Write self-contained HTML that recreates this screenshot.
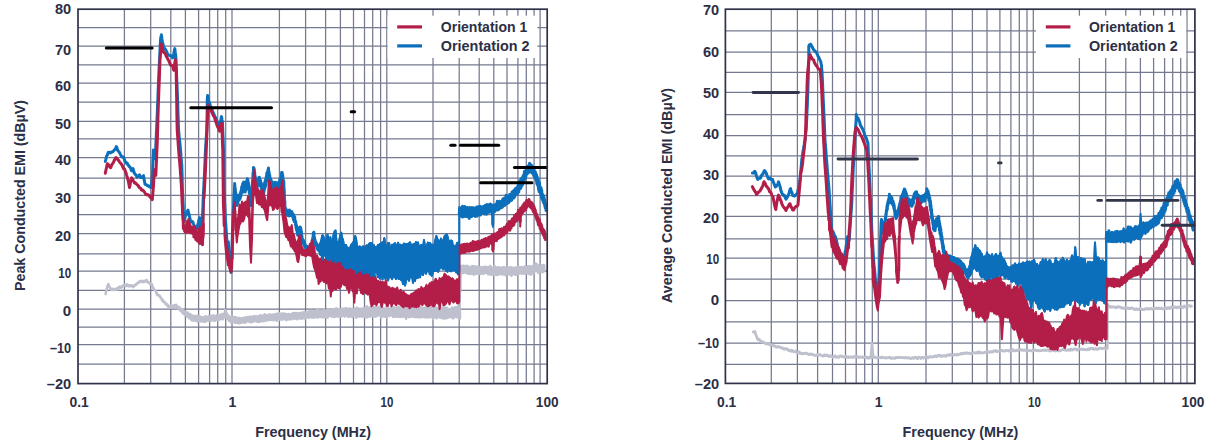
<!DOCTYPE html><html><head><meta charset="utf-8"><title>EMI</title>
<style>html,body{margin:0;padding:0;background:#fff;overflow:hidden;}svg{display:block}text{font-family:"Liberation Sans",sans-serif;font-weight:bold;fill:#2c2f45}</style></head><body>
<svg width="1209" height="447" viewBox="0 0 1209 447">
<rect width="1209" height="447" fill="#fff"/>
<path d="M78.0 27.5H547.2M78.0 46.1H547.2M78.0 64.9H547.2M78.0 83.1H547.2M78.0 102.2H547.2M78.0 121.3H547.2M78.0 138.8H547.2M78.0 157.6H547.2M78.0 178.0H547.2M78.0 195.4H547.2M78.0 214.6H547.2M78.0 233.6H547.2M78.0 253.8H547.2M78.0 271.2H547.2M78.0 290.3H547.2M78.0 309.2H547.2M78.0 327.1H547.2M78.0 344.6H547.2M78.0 364.1H547.2M124.4 9.2V383.6M150.7 9.2V383.6M170.8 9.2V383.6M185.4 9.2V383.6M198.6 9.2V383.6M209.6 9.2V383.6M217.7 9.2V383.6M225.7 9.2V383.6M232.0 9.2V383.6M279.4 9.2V383.6M305.6 9.2V383.6M325.6 9.2V383.6M340.4 9.2V383.6M353.5 9.2V383.6M364.5 9.2V383.6M372.7 9.2V383.6M380.6 9.2V383.6M386.8 9.2V383.6M433.0 9.2V383.6M459.2 9.2V383.6M479.2 9.2V383.6M493.8 9.2V383.6M507.0 9.2V383.6M517.9 9.2V383.6M526.3 9.2V383.6M534.1 9.2V383.6M540.1 9.2V383.6" stroke="#757a90" stroke-width="1.25" fill="none"/>
<rect x="387.6" y="15.7" width="149.8" height="42.3" fill="#fff"/>
<polyline points="105.6,294.1 105.8,293.1 106.1,291.5 106.3,290.7 106.6,289.7 106.8,288.4 107.1,287.6 107.4,286.3 107.7,285.6 108.0,285.1 108.3,284.2 108.5,284.8 108.8,285.4 109.0,286.3 109.3,286.5 109.5,287.2 109.8,287.7 110.1,287.7 110.4,288.5 110.6,289.2 110.9,289.5 111.2,289.8 111.5,289.4 111.8,289.1 112.1,288.7 112.4,288.8 112.7,289.4 113.0,289.5 113.3,290.0 113.6,290.0 113.9,289.5 114.2,289.5 114.4,289.3 114.7,289.6 115.0,288.9 115.3,289.8 115.6,289.5 115.9,289.7 116.2,289.4 116.5,289.2 116.8,288.5 117.1,288.9 117.4,288.2 117.7,289.2 118.0,289.5 118.2,288.6 118.5,287.9 118.8,287.5 119.1,286.9 119.4,286.7 119.7,286.9 120.0,287.2 120.3,287.0 120.6,287.7 120.8,287.2 121.1,286.8 121.4,287.5 121.7,287.2 122.0,287.0 122.3,286.1 122.6,286.0 122.9,286.0 123.2,285.9 123.5,285.7 123.7,285.4 124.0,285.5 124.3,285.9 124.6,285.9 124.9,285.2 125.2,285.7 125.5,285.8 125.8,285.9 126.1,286.2 126.4,285.2 126.7,285.6 127.0,284.2 127.3,284.6 127.6,284.9 127.9,285.6 128.2,285.5 128.5,285.9 128.8,285.5 129.1,286.4 129.4,285.6 129.7,285.9 130.0,285.3 130.3,285.5 130.6,286.0 130.9,285.8 131.2,285.3 131.5,285.5 131.8,286.2 132.1,286.0 132.4,285.6 132.7,286.0 133.0,286.4 133.3,287.1 133.6,286.1 133.9,286.2 134.2,285.9 134.5,285.5 134.8,285.6 135.1,285.5 135.4,284.6 135.7,284.4 135.9,284.8 136.2,284.0 136.5,284.2 136.8,283.6 137.1,284.0 137.4,283.7 137.7,282.8 138.0,282.6 138.3,282.5 138.6,282.2 138.9,282.1 139.2,281.8 139.5,282.3 139.8,281.2 140.1,281.6 140.4,281.7 140.7,281.2 141.0,281.2 141.3,280.9 141.6,280.9 141.9,281.7 142.2,281.8 142.5,281.3 142.8,282.1 143.1,281.1 143.4,281.4 143.7,281.5 144.0,282.0 144.3,281.8 144.6,281.7 144.9,281.1 145.2,280.9 145.5,281.5 145.8,280.2 146.1,280.2 146.4,280.0 146.7,280.0 147.0,281.0 147.3,282.1 147.6,282.3 147.9,282.1 148.2,282.5 148.5,282.2 148.8,282.4 149.1,282.8 149.3,283.0 149.6,283.4 149.9,283.7 150.2,284.1 150.5,283.8 150.8,283.4 151.1,283.2 151.4,284.0 151.7,284.1 152.0,285.2 152.3,285.5 152.6,286.7 152.9,287.4 153.2,288.4 153.5,288.3 153.8,289.2 154.0,289.5 154.3,289.5 154.6,289.9 154.9,290.1 155.2,290.4 155.5,291.1 155.8,291.2 156.1,291.9 156.4,293.2 156.7,292.9 157.0,294.6 157.3,294.2 157.5,295.0 157.8,295.2 158.1,295.1 158.4,295.5 158.7,295.2 159.0,295.3 159.3,295.7 159.6,295.8 159.9,296.5 160.2,296.3 160.5,297.7 160.8,297.9 161.0,297.8 161.3,298.4 161.6,298.9 161.9,299.8 162.2,299.8 162.5,300.2 162.8,301.4 163.1,300.2 163.4,300.9 163.7,301.8 164.0,302.1 164.2,301.8 164.5,302.6 164.8,302.3 165.1,303.4 165.4,302.9 165.7,304.2 166.0,303.5 166.3,304.4 166.6,304.1 166.9,305.3 167.2,304.4 167.5,305.8 167.7,305.0 168.0,306.2 168.3,305.6 168.6,307.2 168.9,306.3 169.2,307.8 169.5,306.5 169.8,307.5 170.1,306.4 170.4,307.6 170.7,305.8 171.0,307.3 171.3,305.9 171.6,307.6 171.9,305.7 172.2,307.1 172.5,306.0 172.7,307.1 173.0,305.9 173.3,306.9 173.6,305.5 173.9,306.8 174.2,305.4 174.5,306.7 174.8,305.3 175.1,306.6 175.4,305.3 175.7,306.4 176.0,304.8 176.3,306.6 176.6,305.7 176.9,307.5 177.2,306.2 177.5,307.8 177.8,306.5 178.1,308.3 178.4,307.1 178.7,308.8 179.0,307.3 179.3,309.7 179.6,307.6 179.9,309.8 180.1,308.3 180.4,310.6 180.7,309.0 181.0,310.9 181.3,309.0 181.6,311.7 181.9,309.4 182.2,312.2 182.5,309.8 182.8,313.2 183.1,310.1 183.4,313.7 183.7,311.2 184.0,313.5 184.3,311.3 184.6,314.6 184.9,311.7 185.2,314.5 185.5,312.1 185.8,314.8 186.1,312.6 186.4,315.5 186.7,312.5 187.0,316.5 187.3,313.6 187.6,316.3 187.9,312.8 188.1,316.5 188.4,313.6 188.7,317.1 189.0,314.7 189.3,318.1 189.6,314.7 189.9,317.8 190.2,314.1 190.5,318.3 190.8,315.4 191.1,319.3 191.4,315.4 191.7,320.2 192.0,315.5 192.3,320.2 192.6,316.4 192.9,320.4 193.2,316.1 193.5,319.3 193.8,315.8 194.0,320.6 194.3,316.9 194.6,319.4 194.9,316.4 195.2,320.3 195.5,316.4 195.8,319.8 196.1,316.0 196.4,320.7 196.7,316.0 197.0,320.9 197.3,317.2 197.5,321.6 197.8,316.0 198.1,320.4 198.4,316.4 198.7,320.8 199.0,316.3 199.3,321.3 199.6,316.3 199.9,320.6 200.2,317.3 200.5,320.9 200.8,317.4 201.0,321.3 201.3,317.3 201.6,321.4 201.9,317.8 202.2,320.3 202.5,317.5 202.8,321.2 203.1,317.2 203.4,321.2 203.7,317.3 204.0,321.8 204.3,317.4 204.6,321.4 204.9,317.6 205.2,320.8 205.5,316.3 205.8,321.5 206.1,316.7 206.4,320.3 206.7,316.8 207.0,320.7 207.3,317.2 207.6,320.2 207.9,317.0 208.2,320.1 208.4,316.9 208.7,320.7 209.0,316.0 209.3,320.8 209.6,316.7 209.9,320.7 210.2,316.5 210.5,321.1 210.8,316.0 211.1,319.4 211.4,316.0 211.7,319.9 212.0,316.6 212.3,319.4 212.6,316.7 212.9,319.4 213.2,315.4 213.5,320.4 213.8,316.4 214.1,319.0 214.4,316.6 214.7,321.0 215.0,316.5 215.3,318.9 215.6,316.2 215.8,319.5 216.1,315.9 216.4,319.0 216.7,315.4 217.0,320.0 217.3,314.9 217.6,318.8 217.9,315.3 218.2,319.2 218.5,315.7 218.8,319.1 219.1,315.0 219.4,319.6 219.7,315.3 219.9,319.1 220.2,315.2 220.5,319.0 220.8,314.8 221.1,319.0 221.4,314.7 221.7,318.6 222.0,314.0 222.3,319.3 222.6,315.0 222.9,319.2 223.2,314.5 223.4,318.2 223.7,314.7 224.0,317.4 224.3,313.9 224.6,317.2 224.8,312.6 225.1,314.7 225.3,310.2 225.6,311.1 225.8,310.2 226.1,314.8 226.3,313.0 226.6,318.2 226.9,314.1 227.2,318.6 227.5,315.4 227.8,319.2 228.1,315.2 228.4,319.4 228.7,316.2 229.0,320.6 229.3,317.1 229.6,320.6 229.9,317.0 230.2,320.4 230.5,317.7 230.8,322.2 231.1,317.4 231.4,321.3 231.7,317.4 232.0,321.1 232.3,316.7 232.6,320.9 232.9,317.7 233.2,321.9 233.5,317.1 233.8,321.4 234.1,318.4 234.4,321.7 234.7,317.3 234.9,322.5 235.2,317.7 235.5,322.9 235.8,317.4 236.1,321.5 236.4,318.4 236.7,321.6 237.0,318.6 237.3,321.7 237.6,318.4 237.9,323.0 238.2,318.2 238.5,321.8 238.8,317.9 239.1,322.7 239.4,319.0 239.7,323.3 240.0,318.8 240.3,322.3 240.6,318.3 240.9,321.9 241.2,319.1 241.5,322.7 241.8,318.7 242.1,322.1 242.4,319.0 242.7,321.7 243.0,318.4 243.3,322.3 243.6,317.7 243.9,321.9 244.2,317.7 244.5,322.6 244.8,318.6 245.1,322.4 245.4,317.9 245.7,322.5 246.0,318.1 246.3,321.6 246.6,317.0 246.9,321.3 247.2,317.2 247.5,321.2 247.8,317.5 248.1,321.0 248.4,318.0 248.7,321.1 249.0,317.8 249.3,321.6 249.6,316.8 249.9,321.8 250.2,317.9 250.5,322.2 250.8,317.8 251.1,322.1 251.4,316.7 251.7,321.8 252.0,316.9 252.3,320.7 252.5,317.8 252.8,321.4 253.1,317.5 253.4,321.7 253.7,317.1 254.0,320.4 254.3,316.0 254.6,320.5 254.9,316.2 255.2,320.6 255.5,316.7 255.8,321.0 256.1,316.6 256.4,321.5 256.7,316.6 257.0,320.6 257.3,317.2 257.6,321.2 257.9,316.9 258.2,321.9 258.5,316.2 258.8,321.3 259.1,316.1 259.4,320.4 259.7,315.7 260.0,321.7 260.3,315.3 260.6,320.3 260.9,316.7 261.2,320.1 261.5,315.9 261.8,320.6 262.1,315.8 262.4,320.2 262.7,316.6 263.0,321.3 263.3,316.1 263.6,320.8 263.9,316.1 264.2,320.9 264.5,314.4 264.8,320.8 265.1,315.8 265.4,320.2 265.7,315.3 266.0,319.7 266.3,315.6 266.6,320.0 266.9,315.6 267.2,320.4 267.5,315.8 267.8,319.4 268.1,316.1 268.4,319.9 268.7,314.5 269.0,319.8 269.3,316.0 269.6,319.7 269.9,315.7 270.2,318.8 270.5,314.5 270.8,319.8 271.1,315.3 271.4,319.9 271.7,315.5 272.0,319.9 272.3,314.7 272.6,318.8 272.9,315.6 273.2,319.9 273.5,314.5 273.8,320.0 274.1,315.3 274.4,320.0 274.7,315.1 275.0,319.3 275.3,314.4 275.6,318.9 275.9,315.0 276.2,319.7 276.5,313.9 276.8,320.6 277.1,315.0 277.4,319.1 277.7,314.1 278.0,319.3 278.3,313.7 278.6,319.1 278.9,314.4 279.2,318.2 279.5,313.2 279.8,319.6 280.1,314.4 280.4,319.2 280.7,314.1 281.0,319.2 281.3,313.7 281.6,319.5 281.9,313.7 282.2,319.4 282.5,315.0 282.8,319.5 283.1,314.2 283.4,318.8 283.7,313.6 284.0,318.7 284.3,314.9 284.6,318.9 284.9,313.7 285.2,318.7 285.5,314.9 285.8,318.0 286.1,314.5 286.4,320.1 286.7,314.3 287.0,318.4 287.3,314.6 287.6,318.2 287.9,314.3 288.2,318.8 288.5,314.6 288.8,319.5 289.1,314.0 289.4,318.4 289.7,314.3 290.0,318.6 290.3,314.7 290.6,318.2 290.9,314.6 291.2,319.3 291.5,314.4 291.8,318.3 292.1,313.9 292.4,318.4 292.7,313.3 293.0,318.0 293.3,313.5 293.6,317.9 293.9,313.1 294.2,318.6 294.5,313.2 294.8,317.6 295.1,313.9 295.4,317.9 295.7,313.1 296.0,318.1 296.3,313.5 296.6,319.1 296.9,314.1 297.1,318.2 297.4,313.1 297.7,318.9 298.0,314.0 298.3,317.4 298.6,314.0 298.9,317.3 299.2,313.5 299.5,318.3 299.8,313.8 300.1,317.3 300.4,313.1 300.7,318.6 301.0,313.0 301.3,317.1 301.6,313.6 301.9,317.5 302.2,312.9 302.5,318.4 302.8,313.4 303.1,316.7 303.4,313.6 303.7,317.0 304.0,312.1 304.3,316.8 304.6,313.4 304.9,318.4 305.2,312.3 305.5,316.8 305.8,312.8 306.1,317.2 306.4,312.3 306.7,316.5 307.0,313.3 307.3,317.2 307.6,312.2 307.9,317.8 308.2,313.2 308.5,317.7 308.8,311.5 309.1,317.4 309.4,311.6 309.7,316.2 310.0,311.7 310.3,317.2 310.5,311.3 310.8,317.2 311.1,310.8 311.4,316.5 311.7,312.7 312.0,317.4 312.3,311.9 312.6,317.0 312.9,311.6 313.2,317.6 313.5,311.5 313.8,317.5 314.1,311.6 314.4,316.5 314.7,311.3 315.0,316.4 315.3,312.2 315.6,315.8 315.9,312.2 316.2,317.3 316.5,311.7 316.8,316.6 317.1,309.6 317.4,316.0 317.7,311.3 318.0,317.4 318.3,310.2 318.6,316.4 318.9,311.8 319.2,316.3 319.5,311.7 319.8,316.7 320.1,310.7 320.4,316.7 320.7,311.1 321.0,315.9 321.3,311.7 321.6,317.1 321.9,311.4 322.2,316.9 322.5,311.3 322.8,317.3 323.1,310.2 323.4,316.7 323.7,310.8 324.0,317.2 324.3,310.3 324.6,315.3 324.9,311.8 325.2,317.1 325.5,310.6 325.8,316.6 326.1,310.4 326.4,317.0 326.7,310.5 327.0,316.3 327.3,311.3 327.6,317.8 327.9,311.0 328.2,315.4 328.5,309.8 328.8,315.8 329.1,310.4 329.4,315.3 329.7,311.0 330.0,315.6 330.3,311.5 330.6,315.6 330.8,310.6 331.1,315.4 331.4,311.4 331.7,316.7 332.0,309.6 332.3,315.7 332.6,309.3 332.9,315.4 333.2,310.6 333.5,315.6 333.8,310.8 334.1,317.0 334.4,311.1 334.7,316.8 335.0,311.3 335.3,316.5 335.6,309.1 335.9,316.5 336.2,308.2 336.5,315.8 336.8,310.9 337.1,316.2 337.4,309.6 337.7,315.9 338.0,310.6 338.3,315.1 338.6,309.7 338.9,316.7 339.2,309.9 339.5,316.4 339.8,309.0 340.1,315.0 340.4,309.7 340.7,315.1 341.0,309.7 341.3,316.5 341.6,309.2 341.9,316.2 342.2,308.8 342.5,314.6 342.8,308.9 343.1,315.6 343.4,310.2 343.7,315.5 344.0,310.8 344.3,314.8 344.6,308.6 344.9,316.4 345.2,310.7 345.5,315.4 345.8,309.3 346.1,314.7 346.4,308.4 346.7,314.6 347.0,310.0 347.3,315.9 347.6,308.8 347.9,315.9 348.2,310.1 348.5,316.7 348.8,309.1 349.1,316.7 349.4,309.9 349.7,314.4 350.0,308.6 350.3,314.8 350.6,310.2 350.9,314.9 351.2,309.3 351.5,316.4 351.8,309.8 352.1,317.0 352.4,308.7 352.7,315.1 353.0,309.0 353.3,316.2 353.6,310.3 353.9,314.9 354.2,308.8 354.5,314.3 354.8,309.4 355.1,314.8 355.4,309.9 355.7,316.5 356.0,309.6 356.3,317.7 356.6,307.9 356.9,315.3 357.2,309.8 357.5,314.7 357.8,308.2 358.1,315.9 358.4,310.2 358.7,314.3 359.0,309.1 359.3,316.8 359.6,310.2 359.9,316.4 360.2,308.9 360.5,314.2 360.8,309.6 361.1,316.3 361.4,308.9 361.7,314.6 362.0,309.2 362.3,316.7 362.6,309.4 362.9,315.1 363.2,308.3 363.5,316.2 363.8,309.9 364.1,314.4 364.4,309.1 364.7,314.2 365.0,308.3 365.3,317.3 365.6,309.6 365.9,315.4 366.2,309.8 366.5,314.2 366.8,306.4 367.1,317.3 367.4,308.8 367.7,316.1 368.0,307.9 368.3,316.5 368.6,307.7 368.9,314.9 369.2,308.6 369.5,316.1 369.8,307.7 370.1,316.4 370.4,307.3 370.7,314.9 371.0,309.6 371.3,315.5 371.6,309.6 371.9,315.5 372.2,307.9 372.5,315.6 372.8,307.4 373.1,315.3 373.4,308.1 373.7,315.5 374.0,307.7 374.3,314.4 374.6,308.0 374.9,315.3 375.2,307.4 375.5,316.7 375.8,308.2 376.1,314.6 376.4,309.4 376.7,315.7 377.0,308.7 377.3,315.3 377.6,307.7 377.9,315.5 378.2,307.2 378.5,314.9 378.8,308.2 379.1,314.1 379.4,309.2 379.7,315.0 380.0,306.5 380.3,315.1 380.6,309.2 380.9,317.5 381.2,308.2 381.5,316.3 381.8,307.4 382.1,316.7 382.4,307.7 382.7,316.0 383.0,308.5 383.3,315.0 383.6,309.6 383.9,316.1 384.2,308.7 384.5,315.5 384.8,308.5 385.1,316.8 385.4,309.1 385.7,316.0 386.0,308.4 386.3,315.1 386.6,307.5 386.9,317.8 387.2,309.2 387.5,314.6 387.8,307.7 388.1,314.2 388.4,309.6 388.7,315.2 389.0,309.6 389.3,316.0 389.6,309.7 389.9,315.5 390.2,309.3 390.5,314.5 390.8,307.5 391.1,315.3 391.4,307.7 391.7,315.2 392.0,308.0 392.3,315.4 392.6,309.5 392.9,316.8 393.2,309.7 393.5,316.9 393.8,307.3 394.1,316.2 394.4,309.6 394.7,316.8 395.0,308.2 395.3,316.2 395.6,309.1 395.9,314.7 396.2,308.6 396.5,314.4 396.8,308.9 397.1,316.8 397.4,308.3 397.7,316.7 398.0,307.4 398.3,316.0 398.6,307.4 398.9,315.6 399.2,306.7 399.5,316.3 399.8,308.4 400.1,317.0 400.4,309.2 400.7,314.7 401.0,309.2 401.3,315.2 401.6,309.8 401.9,316.1 402.2,307.8 402.5,316.9 402.8,308.7 403.1,316.5 403.4,307.5 403.7,316.3 404.0,309.8 404.3,315.7 404.6,308.1 404.9,316.5 405.2,305.7 405.5,316.6 405.8,307.8 406.1,318.6 406.4,307.7 406.7,316.2 407.0,309.4 407.3,316.5 407.6,307.2 407.9,316.4 408.2,308.8 408.5,315.6 408.8,309.4 409.1,317.2 409.4,307.4 409.7,315.9 410.0,308.2 410.3,315.6 410.6,307.9 410.9,316.6 411.2,308.1 411.5,315.3 411.8,309.9 412.1,316.4 412.4,309.6 412.7,315.8 413.0,309.8 413.3,316.8 413.6,309.8 413.9,314.7 414.2,307.6 414.5,316.9 414.8,307.2 415.1,316.9 415.4,308.3 415.7,317.0 416.0,307.6 416.3,316.0 416.6,308.0 416.9,317.0 417.2,307.1 417.5,316.2 417.8,309.7 418.1,314.7 418.4,309.1 418.7,317.3 419.0,308.6 419.3,317.4 419.6,308.1 419.9,316.1 420.2,307.3 420.5,316.7 420.8,308.7 421.1,315.4 421.4,307.8 421.7,317.3 422.0,309.3 422.3,315.3 422.6,308.9 422.9,316.6 423.2,308.2 423.5,314.8 423.8,308.5 424.1,315.3 424.4,309.3 424.7,317.2 425.0,307.8 425.3,316.9 425.6,307.7 425.9,315.4 426.2,309.6 426.5,317.1 426.8,307.7 427.1,315.5 427.4,309.1 427.7,316.4 428.0,309.4 428.3,317.4 428.6,305.6 428.9,317.1 429.2,309.3 429.5,315.0 429.8,308.0 430.1,317.2 430.4,307.2 430.7,315.8 431.0,307.7 431.3,316.5 431.6,307.3 431.9,315.6 432.2,309.8 432.5,317.3 432.8,308.6 433.1,318.7 433.4,307.2 433.7,317.1 434.0,308.5 434.3,316.1 434.6,309.8 434.9,316.6 435.1,308.6 435.4,316.3 435.7,307.7 436.0,317.5 436.3,309.4 436.6,318.3 436.9,307.7 437.2,316.8 437.5,309.7 437.8,315.8 438.1,309.1 438.4,316.6 438.7,309.3 439.0,317.3 439.3,309.6 439.6,316.9 439.9,307.6 440.2,315.4 440.5,310.0 440.8,317.8 441.1,308.5 441.4,316.2 441.7,308.2 442.0,318.3 442.3,309.0 442.6,317.1 442.9,306.4 443.2,315.5 443.5,307.9 443.8,316.8 444.1,307.7 444.4,318.6 444.7,307.2 445.0,317.0 445.3,308.8 445.6,318.0 445.9,308.3 446.2,315.6 446.5,309.8 446.8,316.2 447.1,307.8 447.4,317.9 447.7,308.7 448.0,317.0 448.3,309.5 448.6,315.9 448.9,309.9 449.2,317.3 449.5,309.2 449.8,315.2 450.1,309.4 450.4,315.2 450.7,310.1 451.0,315.1 451.3,309.8 451.6,317.2 451.9,307.8 452.2,317.1 452.5,307.9 452.8,318.2 453.1,308.9 453.4,318.1 453.7,310.0 454.0,316.3 454.3,309.7 454.6,316.5 454.9,307.6 455.2,315.7 455.5,307.6 455.8,316.1 456.1,307.2 456.4,317.1 456.7,307.9 457.0,315.8 457.3,306.7 457.6,315.7 457.9,309.7 458.2,317.1 458.5,309.4 458.8,316.4 459.1,307.5 459.4,318.1 459.7,307.6 460.0,317.9" fill="none" stroke="#bec0cd" stroke-width="2.6" stroke-linejoin="round" stroke-linecap="round"/><polygon points="460.0,306.4 460.3,288.6 460.3,292.0 460.0,319.2" fill="#bec0cd" stroke="#bec0cd" stroke-width="1.6" stroke-linejoin="round"/><polyline points="460.3,291.2 460.5,278.3 460.6,273.2 460.9,265.7 461.2,272.2 461.5,266.7 461.8,273.1 462.1,267.4 462.4,273.0 462.7,267.6 463.0,272.2 463.3,265.8 463.6,272.5 463.9,268.0 464.2,272.6 464.5,266.1 464.8,272.1 465.1,268.1 465.4,272.4 465.7,266.3 466.0,272.4 466.3,267.3 466.6,272.7 466.9,265.9 467.2,273.3 467.5,266.3 467.8,273.6 468.1,267.5 468.4,273.7 468.7,267.1 469.0,272.0 469.3,268.0 469.6,273.7 469.9,268.0 470.2,273.6 470.5,268.2 470.8,274.0 471.1,266.6 471.4,272.7 471.7,266.9 472.0,272.1 472.3,267.6 472.6,272.4 472.9,266.0 473.2,273.6 473.5,266.8 473.8,274.8 474.1,267.9 474.4,273.5 474.7,266.4 475.0,273.7 475.3,268.1 475.6,272.1 475.9,267.8 476.2,272.2 476.5,267.3 476.8,273.6 477.1,266.9 477.4,272.9 477.7,266.7 478.0,272.2 478.3,267.1 478.6,273.3 478.9,267.7 479.2,273.4 479.5,267.8 479.8,272.7 480.1,267.4 480.4,273.9 480.7,267.1 480.9,272.3 481.2,268.2 481.5,273.5 481.8,268.3 482.1,273.4 482.4,267.5 482.7,273.5 483.0,267.5 483.3,273.6 483.6,267.5 483.9,273.1 484.2,267.7 484.5,273.2 484.8,266.9 485.1,272.5 485.4,267.7 485.7,272.3 486.0,267.0 486.3,272.6 486.6,268.4 486.9,272.8 487.2,267.5 487.5,272.6 487.8,268.4 488.1,274.3 488.4,267.1 488.7,272.4 489.0,268.4 489.3,273.9 489.6,267.1 489.9,274.5 490.2,266.1 490.5,273.0 490.8,267.0 491.1,273.0 491.4,268.4 491.7,274.4 492.0,267.5 492.3,272.9 492.6,268.5 492.9,274.4 493.2,268.6 493.5,274.3 493.8,267.9 494.1,272.9 494.4,265.9 494.7,274.0 495.0,268.7 495.3,274.4 495.6,267.8 495.9,273.4 496.2,267.6 496.5,275.0 496.8,268.1 497.1,273.3 497.4,267.7 497.7,272.9 498.0,268.4 498.3,274.6 498.6,267.2 498.9,273.5 499.2,268.9 499.5,273.7 499.8,268.0 500.1,273.7 500.4,268.3 500.7,273.3 501.0,267.8 501.3,274.1 501.6,268.4 501.9,273.1 502.2,268.8 502.5,274.5 502.8,267.2 503.1,273.2 503.4,269.1 503.7,273.6 504.0,267.3 504.3,274.3 504.6,268.1 504.9,273.1 505.2,267.7 505.5,275.1 505.8,268.7 506.1,272.9 506.4,268.3 506.7,273.0 507.0,268.5 507.3,272.8 507.6,268.5 507.9,273.9 508.2,267.7 508.5,272.7 508.8,268.0 509.0,272.7 509.3,267.7 509.6,274.5 509.9,268.1 510.2,273.6 510.5,267.0 510.8,274.3 511.1,268.3 511.4,275.6 511.7,268.1 512.0,274.0 512.3,268.9 512.6,272.4 512.9,267.7 513.2,274.0 513.5,268.8 513.8,274.1 514.1,268.6 514.4,272.3 514.7,267.8 515.0,273.5 515.3,267.8 515.6,274.9 515.9,268.3 516.2,272.4 516.5,267.7 516.8,272.3 517.1,268.4 517.4,273.9 517.7,266.8 518.0,272.9 518.3,268.0 518.6,274.0 518.9,268.0 519.2,272.8 519.5,267.1 519.8,273.3 520.1,267.5 520.4,273.0 520.7,267.0 521.0,273.1 521.3,267.2 521.6,272.0 521.9,267.3 522.2,273.8 522.5,268.1 522.8,272.3 523.1,267.5 523.4,273.3 523.7,267.4 524.0,273.4 524.2,268.0 524.5,273.3 524.8,266.5 525.1,273.6 525.4,268.2 525.7,273.2 526.0,267.8 526.3,272.2 526.6,267.0 526.9,272.9 527.2,266.8 527.5,273.4 527.8,266.7 528.1,273.2 528.4,266.2 528.7,272.0 529.0,267.2 529.3,273.9 529.6,266.9 529.9,272.5 530.2,266.3 530.5,272.5 530.8,266.6 531.1,274.6 531.4,268.0 531.7,273.0 532.0,268.1 532.3,271.8 532.6,266.8 532.9,272.7 533.2,266.0 533.5,272.8 533.8,264.8 534.0,270.1 534.3,266.2 534.6,271.0 534.9,264.8 535.2,271.1 535.5,263.6 535.8,269.2 536.1,265.2 536.3,270.2 536.6,264.1 536.9,270.5 537.2,266.0 537.5,270.8 537.7,265.4 538.0,272.6 538.3,265.5 538.6,272.7 538.9,267.0 539.2,271.5 539.5,266.9 539.7,271.4 540.0,267.1 540.3,271.5 540.6,266.6 540.9,271.6 541.2,265.9 541.5,271.7 541.8,265.5 542.1,271.8 542.4,266.8 542.7,272.3 542.9,266.7 543.2,271.8 543.5,265.1 543.8,271.4 544.1,265.4 544.4,270.5" fill="none" stroke="#bec0cd" stroke-width="2.6" stroke-linejoin="round" stroke-linecap="round"/>
<polyline points="105.3,161.5 105.5,160.7 105.8,159.5 106.0,158.5 106.3,157.3 106.5,156.2 106.8,156.0 107.1,155.3 107.4,155.0 107.7,153.9 108.0,153.1 108.3,152.4 108.6,152.7 108.9,152.4 109.2,152.3 109.4,152.3 109.7,152.4 110.0,152.6 110.3,152.9 110.6,152.8 110.9,152.4 111.2,152.2 111.5,152.0 111.8,151.9 112.1,151.9 112.4,151.9 112.6,151.8 112.9,151.7 113.2,151.2 113.5,151.2 113.8,150.6 114.1,150.2 114.3,149.8 114.6,149.7 114.9,149.4 115.2,149.3 115.5,148.8 115.7,148.4 116.0,147.4 116.3,146.6 116.6,147.0 116.9,147.7 117.2,148.7 117.4,149.5 117.7,150.5 118.0,150.8 118.3,151.0 118.6,151.5 118.9,151.7 119.2,152.4 119.5,152.6 119.7,152.9 120.0,153.6 120.3,154.2 120.6,154.7 120.9,155.4 121.2,155.8 121.5,156.2 121.8,156.6 122.1,156.6 122.4,157.0 122.7,157.3 123.0,157.1 123.3,157.1 123.6,157.3 123.9,158.1 124.2,158.9 124.5,159.9 124.7,160.8 125.0,161.1 125.3,161.9 125.6,162.3 125.9,162.9 126.2,163.0 126.5,163.2 126.8,162.8 127.1,163.0 127.3,163.4 127.6,164.2 127.9,164.7 128.2,165.3 128.5,165.4 128.8,165.6 129.1,166.1 129.3,166.6 129.6,167.0 129.9,167.3 130.2,167.3 130.5,168.0 130.8,168.4 131.0,169.5 131.3,170.3 131.6,170.7 131.9,170.2 132.2,169.6 132.4,169.0 132.7,168.8 133.0,168.5 133.3,169.5 133.5,170.7 133.8,171.4 134.0,172.4 134.3,173.1 134.6,173.4 134.9,173.8 135.2,174.3 135.5,174.6 135.8,174.7 136.1,175.2 136.4,175.6 136.7,176.4 137.0,177.1 137.3,176.8 137.6,176.6 137.8,176.5 138.1,176.2 138.4,176.1 138.7,175.8 138.9,175.7 139.2,175.1 139.5,174.9 139.8,175.5 140.1,176.4 140.3,177.2 140.6,177.4 140.9,177.3 141.2,177.4 141.5,177.1 141.7,177.0 142.0,177.2 142.3,177.6 142.6,176.7 142.9,176.4 143.2,175.9 143.5,175.7 143.8,177.3 144.1,179.2 144.4,180.9 144.7,182.5 145.0,184.1 145.3,184.3 145.6,184.6 145.9,184.7 146.2,184.8 146.5,184.8 146.8,184.9 147.1,185.3 147.4,185.8 147.7,185.8 148.0,185.9 148.3,186.0 148.6,185.8 148.9,185.9 149.2,186.1 149.5,186.8 149.7,187.0 150.0,187.2 150.3,187.3 150.6,187.2 150.9,187.5 151.2,187.5 151.5,184.8 151.7,182.5 152.0,179.7 152.2,177.0 152.5,174.6 152.7,168.5 152.9,162.5 153.2,156.2 153.4,150.0 153.7,152.0 153.9,154.1 154.2,156.5 154.4,158.7 154.7,156.8 154.9,155.2 155.2,153.2 155.5,151.5 155.8,145.6 156.1,139.3 156.4,133.3 156.7,126.7 157.0,120.1 157.3,112.6 157.6,105.1 157.9,98.3 158.1,91.4 158.4,84.5 158.7,77.6 159.0,70.6 159.3,64.5 159.6,58.4 159.9,52.4 160.2,46.4 160.5,40.3 160.7,38.5 160.9,37.0 161.2,36.1 161.4,34.8 161.7,37.0 161.9,38.9 162.2,40.6 162.5,42.5 162.8,43.4 163.1,44.5 163.4,45.5 163.7,46.6 164.0,47.5 164.3,48.4 164.6,48.5 164.8,48.8 165.1,48.8 165.4,49.3 165.7,49.7 165.9,50.3 166.2,50.8 166.5,51.4 166.8,52.3 167.1,52.8 167.3,53.4 167.6,54.2 167.9,54.5 168.2,54.8 168.5,55.1 168.8,55.1 169.1,55.3 169.4,55.5 169.7,55.7 170.0,55.8 170.3,55.7 170.6,55.6 170.9,55.7 171.2,56.0 171.5,56.3 171.8,56.5 172.1,57.1 172.4,57.4 172.7,57.8 173.0,56.8 173.2,56.2 173.5,55.0 173.7,53.8 174.0,52.4 174.3,50.8 174.5,49.6 174.8,48.6 175.1,50.7 175.3,52.7 175.6,54.4 175.8,56.2 176.1,62.6 176.4,69.2 176.6,76.2 176.9,83.1 177.2,89.7 177.5,98.1 177.8,105.9 178.0,113.8 178.3,122.5 178.6,130.7 178.9,133.5 179.1,136.1 179.4,138.8 179.7,141.3 180.0,144.1 180.2,147.0 180.5,149.9 180.8,153.0 181.0,156.2 181.3,159.4 181.5,162.3 181.8,165.0 182.1,175.0 182.3,184.4 182.6,194.4 182.9,199.9 183.2,205.0 183.4,210.7 183.7,216.2 184.0,221.5 184.3,220.9 184.6,219.8 184.9,218.4 185.1,217.0 185.4,215.8 185.7,215.2 186.0,214.9 186.3,214.6 186.6,214.2 186.9,213.4 187.1,212.7 187.4,211.4 187.7,210.6 188.0,210.2 188.3,211.5 188.6,213.0 188.9,213.9 189.2,215.2 189.5,216.3 189.8,217.7 190.1,219.1 190.4,220.6 190.7,221.7 191.0,221.8 191.3,221.9 191.6,221.9 191.8,221.7 192.1,221.6 192.4,221.5 192.7,222.0 193.0,222.2 193.3,223.5 193.6,224.3 193.9,224.9 194.2,225.5 194.5,226.0 194.8,226.7 195.1,227.5 195.4,228.6 195.7,230.0 196.0,230.9 196.3,230.0 196.6,228.9 196.9,227.7 197.1,226.7 197.4,226.0 197.7,225.0 198.0,224.2 198.3,222.8 198.6,221.2 198.9,220.0 199.2,219.0 199.5,217.8 199.8,222.7 200.1,227.5 200.3,232.7 200.6,237.5 200.9,234.9 201.2,232.8 201.4,230.1 201.7,227.5 202.0,225.1 202.3,219.0 202.6,212.8 202.9,206.9 203.1,200.9 203.4,195.1 203.7,189.3 204.0,183.0 204.3,176.7 204.6,170.0 204.9,163.5 205.2,156.7 205.5,149.7 205.8,145.6 206.0,141.7 206.3,137.7 206.5,133.3 206.8,129.4 207.1,114.8 207.3,99.4 207.6,95.6 207.9,97.1 208.2,99.0 208.4,100.4 208.7,101.1 209.0,102.0 209.3,102.2 209.6,103.0 209.9,104.1 210.2,105.3 210.5,106.4 210.8,107.5 211.1,107.9 211.4,108.7 211.7,108.9 212.0,109.7 212.3,110.4 212.6,111.3 212.9,111.9 213.2,112.7 213.5,113.4 213.8,113.8 214.1,114.6 214.4,115.3 214.7,116.1 215.0,116.7 215.3,117.0 215.6,117.5 215.8,118.2 216.1,119.0 216.4,120.1 216.7,120.6 216.9,121.3 217.2,121.8 217.5,122.2 217.8,122.7 218.1,123.5 218.3,124.2 218.6,125.0 218.9,125.8 219.2,125.2 219.4,124.0 219.7,123.0 220.0,122.1 220.2,121.7 220.5,121.3 220.8,120.3 221.0,119.3 221.2,117.9 221.5,116.6 221.8,118.1 222.0,119.8 222.2,121.2 222.5,122.4 222.7,128.1 222.9,133.7 223.2,140.0 223.4,146.1 223.7,161.5 223.9,176.9 224.2,192.0 224.5,198.0 224.7,203.8 225.0,209.3 225.2,214.9 225.5,220.4 225.8,224.3 226.1,229.0 226.4,233.3 226.7,237.9 227.0,242.1 227.3,241.8 227.5,241.8 227.8,241.8 228.0,241.7 228.3,241.7 228.6,246.6 228.9,251.3 229.2,256.5 229.5,261.3 229.8,263.7 230.1,266.1 230.4,268.3 230.7,270.2 231.0,272.4 231.2,266.5 231.5,260.8 231.8,255.4 232.0,249.6 232.2,240.8 232.5,232.4 232.8,223.4 233.0,214.7 233.3,210.3 233.6,205.8 233.8,201.2 234.1,194.2 234.4,192.1 234.7,183.5 235.0,190.0 235.2,188.1 235.5,195.1 235.7,192.0 236.0,198.1 236.2,196.6 236.5,202.5 236.8,200.5 237.0,205.5 237.3,201.3 237.6,203.4 237.9,198.2 238.2,201.4 238.5,195.2 238.8,199.9 239.0,195.7 239.3,199.9 239.5,195.4 239.8,198.1 240.0,194.5 240.3,198.4 240.6,192.3 240.9,196.1 241.2,190.3 241.4,193.3 241.7,186.9 242.0,192.2 242.3,185.6 242.5,192.5 242.8,183.5 243.1,190.0 243.3,182.7 243.6,188.5 243.9,181.9 244.1,190.1 244.4,183.4 244.7,191.0 245.0,184.1 245.2,192.1 245.5,187.1 245.8,190.2 246.1,183.1 246.4,188.3 246.7,180.8 247.0,186.1 247.3,178.8 247.6,183.5 247.9,179.5 248.2,186.6 248.4,182.5 248.7,189.7 249.0,185.4 249.3,193.3 249.6,188.4 249.9,195.4 250.1,193.1 250.4,200.9 250.7,195.4 251.0,205.6 251.3,194.5 251.6,197.2 251.9,188.3 252.2,190.0 252.5,180.5 252.8,182.1 253.0,173.0 253.3,176.8 253.5,167.6 253.8,170.6 254.1,168.2 254.4,174.6 254.7,172.3 255.0,180.8 255.2,176.1 255.4,183.7 255.7,181.0 255.9,188.0 256.2,182.8 256.4,187.8 256.7,181.8 257.0,187.2 257.2,181.2 257.5,186.5 257.8,179.8 258.1,184.0 258.3,178.7 258.6,183.6 258.9,177.5 259.2,184.4 259.4,177.3 259.7,183.9 259.9,180.3 260.2,185.9 260.5,180.3 260.7,186.5 261.0,182.3 261.3,188.6 261.6,183.7 261.9,190.9 262.2,184.4 262.5,191.3 262.8,185.5 263.1,190.9 263.4,186.4 263.7,194.7 264.0,185.7 264.3,190.6 264.6,182.9 264.9,188.1 265.1,181.0 265.4,186.6 265.7,179.2 266.0,185.4 266.3,176.6 266.6,181.5 266.8,173.1 267.1,179.0 267.4,172.3 267.7,177.8 267.9,170.0 268.2,175.2 268.5,168.0 268.8,174.3 269.1,172.0 269.4,178.9 269.7,174.9 270.0,180.8 270.3,178.0 270.6,183.1 270.9,179.2 271.1,186.4 271.4,181.5 271.7,187.8 272.0,181.4 272.2,188.4 272.5,182.7 272.8,188.9 273.1,182.4 273.4,187.6 273.6,183.1 273.9,189.7 274.2,183.2 274.4,188.4 274.7,184.4 275.0,189.9 275.3,182.3 275.6,190.7 275.9,184.2 276.2,190.0 276.5,184.5 276.8,189.6 277.0,182.8 277.3,188.6 277.6,182.9 277.9,190.0 278.2,182.8 278.5,190.4 278.8,182.4 279.1,188.8 279.4,181.3 279.6,186.6 279.9,178.8 280.2,184.5 280.5,179.1 280.8,182.4 281.1,176.5 281.4,180.4 281.6,172.6 281.9,178.1 282.2,172.5 282.5,178.6 282.7,175.1 283.0,181.9 283.2,180.0 283.5,186.9 283.7,180.6 284.0,189.2 284.2,189.0 284.5,200.3 284.8,201.1 285.0,210.4 285.3,208.0 285.6,211.1 285.9,208.6 286.2,213.0 286.5,209.9 286.8,213.8 287.1,210.5 287.4,215.3 287.7,212.0 288.0,215.6 288.3,211.6 288.6,215.1 288.9,211.8 289.2,216.0 289.5,210.1 289.7,215.5 290.0,212.3 290.3,215.2 290.6,211.8 290.9,215.6 291.2,212.2 291.5,215.3 291.8,211.5 292.1,215.8 292.4,213.1 292.7,217.0 293.0,214.6 293.2,218.9 293.5,214.5 293.8,220.6 294.1,215.9 294.4,221.8 294.7,216.7 295.0,222.4 295.2,220.0 295.5,224.8 295.7,221.8 296.0,227.9 296.2,224.3 296.5,229.9 296.8,226.1 297.1,232.0 297.4,229.0 297.6,235.2 297.9,231.0 298.2,235.4 298.5,230.7 298.8,235.0 299.1,229.7 299.4,232.3 299.6,227.8 299.9,231.3 300.2,227.0 300.5,229.7 300.8,228.0 301.1,233.3 301.4,231.2 301.6,236.0 301.9,235.7 302.2,241.5 302.5,238.8 302.8,243.3 303.1,239.7 303.4,243.9 303.7,240.8 304.0,245.4 304.3,242.3 304.5,245.8 304.8,243.5 305.1,246.9 305.4,244.9 305.7,249.0 306.0,245.7 306.3,249.7 306.6,246.0 306.9,250.1 307.2,246.9 307.5,249.9 307.8,246.8 308.1,250.6 308.4,246.8 308.6,251.0 308.9,247.3 309.2,250.4 309.5,247.7 309.8,250.9 310.1,247.9 310.4,251.7 310.7,247.6 311.0,250.1 311.2,246.0 311.5,248.0 311.7,243.4 312.0,244.9 312.2,240.3 312.5,243.1 312.8,237.4 313.1,238.7 313.3,233.0 313.6,234.3 313.9,232.2 314.2,238.9 314.5,237.2 314.8,243.7 315.1,239.9 315.4,244.0 315.6,241.8 315.9,245.9 316.2,242.4 316.4,246.3 316.7,244.0 317.0,248.5 317.3,244.7 317.6,249.5 317.9,245.7 318.2,250.1 318.5,247.2 318.8,250.0 319.1,247.0 319.4,251.5 319.7,246.5 319.9,250.8 320.2,243.9 320.5,254.4 320.7,242.9 321.0,253.5" fill="none" stroke="#0b6fbc" stroke-width="3" stroke-linejoin="round" stroke-linecap="round"/><polygon points="321.0,240.4 321.6,238.2 322.3,235.4 322.9,235.5 323.5,236.9 324.5,241.2 325.5,244.8 326.5,239.7 327.5,234.7 328.5,238.7 329.5,243.6 330.3,237.3 331.2,243.7 332.0,244.1 332.8,239.4 333.7,234.4 334.5,231.6 335.5,230.5 336.5,241.6 337.3,242.2 338.2,244.1 339.0,241.9 339.7,238.5 340.5,234.5 341.2,232.7 342.1,238.0 343.0,239.8 344.0,246.5 345.0,245.2 346.0,245.1 347.0,248.0 348.0,248.6 349.0,248.1 350.0,248.6 351.0,245.4 352.1,243.9 353.1,242.6 354.2,241.0 355.2,236.1 356.1,239.4 357.0,246.5 357.8,246.8 358.6,249.0 359.5,246.6 360.3,246.7 361.2,251.2 362.2,247.5 363.1,246.3 364.1,249.9 365.0,249.6 366.0,246.3 367.0,245.3 368.0,247.6 369.0,244.2 370.0,243.0 371.0,247.5 372.0,243.1 373.0,248.2 374.0,245.2 375.0,250.5 376.0,247.1 377.0,248.9 377.9,244.9 378.8,246.3 379.7,244.0 380.7,244.4 381.6,242.8 382.5,242.4 383.4,244.4 384.3,238.2 385.3,246.1 386.2,246.4 387.2,245.5 388.1,243.0 389.1,243.0 390.0,249.3 391.0,248.0 392.0,244.7 393.0,245.1 394.0,244.1 395.0,243.2 396.0,246.5 397.0,247.2 398.0,242.8 399.0,246.5 400.0,244.7 401.0,245.2 402.0,245.5 403.0,245.4 404.0,243.6 405.0,244.9 406.0,244.0 407.0,247.5 408.0,243.8 409.0,243.9 410.0,242.3 411.0,245.7 412.0,245.2 413.0,244.5 414.0,243.9 415.0,244.1 416.0,242.1 417.0,245.1 418.0,242.5 419.0,248.3 420.0,247.7 421.0,245.0 422.0,245.8 423.0,248.1 424.0,240.1 425.0,247.1 426.0,248.0 426.9,245.6 427.9,242.6 428.9,245.5 429.8,243.0 430.8,247.8 431.8,244.5 432.7,246.8 433.7,247.0 434.6,243.7 435.5,239.4 436.4,236.0 437.3,239.1 438.2,240.6 439.1,243.4 440.0,242.1 441.0,238.6 442.0,242.2 443.0,242.5 444.0,238.2 444.9,235.7 445.8,235.6 446.6,234.3 447.5,236.4 448.4,240.2 449.3,243.8 450.2,241.5 451.1,240.5 452.0,241.0 453.0,247.0 454.0,245.8 455.0,247.6 456.0,247.3 457.0,243.1 458.0,242.6 458.6,246.2 459.3,247.5 459.4,207.1 459.4,215.8 459.3,271.5 458.6,272.3 458.0,274.2 457.0,271.5 456.0,272.2 455.0,267.8 454.0,270.3 453.0,269.5 452.0,270.5 451.1,271.2 450.2,271.1 449.3,265.9 448.4,265.4 447.5,271.7 446.6,267.5 445.8,270.5 444.9,267.9 444.0,266.4 443.0,269.2 442.0,267.3 441.0,266.0 440.0,268.5 439.1,268.4 438.2,271.8 437.3,267.7 436.4,270.1 435.5,271.1 434.6,271.1 433.7,269.3 432.7,272.9 431.8,275.8 430.8,273.1 429.8,274.3 428.9,269.2 427.9,271.1 426.9,269.1 426.0,273.7 425.0,270.9 424.0,269.5 423.0,275.0 422.0,273.1 421.0,271.1 420.0,277.3 419.0,273.6 418.0,277.8 417.0,277.9 416.0,274.3 415.0,281.0 414.0,276.1 413.0,282.8 412.0,273.9 411.0,277.1 410.0,275.2 409.0,280.7 408.0,278.3 407.0,276.6 406.0,280.8 405.0,285.5 404.0,282.1 403.0,283.9 402.0,278.5 401.0,280.0 400.0,276.8 399.0,279.0 398.0,276.7 397.0,278.2 396.0,278.9 395.0,277.0 394.0,276.6 393.0,276.5 392.0,279.1 391.0,276.9 390.0,276.6 389.1,275.6 388.1,280.4 387.2,276.4 386.2,275.5 385.3,278.8 384.3,274.4 383.4,273.0 382.5,279.3 381.6,275.2 380.7,273.9 379.7,278.4 378.8,273.0 377.9,277.0 377.0,271.4 376.0,272.3 375.0,270.4 374.0,276.4 373.0,275.1 372.0,270.7 371.0,276.0 370.0,269.6 369.0,270.4 368.0,273.2 367.0,271.7 366.0,272.1 365.0,273.5 364.1,269.4 363.1,273.6 362.2,270.5 361.2,270.6 360.3,268.0 359.5,268.2 358.6,271.5 357.8,270.4 357.0,265.3 356.1,273.4 355.2,267.0 354.2,268.9 353.1,269.1 352.1,268.9 351.0,265.9 350.0,266.3 349.0,268.3 348.0,268.0 347.0,268.7 346.0,265.8 345.0,267.7 344.0,265.1 343.0,265.0 342.1,260.1 341.2,259.7 340.5,261.6 339.7,261.4 339.0,259.7 338.2,259.6 337.3,261.3 336.5,262.2 335.5,262.3 334.5,256.2 333.7,259.2 332.8,256.5 332.0,261.3 331.2,256.8 330.3,258.6 329.5,256.5 328.5,260.2 327.5,256.0 326.5,258.8 325.5,254.3 324.5,255.4 323.5,253.8 322.9,259.7 322.3,259.1 321.6,254.8 321.0,255.2" fill="#0b6fbc" stroke="#0b6fbc" stroke-width="2" stroke-linejoin="round"/><polyline points="459.4,214.0 459.5,209.6 459.8,215.8 460.1,208.7 460.4,215.6 460.7,209.2 461.0,214.6 461.3,207.8 461.6,216.4 461.9,208.1 462.2,216.9 462.5,206.3 462.8,217.0 463.1,207.6 463.3,216.7 463.6,209.3 463.9,214.9 464.2,209.8 464.5,215.3 464.8,206.4 465.1,216.4 465.4,210.0 465.7,216.5 466.0,209.6 466.3,214.6 466.6,209.1 466.9,215.6 467.2,207.5 467.5,215.0 467.8,209.2 468.1,216.9 468.4,208.3 468.7,216.6 469.0,208.3 469.3,218.4 469.6,207.4 469.9,216.3 470.2,209.0 470.4,214.8 470.7,209.6 471.0,215.2 471.3,208.4 471.6,216.8 471.9,207.4 472.2,216.0 472.5,209.2 472.8,215.6 473.1,209.0 473.4,215.5 473.7,207.7 474.0,214.7 474.3,208.2 474.6,215.1 474.9,208.4 475.2,216.5 475.5,209.5 475.8,215.3 476.1,208.3 476.4,214.1 476.7,206.9 477.0,216.3 477.3,207.4 477.6,215.5 477.9,207.0 478.2,214.5 478.5,208.9 478.8,214.8 479.1,206.6 479.4,215.1 479.7,207.8 480.0,213.6 480.3,206.3 480.6,215.0 480.9,207.1 481.2,213.3 481.5,208.0 481.8,213.0 482.1,207.7 482.4,213.1 482.7,207.0 483.0,213.3 483.3,206.4 483.6,213.3 483.9,206.7 484.2,212.8 484.5,206.4 484.8,214.1 485.1,205.4 485.4,213.1 485.7,206.7 486.0,213.3 486.3,206.0 486.6,214.3 486.9,204.4 487.2,212.2 487.5,204.8 487.8,211.5 488.1,204.9 488.4,212.5 488.7,204.8 489.0,212.2 489.3,205.4 489.6,211.7 489.9,205.0 490.1,212.0 490.4,203.9 490.7,212.1 491.0,204.4 491.3,211.0 491.6,204.7 491.9,212.4 492.2,205.6 492.4,214.6 492.6,205.2 492.8,224.3" fill="none" stroke="#0b6fbc" stroke-width="3" stroke-linejoin="round" stroke-linecap="round"/><polygon points="492.8,205.2 493.4,205.2 493.4,212.5 492.8,226.8" fill="#0b6fbc" stroke="#0b6fbc" stroke-width="2" stroke-linejoin="round"/><polyline points="493.4,211.0 493.7,205.9 494.0,210.9 494.3,205.3 494.6,211.8 494.9,205.2 495.2,209.5 495.5,204.5 495.8,209.7 496.1,204.7 496.4,210.1 496.7,203.4 497.0,208.6 497.3,201.2 497.6,210.1 497.9,203.5 498.2,208.7 498.5,201.8 498.8,209.5 499.1,201.4 499.4,207.0 499.7,201.3 500.0,208.2 500.3,201.8 500.6,207.1 500.9,202.1 501.2,207.9 501.5,201.4 501.8,205.8 502.1,201.3 502.3,207.3 502.6,199.6 502.9,206.5 503.2,198.7 503.5,205.9 503.8,198.5 504.1,204.0 504.4,198.3 504.7,205.3 504.9,198.4 505.2,205.3 505.5,199.0 505.8,202.7 506.1,195.2 506.4,202.3 506.7,197.1 507.0,203.6 507.3,197.8 507.6,201.6 507.8,196.8 508.1,201.2 508.4,196.2 508.7,202.7 509.0,196.2 509.3,201.0 509.6,194.4 509.9,201.2 510.2,195.3 510.5,200.8 510.8,194.5 511.1,199.7 511.4,194.1 511.7,200.2 512.0,192.1 512.3,198.8 512.6,192.5 512.9,197.5 513.1,191.3 513.4,197.9 513.7,190.9 514.0,197.9 514.3,190.1 514.6,196.7 514.9,189.9 515.2,195.7 515.5,188.4 515.8,194.4 516.1,189.5 516.4,193.6 516.7,187.8 517.0,193.2 517.3,188.1 517.6,193.8 517.9,185.7 518.2,191.4 518.5,186.0 518.8,192.0 519.1,183.6 519.4,189.3 519.7,180.9 520.0,188.7 520.3,182.6 520.6,188.5 520.9,179.1 521.2,187.2 521.5,178.6 521.8,185.1 522.1,179.4 522.4,185.2 522.7,177.1 523.0,183.4 523.3,175.6 523.5,182.6 523.8,175.3 524.1,181.0 524.4,171.5 524.7,179.0 525.0,172.7 525.3,178.3 525.5,171.2 525.8,177.1 526.1,168.4 526.4,174.1 526.7,168.7 527.0,174.2 527.3,167.4 527.6,173.4 527.9,166.1 528.2,171.6 528.5,167.1 528.7,171.7 529.0,166.4 529.3,170.9 529.6,163.2 529.9,172.3 530.2,164.2 530.5,170.2 530.8,165.3 531.1,171.7 531.4,165.0 531.6,172.0 531.9,165.9 532.2,173.0 532.5,166.4 532.8,173.8 533.1,168.0 533.4,174.8 533.6,169.7 533.9,176.1 534.2,169.9 534.5,177.2 534.8,171.7 535.1,177.7 535.4,171.9 535.6,179.2 535.9,174.8 536.2,180.7 536.5,174.5 536.8,183.8 537.1,176.4 537.4,184.8 537.6,178.4 537.9,186.0 538.2,179.0 538.5,189.4 538.8,182.0 539.1,191.7 539.4,182.5 539.7,190.0 540.0,186.5 540.3,193.0 540.5,186.9 540.8,194.9 541.1,188.1 541.4,197.5 541.7,190.1 542.0,199.0 542.3,193.7 542.6,200.1 542.9,194.7 543.2,201.9 543.5,195.7 543.7,203.0 544.0,197.0 544.3,204.3 544.6,199.6 544.9,206.8 545.1,202.0 545.4,208.5 545.7,203.8 546.0,210.5" fill="none" stroke="#0b6fbc" stroke-width="3" stroke-linejoin="round" stroke-linecap="round"/>
<polyline points="105.3,173.3 105.5,171.9 105.8,171.0 106.0,169.8 106.3,168.5 106.6,167.4 106.8,165.9 107.1,164.7 107.4,163.7 107.7,163.8 107.9,164.3 108.2,164.5 108.5,164.6 108.7,165.2 109.0,165.9 109.3,166.5 109.6,166.5 109.9,167.1 110.2,167.3 110.5,167.8 110.8,167.4 111.1,166.6 111.4,165.8 111.7,164.9 111.9,164.6 112.2,164.1 112.5,163.7 112.8,163.5 113.1,162.9 113.4,162.3 113.7,161.9 113.9,161.3 114.2,160.6 114.5,160.1 114.8,159.4 115.1,158.9 115.4,158.2 115.7,157.9 116.0,157.5 116.3,157.7 116.6,158.2 116.9,158.4 117.1,158.9 117.4,159.0 117.7,159.5 118.0,159.7 118.3,160.2 118.6,160.6 118.9,160.9 119.2,161.3 119.5,161.8 119.7,162.1 120.0,162.5 120.3,162.8 120.6,163.0 120.9,163.5 121.2,163.9 121.5,164.4 121.8,164.8 122.1,165.1 122.3,165.8 122.6,166.3 122.9,167.3 123.2,167.8 123.5,168.6 123.8,168.7 124.0,168.9 124.3,168.8 124.6,169.1 124.8,169.8 125.1,170.6 125.4,171.4 125.7,172.0 125.9,172.8 126.2,173.3 126.5,174.6 126.8,175.6 127.1,176.9 127.4,177.7 127.7,178.7 128.0,179.6 128.3,181.2 128.6,182.6 128.9,184.3 129.2,185.7 129.5,187.5 129.8,186.2 130.0,185.0 130.2,183.9 130.5,182.3 130.8,181.2 131.1,180.0 131.3,178.8 131.6,177.9 131.9,178.2 132.1,178.7 132.4,178.9 132.7,179.6 132.9,179.9 133.2,180.7 133.5,181.2 133.7,181.4 134.0,182.0 134.3,182.7 134.6,183.1 134.9,183.2 135.2,183.0 135.5,182.8 135.8,183.2 136.1,183.4 136.4,184.0 136.7,184.3 137.0,184.7 137.3,184.9 137.6,185.1 137.8,185.2 138.1,185.7 138.4,186.1 138.7,186.3 138.9,187.0 139.2,187.5 139.5,187.6 139.8,187.7 140.1,187.8 140.3,188.0 140.6,188.2 140.9,188.9 141.2,189.6 141.5,189.9 141.7,190.2 142.0,190.2 142.3,189.8 142.6,189.9 142.9,190.3 143.1,190.6 143.4,190.8 143.7,191.0 143.9,191.5 144.2,191.8 144.5,192.1 144.8,192.6 145.0,192.8 145.3,193.4 145.6,193.9 145.9,194.4 146.1,194.7 146.4,194.8 146.7,194.5 147.0,194.5 147.3,194.9 147.6,194.7 147.8,195.0 148.1,195.1 148.4,195.0 148.7,195.1 149.0,195.4 149.3,195.5 149.6,195.8 149.8,196.7 150.1,197.0 150.4,197.5 150.7,197.8 150.9,197.6 151.2,197.7 151.5,198.0 151.8,198.5 152.0,199.0 152.3,199.7 152.6,196.3 152.9,192.7 153.2,189.1 153.5,185.8 153.7,181.8 153.9,178.1 154.2,173.9 154.4,169.7 154.7,171.0 155.0,172.0 155.2,172.8 155.5,174.2 155.8,175.3 156.1,169.4 156.3,164.0 156.6,158.2 156.8,152.5 157.1,146.3 157.4,137.1 157.7,127.9 157.9,118.7 158.2,109.6 158.5,100.4 158.8,92.5 159.1,84.7 159.4,76.4 159.7,68.1 160.0,59.7 160.3,55.8 160.6,51.9 160.8,47.9 161.1,44.0 161.4,45.0 161.7,46.0 161.9,47.4 162.2,48.3 162.5,49.6 162.8,50.0 163.1,50.9 163.3,51.9 163.6,52.1 163.9,52.5 164.2,52.7 164.4,52.7 164.7,53.1 165.0,53.6 165.3,54.1 165.6,54.7 165.9,55.4 166.2,55.7 166.4,56.7 166.7,56.9 167.0,57.5 167.3,58.0 167.6,58.8 167.9,59.2 168.2,59.8 168.5,60.5 168.8,60.7 169.1,61.5 169.3,61.8 169.6,62.8 169.9,63.5 170.2,64.4 170.5,64.9 170.8,65.3 171.1,65.2 171.4,65.0 171.6,65.1 171.9,65.6 172.2,65.7 172.5,66.2 172.8,66.6 173.0,67.3 173.3,68.4 173.5,69.8 173.8,70.3 174.1,68.7 174.3,66.7 174.6,64.6 174.8,62.8 175.1,61.1 175.4,59.6 175.7,63.3 175.9,67.0 176.2,70.8 176.4,85.2 176.7,100.1 176.9,114.7 177.2,130.2 177.5,134.1 177.8,138.3 178.1,142.2 178.3,145.7 178.6,149.4 178.9,153.1 179.2,157.2 179.5,160.7 179.8,163.5 180.0,166.6 180.3,169.7 180.5,173.3 180.8,176.9 181.0,180.5 181.3,184.2 181.6,190.6 181.9,197.4 182.2,203.8 182.5,210.6 182.7,214.9 182.9,219.0 183.2,220.7 183.4,228.6 183.7,225.3 183.9,229.1 184.2,227.3 184.5,230.8 184.7,228.2 185.0,231.8 185.3,229.0 185.6,232.1 185.8,227.6 186.1,231.5 186.4,225.4 186.7,232.5 187.0,225.9 187.3,230.6 187.5,221.2 187.8,230.0 188.1,222.9 188.4,231.0" fill="none" stroke="#b21e48" stroke-width="3" stroke-linejoin="round" stroke-linecap="round"/><polygon points="188.4,218.9 189.4,222.8 190.4,224.7 190.4,233.1 189.4,232.7 188.4,230.9" fill="#b21e48" stroke="#b21e48" stroke-width="2" stroke-linejoin="round"/><polyline points="190.4,230.9 190.7,227.3 191.0,232.3 191.3,228.0 191.5,233.0 191.8,227.1 192.1,233.1 192.4,228.3 192.7,232.9 193.0,228.0 193.3,234.0 193.6,227.8 193.9,236.9 194.2,226.3 194.5,235.2" fill="none" stroke="#b21e48" stroke-width="3" stroke-linejoin="round" stroke-linecap="round"/><polygon points="194.5,226.5 195.5,228.5 196.5,232.5 196.5,240.3 195.5,239.9 194.5,236.1" fill="#b21e48" stroke="#b21e48" stroke-width="2" stroke-linejoin="round"/><polyline points="196.5,239.9 196.8,231.7 197.1,239.5 197.4,233.8 197.6,241.2 197.9,234.3 198.2,239.9 198.5,235.0 198.8,239.5 199.0,233.3 199.3,240.7 199.5,229.0 199.8,243.5" fill="none" stroke="#b21e48" stroke-width="3" stroke-linejoin="round" stroke-linecap="round"/><polygon points="199.8,226.4 200.4,232.7 201.0,232.8 201.8,235.2 202.5,235.8 202.5,243.8 201.8,243.1 201.0,242.3 200.4,242.0 199.8,243.1" fill="#b21e48" stroke="#b21e48" stroke-width="2" stroke-linejoin="round"/><polyline points="202.5,244.7 202.8,233.3 203.0,236.3 203.3,224.1" fill="none" stroke="#b21e48" stroke-width="3" stroke-linejoin="round" stroke-linecap="round"/><polygon points="203.3,222.5 204.0,198.0 204.0,198.6 203.3,238.1" fill="#b21e48" stroke="#b21e48" stroke-width="2" stroke-linejoin="round"/><polyline points="204.0,197.8 204.3,192.4 204.6,186.5 204.9,180.8 205.2,175.4 205.5,170.0 205.8,161.8 206.1,154.0 206.4,145.8 206.7,137.9 207.0,130.0 207.3,122.7 207.5,115.5 207.8,108.3 208.1,105.0 208.4,105.8 208.6,106.2 208.9,106.7 209.2,107.4 209.5,107.7 209.7,108.3 210.0,108.9 210.3,109.0 210.6,109.5 210.9,110.0 211.1,110.6 211.4,111.4 211.7,111.6 212.0,112.5 212.3,112.9 212.6,113.8 212.9,114.7 213.1,115.2 213.4,115.8 213.7,116.0 214.0,116.2 214.3,116.8 214.6,117.9 214.9,118.7 215.2,119.8 215.5,120.7 215.8,121.7 216.1,122.6 216.4,123.5 216.7,124.3 217.0,125.2 217.3,126.0 217.6,126.8 217.9,127.2 218.2,127.9 218.5,128.1 218.8,128.4 219.1,129.3 219.4,130.2 219.7,131.2 220.0,130.5 220.2,129.8 220.5,128.7 220.8,127.2 221.0,125.6 221.3,124.3 221.5,123.3 221.8,126.9 222.0,130.7 222.3,137.6 222.5,144.1 222.8,150.2 223.1,176.7 223.4,203.5 223.7,210.4 223.9,214.3 224.2,225.6 224.5,225.5" fill="none" stroke="#b21e48" stroke-width="3" stroke-linejoin="round" stroke-linecap="round"/><polygon points="224.5,225.1 225.2,232.7 226.0,241.4 227.0,246.6 228.0,252.1 229.0,256.4 230.0,260.6 230.0,269.8 229.0,265.3 228.0,265.3 227.0,258.3 226.0,253.1 225.2,244.3 224.5,235.7" fill="#b21e48" stroke="#b21e48" stroke-width="2" stroke-linejoin="round"/><polyline points="230.0,268.4 230.3,262.6 230.5,270.9 230.8,266.8 231.0,271.8 231.3,268.8 231.6,268.4 231.9,258.3 232.2,258.7 232.4,244.5 232.6,242.7 232.8,227.8 233.1,230.1 233.3,220.5 233.6,216.5 233.8,211.7 234.1,211.9 234.4,205.8 234.7,212.9" fill="none" stroke="#b21e48" stroke-width="3" stroke-linejoin="round" stroke-linecap="round"/><polygon points="234.7,202.3 235.2,210.2 235.8,217.8 236.8,230.7 237.4,222.8 238.0,217.9 238.8,212.7 239.5,204.5 240.3,205.0 241.2,207.1 242.0,201.6 243.0,203.8 243.9,203.7 244.9,202.4 245.9,201.6 247.0,202.9 248.0,196.2 249.0,199.1 250.0,222.0 251.0,245.0 252.0,217.6 253.0,180.8 253.7,176.5 254.3,169.7 254.9,174.6 255.5,181.8 256.2,183.4 257.0,191.2 258.0,188.9 259.0,191.2 260.0,191.9 260.9,190.8 261.9,190.6 262.8,190.1 263.7,193.5 264.6,196.6 265.5,200.3 266.4,204.6 267.2,208.3 268.2,192.7 269.0,180.6 270.0,181.8 271.0,187.7 272.0,189.7 273.0,189.8 273.9,192.3 274.9,188.3 275.8,191.4 276.6,187.2 277.4,188.5 278.2,190.0 279.0,191.2 280.0,188.3 281.0,186.6 281.6,185.6 282.2,180.6 282.9,187.4 283.5,194.8 284.5,213.0 285.5,216.2 286.4,219.8 287.4,226.4 288.3,226.4 289.2,229.2 290.0,228.0 290.9,227.4 291.8,225.1 292.8,233.8 293.7,233.9 294.7,238.5 295.6,241.4 296.5,245.4 297.4,242.4 298.2,240.2 298.9,237.0 299.5,235.0 300.5,236.8 301.4,247.1 301.4,252.6 300.5,248.4 299.5,253.1 298.9,258.2 298.2,262.1 297.4,260.9 296.5,255.9 295.6,252.0 294.7,251.3 293.7,248.7 292.8,248.6 291.8,243.1 290.9,246.5 290.0,242.5 289.2,238.7 288.3,240.1 287.4,236.3 286.4,237.3 285.5,235.0 284.5,231.9 283.5,221.6 282.9,218.0 282.2,212.6 281.6,212.2 281.0,205.2 280.0,206.0 279.0,205.6 278.2,208.0 277.4,208.9 276.6,208.4 275.8,204.8 274.9,204.7 273.9,209.2 273.0,210.0 272.0,205.3 271.0,205.0 270.0,205.4 269.0,192.4 268.2,208.6 267.2,220.1 266.4,217.6 265.5,213.4 264.6,210.0 263.7,208.3 262.8,207.0 261.9,207.3 260.9,204.0 260.0,204.6 259.0,204.5 258.0,202.0 257.0,203.0 256.2,197.1 255.5,193.6 254.9,188.5 254.3,188.0 253.7,194.8 253.0,201.4 252.0,239.4 251.0,262.7 250.0,246.0 249.0,214.8 248.0,216.6 247.0,214.1 245.9,214.5 244.9,215.4 243.9,219.5 243.0,221.5 242.0,220.7 241.2,220.6 240.3,223.8 239.5,224.5 238.8,228.5 238.0,233.4 237.4,236.8 236.8,242.5 235.8,229.8 235.2,221.8 234.7,213.8" fill="#b21e48" stroke="#b21e48" stroke-width="2" stroke-linejoin="round"/><polyline points="301.4,252.7 301.7,248.2 302.0,252.9 302.2,247.8 302.5,254.7 302.8,249.8 303.1,254.1 303.3,250.1 303.6,254.5 303.9,251.4 304.2,254.9 304.4,250.6 304.7,255.2 305.0,251.4 305.3,255.4 305.6,251.4 305.8,255.8 306.1,250.4 306.4,254.7 306.7,250.2 307.0,254.8 307.2,250.5 307.5,253.5 307.8,249.4 308.1,254.4 308.4,248.1 308.7,253.7 309.0,248.8 309.3,253.2 309.6,247.4 309.9,255.1 310.2,244.2 310.5,254.0 310.8,244.6 311.1,255.4 311.4,243.5 311.7,254.6 312.0,242.0" fill="none" stroke="#b21e48" stroke-width="3" stroke-linejoin="round" stroke-linecap="round"/><polygon points="312.0,240.3 313.0,246.3 314.0,246.3 315.0,253.5 316.0,256.9 317.0,255.6 318.0,257.8 318.6,259.1 319.2,259.3 320.1,258.8 321.1,258.5 322.0,259.7 323.0,262.2 324.0,260.9 325.0,259.4 326.0,260.5 327.0,262.0 328.0,256.8 328.9,263.7 329.9,261.3 330.8,263.1 331.7,257.4 332.6,258.9 333.4,258.7 334.3,263.9 335.1,263.1 336.0,264.5 336.8,261.2 337.5,261.8 338.3,261.6 339.2,263.2 340.1,261.4 340.9,261.5 341.8,262.4 342.7,263.3 343.6,265.0 344.4,259.6 345.3,265.3 346.1,264.5 347.0,266.9 348.0,264.2 349.0,267.8 350.0,264.3 350.9,263.5 351.8,266.9 352.6,269.3 353.5,267.3 354.3,267.8 355.1,268.1 355.9,268.0 356.8,264.3 357.6,272.8 358.4,268.6 359.3,269.7 360.2,269.5 361.2,271.5 362.1,272.3 363.0,270.7 364.0,273.3 364.9,273.0 365.9,270.8 366.8,273.0 367.8,271.6 368.7,271.5 369.7,272.5 370.6,277.3 371.6,268.9 372.5,271.4 373.5,278.1 374.4,275.0 375.4,276.9 376.4,280.0 377.3,281.8 378.2,280.8 379.1,281.7 380.0,283.0 380.9,281.8 381.8,284.1 382.8,281.7 383.8,286.3 384.8,282.7 385.8,280.6 386.7,287.2 387.7,286.9 388.7,286.7 389.7,287.7 390.6,289.3 391.6,288.5 392.5,287.7 393.4,290.3 394.4,288.5 395.3,289.4 396.2,290.2 397.2,287.5 398.1,292.0 399.1,290.6 400.0,292.5 400.8,289.8 401.5,292.8 402.5,294.1 403.5,291.5 404.5,293.5 405.6,293.9 406.6,294.9 407.6,295.3 408.6,295.5 409.6,296.8 410.6,295.1 411.5,293.8 412.5,294.4 413.5,292.7 414.5,292.9 415.4,291.7 416.4,290.3 417.4,291.6 418.4,289.0 419.3,289.5 420.3,289.7 421.3,287.0 422.4,288.8 423.4,288.7 424.4,288.2 425.5,287.4 426.5,284.8 427.5,287.0 428.5,287.1 429.6,283.2 430.6,284.5 431.6,282.0 432.7,282.2 433.7,283.8 434.7,280.6 435.7,278.7 436.6,280.4 437.6,281.0 438.6,282.2 439.6,278.1 440.6,279.4 441.6,279.0 442.5,277.4 443.5,277.3 444.5,273.8 445.5,274.6 446.5,275.9 447.5,277.4 448.5,276.4 449.5,277.6 450.5,278.0 451.5,280.6 452.5,278.4 453.4,279.4 454.3,282.0 455.2,280.7 456.2,280.6 457.1,279.1 458.0,280.4 458.6,284.0 459.3,281.4 459.4,246.7 459.4,253.5 459.3,301.3 458.6,303.0 458.0,303.6 457.1,303.3 456.2,301.4 455.2,299.9 454.3,301.5 453.4,302.5 452.5,301.0 451.5,299.0 450.5,301.2 449.5,304.4 448.5,301.1 447.5,300.2 446.5,302.5 445.5,304.1 444.5,305.0 443.5,304.9 442.5,301.6 441.6,301.0 440.6,302.1 439.6,309.2 438.6,300.2 437.6,303.6 436.6,301.9 435.7,301.0 434.7,305.8 433.7,306.5 432.7,305.9 431.6,303.0 430.6,304.9 429.6,305.4 428.5,306.1 427.5,306.2 426.5,305.5 425.5,303.5 424.4,303.6 423.4,302.3 422.4,305.2 421.3,303.0 420.3,302.8 419.3,305.5 418.4,306.8 417.4,305.8 416.4,307.1 415.4,306.3 414.5,307.0 413.5,304.7 412.5,306.5 411.5,306.8 410.6,305.4 409.6,308.3 408.6,305.6 407.6,306.3 406.6,306.2 405.6,306.1 404.5,305.4 403.5,307.4 402.5,306.4 401.5,305.8 400.8,305.1 400.0,301.1 399.1,304.0 398.1,302.1 397.2,303.0 396.2,305.4 395.3,301.7 394.4,303.7 393.4,302.8 392.5,303.5 391.6,306.3 390.6,302.6 389.7,303.1 388.7,302.7 387.7,306.1 386.7,305.8 385.8,301.8 384.8,302.8 383.8,301.3 382.8,302.5 381.8,307.0 380.9,303.8 380.0,301.1 379.1,302.0 378.2,302.0 377.3,303.0 376.4,305.5 375.4,302.5 374.4,303.9 373.5,301.8 372.5,304.8 371.6,306.2 370.6,302.1 369.7,294.9 368.7,293.8 367.8,294.6 366.8,293.1 365.9,293.4 364.9,290.9 364.0,290.2 363.0,294.2 362.1,290.1 361.2,293.1 360.2,289.0 359.3,286.8 358.4,287.5 357.6,287.5 356.8,293.4 355.9,287.1 355.1,292.0 354.3,302.6 353.5,292.1 352.6,291.1 351.8,287.7 350.9,286.2 350.0,288.4 349.0,292.9 348.0,286.8 347.0,288.8 346.1,284.7 345.3,284.2 344.4,285.3 343.6,284.1 342.7,282.6 341.8,282.8 340.9,286.9 340.1,286.3 339.2,288.6 338.3,287.0 337.5,287.6 336.8,287.0 336.0,289.6 335.1,289.0 334.3,287.1 333.4,288.8 332.6,290.9 331.7,287.1 330.8,296.4 329.9,286.3 328.9,288.5 328.0,282.2 327.0,281.9 326.0,283.5 325.0,279.1 324.0,282.0 323.0,277.7 322.0,280.5 321.1,280.1 320.1,281.7 319.2,282.4 318.6,284.0 318.0,276.3 317.0,277.8 316.0,272.9 315.0,269.5 314.0,267.1 313.0,261.8 312.0,254.9" fill="#b21e48" stroke="#b21e48" stroke-width="2" stroke-linejoin="round"/><polyline points="459.4,253.0 459.5,245.5 459.8,251.7 460.1,246.2 460.4,253.2 460.7,246.3 461.0,251.5 461.3,246.3 461.6,252.7 461.9,245.0 462.2,251.6 462.5,246.9 462.8,250.8 463.1,245.8 463.3,250.8 463.6,244.6 463.9,252.5 464.2,246.0 464.5,251.0 464.8,244.2 465.1,252.2 465.4,244.6 465.7,251.1 466.0,244.5 466.3,251.1 466.6,244.3 466.9,249.8 467.2,244.1 467.5,251.1 467.8,245.3 468.1,249.8 468.4,244.5 468.7,251.2 469.0,245.1 469.3,251.0 469.6,244.2 469.9,250.9 470.2,244.8 470.4,250.7 470.7,243.3 471.0,250.2 471.3,243.8 471.6,250.3 471.9,243.9 472.2,250.3 472.5,242.7 472.8,250.6 473.1,241.5 473.4,249.0 473.7,244.0 474.0,249.0 474.3,243.4 474.6,249.9 474.9,242.3 475.2,249.5 475.5,242.5 475.8,248.2 476.1,242.5 476.4,249.0 476.7,242.0 477.0,249.5 477.3,242.0 477.6,247.5 477.9,242.9 478.2,247.0 478.5,241.2 478.8,248.5 479.1,242.6 479.4,248.6 479.7,242.0 480.0,247.3 480.3,242.0 480.6,247.6 480.9,242.0 481.2,247.5 481.5,240.7 481.8,247.5 482.1,240.3 482.4,246.3 482.7,240.9 483.0,247.0 483.3,240.3 483.6,246.5 483.9,239.6 484.2,245.1 484.5,240.8 484.8,247.0 485.1,240.3 485.4,246.6 485.7,238.6 486.0,245.2 486.3,239.8 486.6,245.1 486.9,239.6 487.2,245.2 487.5,239.1 487.8,244.9 488.1,238.2 488.4,246.2 488.7,237.5 488.9,244.5 489.2,237.3 489.5,243.3 489.8,238.3 490.1,242.6 490.4,236.8 490.7,242.5 491.0,237.7 491.2,243.3 491.5,236.5 491.8,242.1 492.1,235.2 492.4,241.4 492.6,237.0 492.8,250.0 493.0,240.3" fill="none" stroke="#b21e48" stroke-width="3" stroke-linejoin="round" stroke-linecap="round"/><polygon points="493.0,237.4 493.6,234.1 493.6,243.7 493.0,251.5" fill="#b21e48" stroke="#b21e48" stroke-width="2" stroke-linejoin="round"/><polyline points="493.6,241.8 493.9,234.3 494.1,241.3 494.4,234.1 494.7,240.6 495.0,234.5 495.2,239.7 495.5,234.0 495.8,238.7 496.1,233.9 496.4,240.8 496.7,233.9 496.9,238.4 497.2,233.3 497.5,237.5 497.8,232.4 498.1,238.6 498.4,233.1 498.7,237.2 499.0,232.4 499.3,237.8 499.6,229.4 499.8,237.5 500.1,231.5 500.4,237.1 500.7,229.4 501.0,236.7 501.3,229.0 501.6,236.2 501.9,229.0 502.2,234.6 502.4,230.2 502.7,235.2 503.0,229.2 503.3,234.5 503.6,228.7 503.9,235.0 504.2,227.4 504.5,233.4 504.8,227.7 505.1,232.3 505.4,227.1 505.7,233.1 506.0,227.3 506.3,231.7 506.6,225.8 506.9,232.1 507.2,224.3 507.5,230.3 507.8,225.4 508.1,229.5 508.4,223.4 508.7,229.1 509.0,221.5 509.3,228.2 509.6,222.0 509.9,230.3 510.2,222.5 510.5,228.2 510.8,222.0 511.1,227.9 511.4,221.2 511.7,225.4 512.0,219.4 512.3,226.0 512.6,218.8 512.9,225.4 513.2,219.5 513.5,225.3 513.8,218.3 514.1,224.4 514.4,216.2 514.6,222.1 514.9,215.5 515.2,221.8 515.5,216.3 515.8,221.1 516.1,214.3 516.4,220.2 516.7,214.8 517.0,220.5 517.3,213.4 517.6,218.7 517.8,213.0 518.1,217.8 518.4,210.2 518.7,217.5 519.0,211.5 519.2,218.3 519.5,210.4 519.8,215.6 520.0,211.3 520.2,221.7" fill="none" stroke="#b21e48" stroke-width="3" stroke-linejoin="round" stroke-linecap="round"/><polygon points="520.2,207.7 520.6,208.3 520.6,216.7 520.2,226.6" fill="#b21e48" stroke="#b21e48" stroke-width="2" stroke-linejoin="round"/><polyline points="520.6,215.9 520.9,209.3 521.2,214.8 521.5,207.8 521.8,212.7 522.1,207.2 522.4,212.9 522.7,205.8 523.0,212.2 523.3,206.5 523.5,211.4 523.8,204.2 524.1,210.4 524.4,203.6 524.7,209.1 525.0,202.8 525.3,208.1 525.5,203.1 525.8,209.9 526.1,202.0 526.4,207.6 526.7,200.6 527.0,207.2 527.3,201.3 527.6,206.0 527.8,201.3 528.1,204.7 528.4,201.1 528.7,205.6 529.0,199.6 529.3,204.4 529.6,201.3 529.9,205.7 530.1,201.5 530.4,207.2 530.7,202.8 531.0,206.7 531.3,203.5 531.6,208.4 531.9,202.8 532.1,208.6 532.4,203.8 532.7,210.0 533.0,204.8 533.3,211.6 533.6,205.7 533.9,211.8 534.1,206.9 534.4,213.3 534.7,208.8 535.0,214.4 535.3,210.2 535.6,215.8 535.9,213.0 536.1,217.3 536.4,213.8 536.7,219.5 537.0,215.8 537.3,220.6 537.6,217.0 537.9,222.4 538.1,218.1 538.4,224.8 538.7,219.0 539.0,225.3 539.3,219.6 539.6,226.2 539.9,222.1 540.1,228.4 540.4,223.4 540.7,229.2 541.0,224.0 541.3,230.7 541.6,225.6 541.8,231.7 542.1,227.5 542.4,233.2 542.7,229.0 543.0,233.8 543.2,230.7 543.5,235.5 543.8,230.0 544.1,236.3 544.4,231.3 544.6,237.9 544.9,234.3 545.2,239.5" fill="none" stroke="#b21e48" stroke-width="3" stroke-linejoin="round" stroke-linecap="round"/>
<clipPath id="cl"><rect x="321" y="0" width="137.5" height="447"/></clipPath>
<g clip-path="url(#cl)"><polyline points="105.3,161.5 105.5,160.7 105.8,159.5 106.0,158.5 106.3,157.3 106.5,156.2 106.8,156.0 107.1,155.3 107.4,155.0 107.7,153.9 108.0,153.1 108.3,152.4 108.6,152.7 108.9,152.4 109.2,152.3 109.4,152.3 109.7,152.4 110.0,152.6 110.3,152.9 110.6,152.8 110.9,152.4 111.2,152.2 111.5,152.0 111.8,151.9 112.1,151.9 112.4,151.9 112.6,151.8 112.9,151.7 113.2,151.2 113.5,151.2 113.8,150.6 114.1,150.2 114.3,149.8 114.6,149.7 114.9,149.4 115.2,149.3 115.5,148.8 115.7,148.4 116.0,147.4 116.3,146.6 116.6,147.0 116.9,147.7 117.2,148.7 117.4,149.5 117.7,150.5 118.0,150.8 118.3,151.0 118.6,151.5 118.9,151.7 119.2,152.4 119.5,152.6 119.7,152.9 120.0,153.6 120.3,154.2 120.6,154.7 120.9,155.4 121.2,155.8 121.5,156.2 121.8,156.6 122.1,156.6 122.4,157.0 122.7,157.3 123.0,157.1 123.3,157.1 123.6,157.3 123.9,158.1 124.2,158.9 124.5,159.9 124.7,160.8 125.0,161.1 125.3,161.9 125.6,162.3 125.9,162.9 126.2,163.0 126.5,163.2 126.8,162.8 127.1,163.0 127.3,163.4 127.6,164.2 127.9,164.7 128.2,165.3 128.5,165.4 128.8,165.6 129.1,166.1 129.3,166.6 129.6,167.0 129.9,167.3 130.2,167.3 130.5,168.0 130.8,168.4 131.0,169.5 131.3,170.3 131.6,170.7 131.9,170.2 132.2,169.6 132.4,169.0 132.7,168.8 133.0,168.5 133.3,169.5 133.5,170.7 133.8,171.4 134.0,172.4 134.3,173.1 134.6,173.4 134.9,173.8 135.2,174.3 135.5,174.6 135.8,174.7 136.1,175.2 136.4,175.6 136.7,176.4 137.0,177.1 137.3,176.8 137.6,176.6 137.8,176.5 138.1,176.2 138.4,176.1 138.7,175.8 138.9,175.7 139.2,175.1 139.5,174.9 139.8,175.5 140.1,176.4 140.3,177.2 140.6,177.4 140.9,177.3 141.2,177.4 141.5,177.1 141.7,177.0 142.0,177.2 142.3,177.6 142.6,176.7 142.9,176.4 143.2,175.9 143.5,175.7 143.8,177.3 144.1,179.2 144.4,180.9 144.7,182.5 145.0,184.1 145.3,184.3 145.6,184.6 145.9,184.7 146.2,184.8 146.5,184.8 146.8,184.9 147.1,185.3 147.4,185.8 147.7,185.8 148.0,185.9 148.3,186.0 148.6,185.8 148.9,185.9 149.2,186.1 149.5,186.8 149.7,187.0 150.0,187.2 150.3,187.3 150.6,187.2 150.9,187.5 151.2,187.5 151.5,184.8 151.7,182.5 152.0,179.7 152.2,177.0 152.5,174.6 152.7,168.5 152.9,162.5 153.2,156.2 153.4,150.0 153.7,152.0 153.9,154.1 154.2,156.5 154.4,158.7 154.7,156.8 154.9,155.2 155.2,153.2 155.5,151.5 155.8,145.6 156.1,139.3 156.4,133.3 156.7,126.7 157.0,120.1 157.3,112.6 157.6,105.1 157.9,98.3 158.1,91.4 158.4,84.5 158.7,77.6 159.0,70.6 159.3,64.5 159.6,58.4 159.9,52.4 160.2,46.4 160.5,40.3 160.7,38.5 160.9,37.0 161.2,36.1 161.4,34.8 161.7,37.0 161.9,38.9 162.2,40.6 162.5,42.5 162.8,43.4 163.1,44.5 163.4,45.5 163.7,46.6 164.0,47.5 164.3,48.4 164.6,48.5 164.8,48.8 165.1,48.8 165.4,49.3 165.7,49.7 165.9,50.3 166.2,50.8 166.5,51.4 166.8,52.3 167.1,52.8 167.3,53.4 167.6,54.2 167.9,54.5 168.2,54.8 168.5,55.1 168.8,55.1 169.1,55.3 169.4,55.5 169.7,55.7 170.0,55.8 170.3,55.7 170.6,55.6 170.9,55.7 171.2,56.0 171.5,56.3 171.8,56.5 172.1,57.1 172.4,57.4 172.7,57.8 173.0,56.8 173.2,56.2 173.5,55.0 173.7,53.8 174.0,52.4 174.3,50.8 174.5,49.6 174.8,48.6 175.1,50.7 175.3,52.7 175.6,54.4 175.8,56.2 176.1,62.6 176.4,69.2 176.6,76.2 176.9,83.1 177.2,89.7 177.5,98.1 177.8,105.9 178.0,113.8 178.3,122.5 178.6,130.7 178.9,133.5 179.1,136.1 179.4,138.8 179.7,141.3 180.0,144.1 180.2,147.0 180.5,149.9 180.8,153.0 181.0,156.2 181.3,159.4 181.5,162.3 181.8,165.0 182.1,175.0 182.3,184.4 182.6,194.4 182.9,199.9 183.2,205.0 183.4,210.7 183.7,216.2 184.0,221.5 184.3,220.9 184.6,219.8 184.9,218.4 185.1,217.0 185.4,215.8 185.7,215.2 186.0,214.9 186.3,214.6 186.6,214.2 186.9,213.4 187.1,212.7 187.4,211.4 187.7,210.6 188.0,210.2 188.3,211.5 188.6,213.0 188.9,213.9 189.2,215.2 189.5,216.3 189.8,217.7 190.1,219.1 190.4,220.6 190.7,221.7 191.0,221.8 191.3,221.9 191.6,221.9 191.8,221.7 192.1,221.6 192.4,221.5 192.7,222.0 193.0,222.2 193.3,223.5 193.6,224.3 193.9,224.9 194.2,225.5 194.5,226.0 194.8,226.7 195.1,227.5 195.4,228.6 195.7,230.0 196.0,230.9 196.3,230.0 196.6,228.9 196.9,227.7 197.1,226.7 197.4,226.0 197.7,225.0 198.0,224.2 198.3,222.8 198.6,221.2 198.9,220.0 199.2,219.0 199.5,217.8 199.8,222.7 200.1,227.5 200.3,232.7 200.6,237.5 200.9,234.9 201.2,232.8 201.4,230.1 201.7,227.5 202.0,225.1 202.3,219.0 202.6,212.8 202.9,206.9 203.1,200.9 203.4,195.1 203.7,189.3 204.0,183.0 204.3,176.7 204.6,170.0 204.9,163.5 205.2,156.7 205.5,149.7 205.8,145.6 206.0,141.7 206.3,137.7 206.5,133.3 206.8,129.4 207.1,114.8 207.3,99.4 207.6,95.6 207.9,97.1 208.2,99.0 208.4,100.4 208.7,101.1 209.0,102.0 209.3,102.2 209.6,103.0 209.9,104.1 210.2,105.3 210.5,106.4 210.8,107.5 211.1,107.9 211.4,108.7 211.7,108.9 212.0,109.7 212.3,110.4 212.6,111.3 212.9,111.9 213.2,112.7 213.5,113.4 213.8,113.8 214.1,114.6 214.4,115.3 214.7,116.1 215.0,116.7 215.3,117.0 215.6,117.5 215.8,118.2 216.1,119.0 216.4,120.1 216.7,120.6 216.9,121.3 217.2,121.8 217.5,122.2 217.8,122.7 218.1,123.5 218.3,124.2 218.6,125.0 218.9,125.8 219.2,125.2 219.4,124.0 219.7,123.0 220.0,122.1 220.2,121.7 220.5,121.3 220.8,120.3 221.0,119.3 221.2,117.9 221.5,116.6 221.8,118.1 222.0,119.8 222.2,121.2 222.5,122.4 222.7,128.1 222.9,133.7 223.2,140.0 223.4,146.1 223.7,161.5 223.9,176.9 224.2,192.0 224.5,198.0 224.7,203.8 225.0,209.3 225.2,214.9 225.5,220.4 225.8,224.3 226.1,229.0 226.4,233.3 226.7,237.9 227.0,242.1 227.3,241.8 227.5,241.8 227.8,241.8 228.0,241.7 228.3,241.7 228.6,246.6 228.9,251.3 229.2,256.5 229.5,261.3 229.8,263.7 230.1,266.1 230.4,268.3 230.7,270.2 231.0,272.4 231.2,266.5 231.5,260.8 231.8,255.4 232.0,249.6 232.2,240.8 232.5,232.4 232.8,223.4 233.0,214.7 233.3,210.3 233.6,205.8 233.8,201.2 234.1,194.2 234.4,192.1 234.7,183.5 235.0,190.0 235.2,188.1 235.5,195.1 235.7,192.0 236.0,198.1 236.2,196.6 236.5,202.5 236.8,200.5 237.0,205.5 237.3,201.3 237.6,203.4 237.9,198.2 238.2,201.4 238.5,195.2 238.8,199.9 239.0,195.7 239.3,199.9 239.5,195.4 239.8,198.1 240.0,194.5 240.3,198.4 240.6,192.3 240.9,196.1 241.2,190.3 241.4,193.3 241.7,186.9 242.0,192.2 242.3,185.6 242.5,192.5 242.8,183.5 243.1,190.0 243.3,182.7 243.6,188.5 243.9,181.9 244.1,190.1 244.4,183.4 244.7,191.0 245.0,184.1 245.2,192.1 245.5,187.1 245.8,190.2 246.1,183.1 246.4,188.3 246.7,180.8 247.0,186.1 247.3,178.8 247.6,183.5 247.9,179.5 248.2,186.6 248.4,182.5 248.7,189.7 249.0,185.4 249.3,193.3 249.6,188.4 249.9,195.4 250.1,193.1 250.4,200.9 250.7,195.4 251.0,205.6 251.3,194.5 251.6,197.2 251.9,188.3 252.2,190.0 252.5,180.5 252.8,182.1 253.0,173.0 253.3,176.8 253.5,167.6 253.8,170.6 254.1,168.2 254.4,174.6 254.7,172.3 255.0,180.8 255.2,176.1 255.4,183.7 255.7,181.0 255.9,188.0 256.2,182.8 256.4,187.8 256.7,181.8 257.0,187.2 257.2,181.2 257.5,186.5 257.8,179.8 258.1,184.0 258.3,178.7 258.6,183.6 258.9,177.5 259.2,184.4 259.4,177.3 259.7,183.9 259.9,180.3 260.2,185.9 260.5,180.3 260.7,186.5 261.0,182.3 261.3,188.6 261.6,183.7 261.9,190.9 262.2,184.4 262.5,191.3 262.8,185.5 263.1,190.9 263.4,186.4 263.7,194.7 264.0,185.7 264.3,190.6 264.6,182.9 264.9,188.1 265.1,181.0 265.4,186.6 265.7,179.2 266.0,185.4 266.3,176.6 266.6,181.5 266.8,173.1 267.1,179.0 267.4,172.3 267.7,177.8 267.9,170.0 268.2,175.2 268.5,168.0 268.8,174.3 269.1,172.0 269.4,178.9 269.7,174.9 270.0,180.8 270.3,178.0 270.6,183.1 270.9,179.2 271.1,186.4 271.4,181.5 271.7,187.8 272.0,181.4 272.2,188.4 272.5,182.7 272.8,188.9 273.1,182.4 273.4,187.6 273.6,183.1 273.9,189.7 274.2,183.2 274.4,188.4 274.7,184.4 275.0,189.9 275.3,182.3 275.6,190.7 275.9,184.2 276.2,190.0 276.5,184.5 276.8,189.6 277.0,182.8 277.3,188.6 277.6,182.9 277.9,190.0 278.2,182.8 278.5,190.4 278.8,182.4 279.1,188.8 279.4,181.3 279.6,186.6 279.9,178.8 280.2,184.5 280.5,179.1 280.8,182.4 281.1,176.5 281.4,180.4 281.6,172.6 281.9,178.1 282.2,172.5 282.5,178.6 282.7,175.1 283.0,181.9 283.2,180.0 283.5,186.9 283.7,180.6 284.0,189.2 284.2,189.0 284.5,200.3 284.8,201.1 285.0,210.4 285.3,208.0 285.6,211.1 285.9,208.6 286.2,213.0 286.5,209.9 286.8,213.8 287.1,210.5 287.4,215.3 287.7,212.0 288.0,215.6 288.3,211.6 288.6,215.1 288.9,211.8 289.2,216.0 289.5,210.1 289.7,215.5 290.0,212.3 290.3,215.2 290.6,211.8 290.9,215.6 291.2,212.2 291.5,215.3 291.8,211.5 292.1,215.8 292.4,213.1 292.7,217.0 293.0,214.6 293.2,218.9 293.5,214.5 293.8,220.6 294.1,215.9 294.4,221.8 294.7,216.7 295.0,222.4 295.2,220.0 295.5,224.8 295.7,221.8 296.0,227.9 296.2,224.3 296.5,229.9 296.8,226.1 297.1,232.0 297.4,229.0 297.6,235.2 297.9,231.0 298.2,235.4 298.5,230.7 298.8,235.0 299.1,229.7 299.4,232.3 299.6,227.8 299.9,231.3 300.2,227.0 300.5,229.7 300.8,228.0 301.1,233.3 301.4,231.2 301.6,236.0 301.9,235.7 302.2,241.5 302.5,238.8 302.8,243.3 303.1,239.7 303.4,243.9 303.7,240.8 304.0,245.4 304.3,242.3 304.5,245.8 304.8,243.5 305.1,246.9 305.4,244.9 305.7,249.0 306.0,245.7 306.3,249.7 306.6,246.0 306.9,250.1 307.2,246.9 307.5,249.9 307.8,246.8 308.1,250.6 308.4,246.8 308.6,251.0 308.9,247.3 309.2,250.4 309.5,247.7 309.8,250.9 310.1,247.9 310.4,251.7 310.7,247.6 311.0,250.1 311.2,246.0 311.5,248.0 311.7,243.4 312.0,244.9 312.2,240.3 312.5,243.1 312.8,237.4 313.1,238.7 313.3,233.0 313.6,234.3 313.9,232.2 314.2,238.9 314.5,237.2 314.8,243.7 315.1,239.9 315.4,244.0 315.6,241.8 315.9,245.9 316.2,242.4 316.4,246.3 316.7,244.0 317.0,248.5 317.3,244.7 317.6,249.5 317.9,245.7 318.2,250.1 318.5,247.2 318.8,250.0 319.1,247.0 319.4,251.5 319.7,246.5 319.9,250.8 320.2,243.9 320.5,254.4 320.7,242.9 321.0,253.5" fill="none" stroke="#0b6fbc" stroke-width="3" stroke-linejoin="round" stroke-linecap="round"/><polygon points="321.0,240.4 321.6,238.2 322.3,235.4 322.9,235.5 323.5,236.9 324.5,241.2 325.5,244.8 326.5,239.7 327.5,234.7 328.5,238.7 329.5,243.6 330.3,237.3 331.2,243.7 332.0,244.1 332.8,239.4 333.7,234.4 334.5,231.6 335.5,230.5 336.5,241.6 337.3,242.2 338.2,244.1 339.0,241.9 339.7,238.5 340.5,234.5 341.2,232.7 342.1,238.0 343.0,239.8 344.0,246.5 345.0,245.2 346.0,245.1 347.0,248.0 348.0,248.6 349.0,248.1 350.0,248.6 351.0,245.4 352.1,243.9 353.1,242.6 354.2,241.0 355.2,236.1 356.1,239.4 357.0,246.5 357.8,246.8 358.6,249.0 359.5,246.6 360.3,246.7 361.2,251.2 362.2,247.5 363.1,246.3 364.1,249.9 365.0,249.6 366.0,246.3 367.0,245.3 368.0,247.6 369.0,244.2 370.0,243.0 371.0,247.5 372.0,243.1 373.0,248.2 374.0,245.2 375.0,250.5 376.0,247.1 377.0,248.9 377.9,244.9 378.8,246.3 379.7,244.0 380.7,244.4 381.6,242.8 382.5,242.4 383.4,244.4 384.3,238.2 385.3,246.1 386.2,246.4 387.2,245.5 388.1,243.0 389.1,243.0 390.0,249.3 391.0,248.0 392.0,244.7 393.0,245.1 394.0,244.1 395.0,243.2 396.0,246.5 397.0,247.2 398.0,242.8 399.0,246.5 400.0,244.7 401.0,245.2 402.0,245.5 403.0,245.4 404.0,243.6 405.0,244.9 406.0,244.0 407.0,247.5 408.0,243.8 409.0,243.9 410.0,242.3 411.0,245.7 412.0,245.2 413.0,244.5 414.0,243.9 415.0,244.1 416.0,242.1 417.0,245.1 418.0,242.5 419.0,248.3 420.0,247.7 421.0,245.0 422.0,245.8 423.0,248.1 424.0,240.1 425.0,247.1 426.0,248.0 426.9,245.6 427.9,242.6 428.9,245.5 429.8,243.0 430.8,247.8 431.8,244.5 432.7,246.8 433.7,247.0 434.6,243.7 435.5,239.4 436.4,236.0 437.3,239.1 438.2,240.6 439.1,243.4 440.0,242.1 441.0,238.6 442.0,242.2 443.0,242.5 444.0,238.2 444.9,235.7 445.8,235.6 446.6,234.3 447.5,236.4 448.4,240.2 449.3,243.8 450.2,241.5 451.1,240.5 452.0,241.0 453.0,247.0 454.0,245.8 455.0,247.6 456.0,247.3 457.0,243.1 458.0,242.6 458.6,246.2 459.3,247.5 459.4,207.1 459.4,215.8 459.3,271.5 458.6,272.3 458.0,274.2 457.0,271.5 456.0,272.2 455.0,267.8 454.0,270.3 453.0,269.5 452.0,270.5 451.1,271.2 450.2,271.1 449.3,265.9 448.4,265.4 447.5,271.7 446.6,267.5 445.8,270.5 444.9,267.9 444.0,266.4 443.0,269.2 442.0,267.3 441.0,266.0 440.0,268.5 439.1,268.4 438.2,271.8 437.3,267.7 436.4,270.1 435.5,271.1 434.6,271.1 433.7,269.3 432.7,272.9 431.8,275.8 430.8,273.1 429.8,274.3 428.9,269.2 427.9,271.1 426.9,269.1 426.0,273.7 425.0,270.9 424.0,269.5 423.0,275.0 422.0,273.1 421.0,271.1 420.0,277.3 419.0,273.6 418.0,277.8 417.0,277.9 416.0,274.3 415.0,281.0 414.0,276.1 413.0,282.8 412.0,273.9 411.0,277.1 410.0,275.2 409.0,280.7 408.0,278.3 407.0,276.6 406.0,280.8 405.0,285.5 404.0,282.1 403.0,283.9 402.0,278.5 401.0,280.0 400.0,276.8 399.0,279.0 398.0,276.7 397.0,278.2 396.0,278.9 395.0,277.0 394.0,276.6 393.0,276.5 392.0,279.1 391.0,276.9 390.0,276.6 389.1,275.6 388.1,280.4 387.2,276.4 386.2,275.5 385.3,278.8 384.3,274.4 383.4,273.0 382.5,279.3 381.6,275.2 380.7,273.9 379.7,278.4 378.8,273.0 377.9,277.0 377.0,271.4 376.0,272.3 375.0,270.4 374.0,276.4 373.0,275.1 372.0,270.7 371.0,276.0 370.0,269.6 369.0,270.4 368.0,273.2 367.0,271.7 366.0,272.1 365.0,273.5 364.1,269.4 363.1,273.6 362.2,270.5 361.2,270.6 360.3,268.0 359.5,268.2 358.6,271.5 357.8,270.4 357.0,265.3 356.1,273.4 355.2,267.0 354.2,268.9 353.1,269.1 352.1,268.9 351.0,265.9 350.0,266.3 349.0,268.3 348.0,268.0 347.0,268.7 346.0,265.8 345.0,267.7 344.0,265.1 343.0,265.0 342.1,260.1 341.2,259.7 340.5,261.6 339.7,261.4 339.0,259.7 338.2,259.6 337.3,261.3 336.5,262.2 335.5,262.3 334.5,256.2 333.7,259.2 332.8,256.5 332.0,261.3 331.2,256.8 330.3,258.6 329.5,256.5 328.5,260.2 327.5,256.0 326.5,258.8 325.5,254.3 324.5,255.4 323.5,253.8 322.9,259.7 322.3,259.1 321.6,254.8 321.0,255.2" fill="#0b6fbc" stroke="#0b6fbc" stroke-width="2" stroke-linejoin="round"/><polyline points="459.4,214.0 459.5,209.6 459.8,215.8 460.1,208.7 460.4,215.6 460.7,209.2 461.0,214.6 461.3,207.8 461.6,216.4 461.9,208.1 462.2,216.9 462.5,206.3 462.8,217.0 463.1,207.6 463.3,216.7 463.6,209.3 463.9,214.9 464.2,209.8 464.5,215.3 464.8,206.4 465.1,216.4 465.4,210.0 465.7,216.5 466.0,209.6 466.3,214.6 466.6,209.1 466.9,215.6 467.2,207.5 467.5,215.0 467.8,209.2 468.1,216.9 468.4,208.3 468.7,216.6 469.0,208.3 469.3,218.4 469.6,207.4 469.9,216.3 470.2,209.0 470.4,214.8 470.7,209.6 471.0,215.2 471.3,208.4 471.6,216.8 471.9,207.4 472.2,216.0 472.5,209.2 472.8,215.6 473.1,209.0 473.4,215.5 473.7,207.7 474.0,214.7 474.3,208.2 474.6,215.1 474.9,208.4 475.2,216.5 475.5,209.5 475.8,215.3 476.1,208.3 476.4,214.1 476.7,206.9 477.0,216.3 477.3,207.4 477.6,215.5 477.9,207.0 478.2,214.5 478.5,208.9 478.8,214.8 479.1,206.6 479.4,215.1 479.7,207.8 480.0,213.6 480.3,206.3 480.6,215.0 480.9,207.1 481.2,213.3 481.5,208.0 481.8,213.0 482.1,207.7 482.4,213.1 482.7,207.0 483.0,213.3 483.3,206.4 483.6,213.3 483.9,206.7 484.2,212.8 484.5,206.4 484.8,214.1 485.1,205.4 485.4,213.1 485.7,206.7 486.0,213.3 486.3,206.0 486.6,214.3 486.9,204.4 487.2,212.2 487.5,204.8 487.8,211.5 488.1,204.9 488.4,212.5 488.7,204.8 489.0,212.2 489.3,205.4 489.6,211.7 489.9,205.0 490.1,212.0 490.4,203.9 490.7,212.1 491.0,204.4 491.3,211.0 491.6,204.7 491.9,212.4 492.2,205.6 492.4,214.6 492.6,205.2 492.8,224.3" fill="none" stroke="#0b6fbc" stroke-width="3" stroke-linejoin="round" stroke-linecap="round"/><polygon points="492.8,205.2 493.4,205.2 493.4,212.5 492.8,226.8" fill="#0b6fbc" stroke="#0b6fbc" stroke-width="2" stroke-linejoin="round"/><polyline points="493.4,211.0 493.7,205.9 494.0,210.9 494.3,205.3 494.6,211.8 494.9,205.2 495.2,209.5 495.5,204.5 495.8,209.7 496.1,204.7 496.4,210.1 496.7,203.4 497.0,208.6 497.3,201.2 497.6,210.1 497.9,203.5 498.2,208.7 498.5,201.8 498.8,209.5 499.1,201.4 499.4,207.0 499.7,201.3 500.0,208.2 500.3,201.8 500.6,207.1 500.9,202.1 501.2,207.9 501.5,201.4 501.8,205.8 502.1,201.3 502.3,207.3 502.6,199.6 502.9,206.5 503.2,198.7 503.5,205.9 503.8,198.5 504.1,204.0 504.4,198.3 504.7,205.3 504.9,198.4 505.2,205.3 505.5,199.0 505.8,202.7 506.1,195.2 506.4,202.3 506.7,197.1 507.0,203.6 507.3,197.8 507.6,201.6 507.8,196.8 508.1,201.2 508.4,196.2 508.7,202.7 509.0,196.2 509.3,201.0 509.6,194.4 509.9,201.2 510.2,195.3 510.5,200.8 510.8,194.5 511.1,199.7 511.4,194.1 511.7,200.2 512.0,192.1 512.3,198.8 512.6,192.5 512.9,197.5 513.1,191.3 513.4,197.9 513.7,190.9 514.0,197.9 514.3,190.1 514.6,196.7 514.9,189.9 515.2,195.7 515.5,188.4 515.8,194.4 516.1,189.5 516.4,193.6 516.7,187.8 517.0,193.2 517.3,188.1 517.6,193.8 517.9,185.7 518.2,191.4 518.5,186.0 518.8,192.0 519.1,183.6 519.4,189.3 519.7,180.9 520.0,188.7 520.3,182.6 520.6,188.5 520.9,179.1 521.2,187.2 521.5,178.6 521.8,185.1 522.1,179.4 522.4,185.2 522.7,177.1 523.0,183.4 523.3,175.6 523.5,182.6 523.8,175.3 524.1,181.0 524.4,171.5 524.7,179.0 525.0,172.7 525.3,178.3 525.5,171.2 525.8,177.1 526.1,168.4 526.4,174.1 526.7,168.7 527.0,174.2 527.3,167.4 527.6,173.4 527.9,166.1 528.2,171.6 528.5,167.1 528.7,171.7 529.0,166.4 529.3,170.9 529.6,163.2 529.9,172.3 530.2,164.2 530.5,170.2 530.8,165.3 531.1,171.7 531.4,165.0 531.6,172.0 531.9,165.9 532.2,173.0 532.5,166.4 532.8,173.8 533.1,168.0 533.4,174.8 533.6,169.7 533.9,176.1 534.2,169.9 534.5,177.2 534.8,171.7 535.1,177.7 535.4,171.9 535.6,179.2 535.9,174.8 536.2,180.7 536.5,174.5 536.8,183.8 537.1,176.4 537.4,184.8 537.6,178.4 537.9,186.0 538.2,179.0 538.5,189.4 538.8,182.0 539.1,191.7 539.4,182.5 539.7,190.0 540.0,186.5 540.3,193.0 540.5,186.9 540.8,194.9 541.1,188.1 541.4,197.5 541.7,190.1 542.0,199.0 542.3,193.7 542.6,200.1 542.9,194.7 543.2,201.9 543.5,195.7 543.7,203.0 544.0,197.0 544.3,204.3 544.6,199.6 544.9,206.8 545.1,202.0 545.4,208.5 545.7,203.8 546.0,210.5" fill="none" stroke="#0b6fbc" stroke-width="3" stroke-linejoin="round" stroke-linecap="round"/></g>
<path d="M106.3 47.9H152.1" stroke="#000000" stroke-width="3" stroke-linecap="round" fill="none"/>
<path d="M190.8 107.8H271.5" stroke="#000000" stroke-width="3" stroke-linecap="round" fill="none"/>
<path d="M351.2 111.8H354.6" stroke="#000000" stroke-width="3" stroke-linecap="round" fill="none"/>
<path d="M450.8 145.3H455.1" stroke="#000000" stroke-width="3" stroke-linecap="round" fill="none"/>
<path d="M460.5 145.3H498.7" stroke="#000000" stroke-width="3" stroke-linecap="round" fill="none"/>
<path d="M480.7 182.7H531.9" stroke="#000000" stroke-width="3" stroke-linecap="round" fill="none"/>
<path d="M514.5 167.6H546.5" stroke="#000000" stroke-width="3" stroke-linecap="round" fill="none"/>
<rect x="78.0" y="9.2" width="469.2" height="374.4" fill="none" stroke="#2f3248" stroke-width="1.7"/>
<path d="M397.2 26.9H422" stroke="#b21e48" stroke-width="3.2"/>
<path d="M397.2 45.9H422" stroke="#0b6fbc" stroke-width="3.2"/>
<text x="440.8" y="32.2" text-anchor="start" font-size="14" textLength="86.5" lengthAdjust="spacingAndGlyphs">Orientation 1</text>
<text x="440.8" y="50.9" text-anchor="start" font-size="14" textLength="88.8" lengthAdjust="spacingAndGlyphs">Orientation 2</text>
<text x="71.2" y="14.1" text-anchor="end" font-size="14" textLength="16.2" lengthAdjust="spacingAndGlyphs">80</text>
<text x="71.2" y="54.6" text-anchor="end" font-size="14" textLength="16.2" lengthAdjust="spacingAndGlyphs">70</text>
<text x="71.2" y="90.7" text-anchor="end" font-size="14" textLength="16.2" lengthAdjust="spacingAndGlyphs">60</text>
<text x="71.2" y="128.6" text-anchor="end" font-size="14" textLength="16.2" lengthAdjust="spacingAndGlyphs">50</text>
<text x="71.2" y="164.8" text-anchor="end" font-size="14" textLength="16.2" lengthAdjust="spacingAndGlyphs">40</text>
<text x="71.2" y="202.9" text-anchor="end" font-size="14" textLength="16.2" lengthAdjust="spacingAndGlyphs">30</text>
<text x="71.2" y="240.6" text-anchor="end" font-size="14" textLength="16.2" lengthAdjust="spacingAndGlyphs">20</text>
<text x="71.2" y="278.3" text-anchor="end" font-size="14" textLength="12.9" lengthAdjust="spacingAndGlyphs">10</text>
<text x="71.2" y="316.4" text-anchor="end" font-size="14" textLength="8.4" lengthAdjust="spacingAndGlyphs">0</text>
<text x="71.2" y="352.8" text-anchor="end" font-size="14" textLength="21.3" lengthAdjust="spacingAndGlyphs">–10</text>
<text x="71.2" y="389.1" text-anchor="end" font-size="14" textLength="24.4" lengthAdjust="spacingAndGlyphs">–20</text>
<text x="79.2" y="406.9" text-anchor="middle" font-size="14" textLength="19.2" lengthAdjust="spacingAndGlyphs">0.1</text>
<text x="232.3" y="406.9" text-anchor="middle" font-size="14">1</text>
<text x="387.0" y="406.9" text-anchor="middle" font-size="14" textLength="12.8" lengthAdjust="spacingAndGlyphs">10</text>
<text x="547.2" y="406.9" text-anchor="middle" font-size="14" textLength="22.8" lengthAdjust="spacingAndGlyphs">100</text>
<text x="313.1" y="437.1" text-anchor="middle" font-size="14" textLength="115.8" lengthAdjust="spacingAndGlyphs">Frequency (MHz)</text>
<text transform="translate(24.6 195.5) rotate(-90)" text-anchor="middle" font-size="14" textLength="191" lengthAdjust="spacingAndGlyphs">Peak Conducted EMI (dBµV)</text>
<path d="M725.4 30.9H1194.9M725.4 52.1H1194.9M725.4 72.3H1194.9M725.4 92.4H1194.9M725.4 114.7H1194.9M725.4 135.7H1194.9M725.4 155.9H1194.9M725.4 176.0H1194.9M725.4 195.6H1194.9M725.4 216.4H1194.9M725.4 238.8H1194.9M725.4 258.2H1194.9M725.4 279.0H1194.9M725.4 300.7H1194.9M725.4 321.8H1194.9M725.4 343.0H1194.9M725.4 364.3H1194.9M771.3 9.2V383.4M797.4 9.2V383.4M817.6 9.2V383.4M832.5 9.2V383.4M845.5 9.2V383.4M856.2 9.2V383.4M864.7 9.2V383.4M872.3 9.2V383.4M878.3 9.2V383.4M926.0 9.2V383.4M952.3 9.2V383.4M972.4 9.2V383.4M987.0 9.2V383.4M999.9 9.2V383.4M1010.9 9.2V383.4M1019.3 9.2V383.4M1027.0 9.2V383.4M1033.3 9.2V383.4M1079.4 9.2V383.4M1105.7 9.2V383.4M1125.8 9.2V383.4M1140.4 9.2V383.4M1153.6 9.2V383.4M1164.6 9.2V383.4M1172.7 9.2V383.4M1180.7 9.2V383.4M1187.0 9.2V383.4" stroke="#757a90" stroke-width="1.25" fill="none"/>
<rect x="1036" y="15.7" width="150.2" height="42.3" fill="#fff"/>
<polyline points="753.3,332.0 753.6,332.1 753.9,332.1 754.1,332.3 754.4,332.1 754.7,331.8 755.0,331.5 755.2,332.6 755.5,333.6 755.8,334.3 756.0,335.0 756.3,335.9 756.6,336.6 756.9,337.3 757.2,338.0 757.5,338.8 757.8,339.6 758.1,339.6 758.4,339.4 758.7,339.3 759.0,339.2 759.3,339.4 759.5,339.9 759.8,340.2 760.1,340.5 760.4,341.0 760.7,341.1 761.0,341.6 761.3,341.8 761.6,341.9 761.9,341.6 762.2,341.8 762.5,341.7 762.8,341.8 763.0,342.1 763.3,342.2 763.6,342.3 763.9,342.5 764.2,342.7 764.5,342.7 764.8,342.9 765.1,343.3 765.4,343.2 765.7,343.6 766.0,343.3 766.3,343.5 766.6,343.8 766.9,344.0 767.2,344.1 767.5,343.9 767.8,344.1 768.1,343.9 768.4,344.0 768.7,344.2 769.0,344.5 769.3,344.6 769.6,344.8 769.9,344.9 770.2,344.8 770.5,344.4 770.8,344.5 771.1,344.7 771.4,344.9 771.7,344.8 772.0,344.9 772.3,345.1 772.6,345.4 772.9,345.7 773.2,345.8 773.5,345.9 773.8,345.8 774.1,345.7 774.4,345.9 774.7,346.1 775.0,346.2 775.3,346.6 775.6,346.9 775.9,346.8 776.2,346.9 776.5,346.9 776.8,347.2 777.1,347.1 777.4,346.7 777.7,346.4 778.0,346.5 778.3,346.5 778.6,346.6 778.9,346.8 779.2,346.8 779.5,347.0 779.8,347.2 780.1,347.4 780.4,347.6 780.7,347.6 781.0,347.7 781.3,347.9 781.6,348.1 781.9,348.0 782.1,348.0 782.4,348.0 782.7,348.2 783.0,348.4 783.3,348.6 783.6,348.7 783.9,349.1 784.2,349.1 784.5,348.9 784.8,348.6 785.1,348.6 785.4,348.5 785.7,348.8 786.0,349.2 786.3,349.1 786.6,349.1 786.9,349.3 787.2,349.0 787.5,349.3 787.8,349.4 788.1,349.7 788.4,350.2 788.7,350.5 789.0,350.7 789.3,350.7 789.6,350.6 789.9,350.3 790.2,350.8 790.5,351.0 790.8,351.1 791.1,351.3 791.4,351.2 791.7,350.8 792.0,350.3 792.2,350.4 792.5,350.7 792.8,351.0 793.1,351.3 793.4,351.4 793.7,351.7 794.0,351.6 794.3,351.7 794.6,351.6 794.9,351.7 795.2,351.3 795.5,351.3 795.8,351.0 796.1,351.5 796.4,351.9 796.7,352.3 797.0,352.5 797.3,352.5 797.6,352.6 797.9,352.7 798.2,353.0 798.5,352.7 798.7,352.5 799.0,352.3 799.3,351.9 799.6,352.3 799.9,352.9 800.2,353.5 800.5,353.5 800.8,353.7 801.1,353.7 801.4,353.5 801.7,353.5 802.0,353.8 802.3,353.6 802.6,353.7 802.9,353.7 803.2,353.7 803.5,353.4 803.8,353.6 804.1,353.7 804.4,353.6 804.7,353.5 805.0,353.3 805.3,353.5 805.6,353.2 805.9,353.2 806.2,353.2 806.5,353.1 806.8,353.5 807.1,353.7 807.4,353.9 807.7,353.9 808.0,354.0 808.3,354.4 808.6,354.4 808.9,354.5 809.2,354.7 809.5,354.1 809.8,354.1 810.1,353.8 810.4,353.8 810.7,354.2 811.0,354.4 811.3,354.3 811.6,354.3 811.9,354.2 812.2,354.3 812.5,354.4 812.8,354.3 813.1,354.7 813.4,354.9 813.7,355.0 814.0,354.9 814.3,355.2 814.6,355.2 814.9,355.4 815.2,355.5 815.5,355.4 815.8,355.4 816.1,355.4 816.4,355.2 816.7,355.2 817.0,355.0 817.3,354.6 817.6,354.9 817.9,355.0 818.2,354.9 818.5,355.1 818.8,355.1 819.1,354.8 819.4,354.6 819.7,354.7 820.0,354.5 820.3,355.0 820.6,355.2 820.9,355.2 821.2,355.3 821.5,355.6 821.8,355.6 822.1,355.9 822.4,355.9 822.7,356.0 823.0,355.9 823.3,356.0 823.6,355.8 823.9,355.6 824.2,354.9 824.5,355.0 824.8,355.0 825.1,355.1 825.4,355.4 825.7,355.7 826.0,355.3 826.3,355.5 826.6,355.0 826.9,355.1 827.2,355.2 827.5,355.6 827.8,355.7 828.1,355.9 828.4,355.9 828.7,356.1 829.0,356.5 829.2,356.5 829.5,356.3 829.8,356.2 830.1,355.9 830.4,355.5 830.7,355.7 831.0,356.2 831.3,356.4 831.6,356.5 831.9,356.5 832.2,356.7 832.5,356.8 832.8,357.0 833.1,356.8 833.4,356.8 833.7,356.7 834.0,356.8 834.3,356.6 834.6,356.4 834.9,356.0 835.2,355.8 835.5,356.1 835.8,356.3 836.1,356.7 836.4,357.2 836.7,357.0 837.0,356.9 837.3,356.9 837.6,357.1 837.9,357.0 838.2,357.2 838.5,357.1 838.8,357.4 839.1,357.2 839.4,356.6 839.7,356.2 840.0,355.9 840.3,356.0 840.6,355.9 840.9,356.1 841.2,356.2 841.5,356.3 841.8,356.2 842.1,356.2 842.4,356.6 842.7,356.5 843.0,356.6 843.3,356.8 843.6,356.9 843.9,357.0 844.2,356.9 844.5,356.9 844.8,356.7 845.1,356.8 845.4,356.6 845.7,356.2 846.0,356.5 846.3,356.4 846.6,356.6 846.9,357.0 847.2,357.2 847.5,357.3 847.8,357.2 848.1,357.1 848.4,357.4 848.7,357.1 849.0,357.4 849.2,357.2 849.5,357.2 849.8,357.2 850.1,357.0 850.4,356.9 850.7,357.2 851.0,356.9 851.3,357.3 851.6,357.1 851.9,357.3 852.2,357.3 852.5,357.2 852.8,357.4 853.1,357.4 853.4,357.2 853.7,357.0 854.0,356.8 854.3,356.4 854.6,356.5 854.9,357.0 855.2,357.0 855.5,357.3 855.8,357.2 856.1,356.7 856.4,356.7 856.7,356.7 857.0,356.6 857.3,356.6 857.6,356.6 857.9,356.8 858.2,356.9 858.5,357.1 858.8,357.6 859.1,357.5 859.4,357.6 859.7,357.3 860.0,357.1 860.3,357.0 860.6,357.2 860.9,357.1 861.2,357.1 861.5,357.1 861.8,357.3 862.1,356.9 862.4,357.2 862.6,357.0 862.9,357.0 863.2,357.4 863.5,357.5 863.8,357.4 864.1,357.5 864.4,357.2 864.7,357.1 865.0,357.1 865.3,356.9 865.6,357.3 865.9,357.4 866.2,357.8 866.5,357.8 866.8,357.3 867.1,357.1 867.4,357.1 867.7,357.1 868.0,357.5 868.3,357.9 868.6,358.3 868.9,358.1 869.2,357.6 869.5,357.2 869.8,356.9 870.1,357.2 870.4,357.5 870.7,357.6 871.0,357.8 871.2,354.1 871.5,350.7 871.8,346.9 872.0,343.3 872.2,346.8 872.5,350.4 872.8,353.8 873.0,357.4 873.3,357.3 873.6,357.2 873.9,357.4 874.2,357.3 874.5,357.2 874.8,357.3 875.1,357.1 875.4,357.3 875.7,357.4 876.0,357.6 876.3,357.8 876.6,357.8 876.9,357.9 877.2,357.8 877.5,357.6 877.8,357.6 878.1,357.6 878.4,357.6 878.7,357.5 879.0,357.6 879.3,357.4 879.6,357.4 879.9,357.3 880.2,357.2 880.5,357.2 880.8,357.6 881.1,357.6 881.4,357.9 881.7,357.8 882.0,357.6 882.3,357.1 882.6,357.1 882.9,357.3 883.2,357.3 883.5,357.6 883.8,357.7 884.1,357.7 884.4,357.7 884.7,357.7 885.0,358.0 885.3,358.0 885.6,357.7 885.9,357.8 886.2,357.5 886.5,357.8 886.8,357.6 887.1,357.9 887.4,357.8 887.7,357.8 888.0,357.8 888.3,357.6 888.6,357.7 888.9,357.7 889.2,357.4 889.5,357.1 889.8,357.3 890.1,357.6 890.4,357.6 890.7,358.0 891.0,358.4 891.3,358.5 891.6,358.0 891.9,357.9 892.2,357.9 892.5,357.8 892.8,358.0 893.1,358.1 893.4,358.1 893.7,357.9 894.0,358.2 894.3,358.4 894.6,358.2 894.9,358.4 895.2,358.1 895.5,358.0 895.8,357.5 896.1,357.8 896.4,357.4 896.7,357.6 897.0,357.4 897.3,357.7 897.6,357.5 897.9,357.5 898.2,357.6 898.5,357.6 898.8,357.5 899.1,357.7 899.4,357.7 899.7,357.6 900.0,357.3 900.3,357.5 900.6,357.4 900.9,357.7 901.2,357.7 901.5,357.7 901.8,357.6 902.1,357.5 902.4,357.3 902.7,357.3 903.0,357.5 903.3,357.6 903.6,357.7 903.9,357.9 904.2,357.8 904.5,357.9 904.8,357.8 905.1,357.6 905.4,357.5 905.7,357.7 906.0,357.6 906.3,357.9 906.6,357.7 906.9,357.8 907.2,357.8 907.5,358.1 907.8,357.9 908.1,358.1 908.4,357.8 908.7,357.7 909.0,357.6 909.3,357.8 909.6,358.1 909.9,358.2 910.1,358.3 910.4,358.4 910.7,358.4 911.0,358.3 911.3,358.5 911.6,358.2 911.9,358.1 912.2,357.6 912.5,357.8 912.8,357.6 913.1,357.9 913.4,358.4 913.7,358.3 914.0,358.3 914.3,357.8 914.6,357.5 914.9,357.6 915.2,357.5 915.5,357.5 915.8,357.3 916.1,357.4 916.4,357.6 916.7,357.8 917.0,358.6 917.3,358.5 917.6,358.6 917.9,357.9 918.2,357.4 918.5,357.2 918.8,357.2 919.1,357.3 919.4,357.4 919.7,357.4 920.0,357.4 920.3,357.7 920.6,358.3 920.9,358.6 921.2,358.3 921.5,357.9 921.8,357.3 922.1,357.1 922.4,357.4 922.7,357.4 923.0,357.6 923.3,357.8 923.6,358.0 923.9,357.8 924.2,357.6 924.5,357.7 924.8,357.7 925.1,357.5 925.4,357.1 925.7,357.0 926.0,357.1 926.3,357.0 926.6,357.2 926.8,357.0 927.1,356.9 927.4,357.4 927.7,357.6 928.0,357.8 928.3,357.6 928.6,357.6 928.9,357.3 929.2,356.9 929.5,356.9 929.8,357.0 930.1,356.7 930.4,356.5 930.7,356.6 931.0,356.7 931.3,356.6 931.6,356.9 931.9,356.8 932.2,356.8 932.5,357.1 932.8,357.0 933.1,357.1 933.4,356.9 933.7,356.3 934.0,356.3 934.3,356.3 934.6,356.0 934.9,355.9 935.2,355.9 935.5,355.9 935.8,356.2 936.1,356.6 936.4,356.7 936.7,356.8 937.0,356.3 937.3,355.8 937.6,355.5 937.9,355.7 938.2,355.8 938.5,355.4 938.8,355.6 939.1,355.5 939.4,355.5 939.7,355.4 940.0,355.2 940.2,355.5 940.5,356.0 940.8,356.4 941.1,356.5 941.4,356.4 941.7,356.3 942.0,355.8 942.3,355.6 942.6,356.0 942.9,355.9 943.2,356.0 943.5,355.9 943.8,355.9 944.1,355.7 944.4,355.7 944.7,355.7 945.0,355.8 945.3,356.1 945.6,355.9 945.9,356.3 946.2,355.9 946.5,355.8 946.8,355.4 947.1,355.1 947.4,355.0 947.7,355.2 948.0,355.0 948.3,355.2 948.6,355.2 948.9,355.0 949.2,355.3 949.5,355.4 949.8,355.4 950.1,354.9 950.4,354.3 950.7,354.5 951.0,354.5 951.3,354.6 951.6,354.6 951.9,354.7 952.2,354.8 952.5,354.8 952.8,355.0 953.1,355.2 953.4,355.0 953.7,355.0 954.0,354.7 954.3,354.6 954.6,354.8 954.9,354.5 955.2,354.7 955.5,354.6 955.8,354.6 956.1,355.0 956.4,355.1 956.7,354.9 957.0,355.0 957.3,354.8 957.6,354.2 957.9,354.3 958.2,354.3 958.5,354.4 958.8,354.5 959.1,354.5 959.4,354.4 959.7,354.3 960.0,354.2 960.2,353.8 960.5,353.8 960.8,353.5 961.1,353.5 961.4,353.4 961.7,353.4 962.0,353.6 962.3,353.9 962.6,353.6 962.9,353.5 963.2,353.4 963.5,353.3 963.8,353.5 964.1,353.5 964.4,353.1 964.7,353.0 965.0,352.9 965.3,353.0 965.6,353.3 965.9,353.2 966.2,353.2 966.5,353.3 966.8,353.1 967.1,352.9 967.4,352.8 967.7,352.8 968.0,353.1 968.3,353.2 968.6,353.1 968.9,353.3 969.2,353.5 969.5,353.5 969.8,353.7 970.1,353.6 970.4,353.6 970.7,353.3 971.0,353.6 971.3,353.5 971.6,353.5 971.9,353.3 972.2,353.4 972.5,353.2 972.8,353.1 973.1,352.8 973.4,352.4 973.7,352.6 974.0,352.8 974.3,352.9 974.6,352.9 974.9,353.0 975.2,353.0 975.5,353.2 975.8,353.2 976.1,353.2 976.4,352.8 976.7,352.5 977.0,352.3 977.3,352.6 977.6,352.6 977.9,352.9 978.2,352.9 978.5,353.0 978.8,352.4 979.1,351.9 979.4,351.8 979.7,352.0 980.0,352.2 980.3,352.8 980.5,352.8 980.8,352.9 981.1,352.8 981.4,352.8 981.7,352.8 982.0,352.8 982.3,352.6 982.6,352.9 982.9,352.9 983.2,352.9 983.5,352.7 983.8,352.7 984.1,352.6 984.4,352.5 984.7,352.5 985.0,352.2 985.3,352.4 985.6,352.4 985.9,352.1 986.2,352.0 986.5,351.6 986.8,351.7 987.1,351.9 987.4,352.0 987.7,352.1 988.0,351.9 988.3,352.1 988.6,352.0 988.9,352.2 989.2,352.3 989.5,352.2 989.8,351.9 990.1,351.7 990.4,351.7 990.7,351.6 991.0,351.8 991.3,351.6 991.6,351.7 991.9,351.8 992.2,352.0 992.5,352.0 992.8,351.7 993.1,351.7 993.4,351.3 993.7,350.9 993.9,351.2 994.2,351.0 994.5,351.1 994.8,351.2 995.1,350.9 995.4,350.9 995.7,350.5 996.0,350.8 996.3,350.7 996.6,351.0 996.9,351.7 997.2,351.6 997.5,351.6 997.8,351.6 998.1,351.3 998.4,351.1 998.7,351.4 999.0,351.4 999.3,351.1 999.6,351.1 999.9,351.1 1000.2,350.7 1000.5,350.5 1000.8,350.5 1001.1,350.6 1001.4,350.4 1001.7,350.5 1002.0,350.4 1002.3,350.4 1002.6,350.5 1002.9,350.9 1003.2,350.9 1003.5,351.0 1003.8,351.1 1004.1,351.1 1004.4,351.1 1004.7,351.0 1005.0,351.0 1005.3,350.8 1005.6,350.5 1005.9,350.5 1006.2,350.6 1006.5,350.7 1006.8,350.4 1007.1,350.4 1007.4,350.6 1007.7,350.7 1008.0,350.6 1008.3,350.5 1008.6,350.9 1008.9,351.1 1009.2,351.1 1009.5,351.0 1009.8,350.6 1010.1,350.1 1010.4,350.1 1010.7,350.0 1011.0,350.7 1011.3,350.8 1011.6,350.9 1011.9,350.7 1012.2,350.4 1012.5,349.8 1012.8,349.6 1013.1,350.1 1013.4,350.3 1013.7,350.6 1014.0,350.8 1014.2,350.8 1014.5,350.9 1014.8,350.9 1015.1,350.8 1015.4,350.5 1015.7,350.6 1016.0,350.6 1016.3,350.3 1016.6,350.2 1016.9,350.5 1017.2,350.8 1017.5,350.5 1017.8,350.4 1018.1,350.2 1018.4,350.1 1018.7,350.0 1019.0,349.7 1019.3,349.9 1019.6,349.8 1019.9,349.6 1020.2,349.7 1020.5,350.0 1020.8,350.0 1021.1,350.1 1021.4,349.9 1021.7,349.9 1022.0,349.7 1022.3,350.0 1022.6,350.1 1022.9,350.1 1023.2,350.3 1023.5,350.3 1023.8,350.4 1024.1,350.2 1024.4,350.1 1024.7,350.4 1025.0,350.2 1025.3,350.2 1025.6,350.3 1025.9,350.1 1026.2,350.3 1026.5,350.6 1026.8,350.6 1027.1,350.5 1027.4,350.5 1027.7,350.3 1028.0,350.3 1028.3,350.5 1028.6,350.6 1028.9,350.4 1029.2,350.4 1029.5,350.3 1029.8,350.5 1030.1,350.6 1030.4,350.7 1030.7,350.7 1031.0,350.9 1031.3,350.7 1031.6,350.8 1031.9,350.8 1032.2,350.8 1032.5,350.5 1032.8,350.5 1033.1,350.5 1033.4,350.5 1033.7,350.1 1034.0,350.0 1034.3,350.0 1034.6,350.1 1034.9,350.0 1035.2,350.3 1035.5,350.1 1035.8,350.1 1036.1,350.5 1036.4,350.6 1036.7,350.6 1037.0,350.7 1037.3,350.6 1037.6,350.5 1037.9,350.7 1038.2,350.8 1038.5,350.5 1038.8,350.7 1039.1,350.8 1039.4,350.7 1039.7,350.7 1040.0,350.7 1040.3,350.6 1040.6,350.7 1040.8,350.7 1041.1,350.7 1041.4,350.6 1041.7,350.4 1042.0,350.4 1042.3,350.2 1042.6,350.0 1042.9,349.8 1043.2,350.0 1043.5,350.2 1043.8,350.5 1044.1,350.2 1044.4,350.2 1044.7,350.0 1045.0,350.0 1045.3,350.2 1045.6,350.1 1045.9,350.6 1046.2,350.5 1046.5,350.3 1046.8,350.2 1047.1,350.1 1047.4,350.0 1047.7,350.1 1048.0,350.0 1048.3,349.9 1048.6,349.7 1048.9,350.0 1049.2,350.4 1049.5,350.8 1049.8,351.0 1050.1,350.9 1050.4,350.8 1050.7,350.8 1051.0,350.8 1051.3,350.7 1051.6,350.4 1051.9,350.3 1052.2,350.0 1052.5,350.1 1052.8,350.0 1053.1,350.0 1053.4,349.7 1053.7,350.1 1054.0,350.5 1054.3,350.9 1054.6,350.9 1054.9,350.7 1055.2,350.9 1055.5,351.0 1055.8,350.9 1056.1,350.6 1056.4,350.2 1056.7,350.1 1057.0,349.8 1057.3,349.8 1057.6,350.2 1057.9,350.5 1058.2,350.8 1058.5,350.9 1058.8,350.8 1059.1,350.9 1059.4,351.0 1059.7,350.7 1060.0,350.4 1060.3,350.5 1060.6,350.3 1060.9,350.3 1061.2,350.1 1061.5,349.9 1061.8,350.0 1062.1,349.7 1062.4,349.9 1062.7,349.6 1063.0,349.4 1063.3,349.6 1063.6,349.6 1063.9,349.4 1064.2,349.6 1064.5,349.4 1064.8,349.9 1065.1,350.1 1065.4,349.9 1065.7,350.1 1066.0,350.1 1066.3,350.4 1066.6,350.2 1066.9,350.1 1067.1,350.1 1067.4,350.2 1067.7,350.0 1068.0,350.2 1068.3,349.8 1068.6,349.6 1068.9,349.6 1069.2,349.7 1069.5,350.1 1069.8,350.3 1070.1,350.3 1070.4,349.9 1070.7,349.9 1071.0,349.2 1071.3,349.1 1071.6,349.5 1071.9,349.7 1072.2,349.7 1072.5,350.1 1072.8,349.8 1073.1,349.6 1073.4,349.3 1073.7,349.1 1074.0,349.3 1074.3,349.0 1074.6,348.9 1074.9,349.0 1075.2,348.9 1075.5,349.3 1075.8,349.3 1076.1,349.1 1076.4,349.5 1076.7,349.6 1077.0,350.0 1077.3,350.2 1077.6,349.7 1077.9,349.7 1078.2,349.1 1078.5,349.3 1078.8,349.3 1079.1,349.1 1079.4,348.9 1079.7,349.0 1080.0,348.8 1080.3,349.0 1080.6,349.5 1080.9,349.4 1081.2,349.4 1081.5,349.2 1081.8,349.2 1082.1,349.1 1082.4,349.2 1082.7,349.3 1083.0,349.6 1083.3,349.5 1083.6,349.3 1083.9,349.3 1084.2,349.6 1084.5,349.6 1084.8,349.5 1085.1,349.6 1085.4,349.7 1085.7,349.6 1086.0,349.7 1086.2,349.6 1086.5,349.8 1086.8,349.8 1087.1,349.7 1087.4,349.3 1087.7,349.0 1088.0,349.0 1088.3,348.8 1088.6,349.2 1088.9,349.5 1089.2,349.5 1089.5,349.1 1089.8,348.8 1090.1,348.6 1090.4,348.4 1090.7,348.7 1091.0,348.4 1091.3,348.5 1091.6,348.5 1091.9,348.8 1092.2,348.4 1092.5,348.6 1092.8,348.5 1093.1,348.5 1093.4,349.0 1093.7,349.4 1094.0,349.3 1094.3,349.3 1094.6,349.1 1094.9,348.9 1095.2,348.7 1095.5,348.7 1095.8,348.7 1096.1,349.0 1096.4,348.9 1096.7,349.2 1097.0,349.4 1097.3,349.4 1097.6,349.3 1097.9,349.1 1098.2,348.9 1098.5,348.6 1098.8,348.7 1099.0,348.4 1099.3,348.6 1099.6,348.3 1099.9,348.4 1100.2,348.2 1100.5,348.1 1100.8,348.2 1101.1,348.2 1101.4,348.4 1101.7,348.5 1102.0,348.7 1102.3,348.6 1102.6,348.6 1102.9,348.6 1103.2,348.3 1103.5,348.4 1103.8,348.2 1104.1,348.3 1104.4,347.8 1104.7,348.0 1105.0,347.9 1105.3,348.2 1105.5,348.5 1105.8,348.9 1106.1,348.6 1106.4,348.3 1106.7,348.2 1106.9,348.4 1107.2,348.4 1107.4,304.2 1107.7,304.5 1108.0,304.9 1108.3,305.2 1108.6,305.7 1108.8,305.9 1109.1,306.2 1109.4,306.6 1109.7,307.0 1110.0,307.0 1110.3,306.7 1110.6,306.9 1110.9,306.7 1111.2,306.9 1111.5,307.2 1111.8,307.1 1112.1,306.9 1112.4,307.0 1112.7,306.9 1113.0,307.0 1113.3,306.9 1113.6,306.9 1113.9,306.9 1114.2,306.8 1114.5,307.1 1114.8,307.2 1115.1,307.5 1115.4,307.4 1115.7,307.5 1116.0,307.7 1116.3,307.6 1116.6,307.7 1116.9,307.1 1117.2,306.8 1117.5,306.9 1117.8,306.6 1118.1,306.7 1118.4,306.9 1118.7,307.0 1119.0,306.8 1119.3,306.8 1119.6,306.9 1119.9,307.0 1120.2,307.1 1120.5,307.5 1120.8,307.6 1121.1,307.7 1121.4,307.9 1121.7,307.7 1121.9,308.1 1122.2,308.3 1122.5,308.2 1122.8,308.1 1123.1,308.0 1123.4,307.9 1123.7,308.0 1124.0,308.2 1124.3,308.4 1124.6,308.5 1124.9,308.4 1125.2,308.4 1125.5,307.8 1125.8,307.9 1126.1,308.1 1126.4,308.0 1126.7,308.1 1127.0,308.2 1127.3,308.1 1127.6,308.4 1127.9,308.1 1128.2,308.0 1128.5,308.1 1128.8,308.2 1129.1,308.5 1129.4,308.6 1129.7,308.7 1130.0,308.4 1130.3,308.3 1130.6,308.4 1130.9,308.4 1131.2,308.0 1131.5,308.2 1131.8,308.0 1132.1,308.2 1132.4,308.4 1132.7,308.5 1133.0,308.7 1133.3,308.8 1133.6,309.0 1133.9,309.0 1134.2,309.3 1134.5,309.1 1134.8,309.3 1135.1,309.6 1135.4,309.6 1135.7,309.5 1136.0,309.1 1136.3,308.6 1136.6,308.8 1136.9,309.0 1137.2,309.1 1137.5,309.6 1137.8,309.5 1138.1,309.6 1138.4,309.6 1138.7,309.6 1139.0,309.2 1139.3,309.1 1139.6,308.8 1139.9,308.4 1140.2,308.6 1140.5,308.5 1140.7,308.9 1141.0,309.1 1141.3,309.3 1141.6,309.2 1141.9,309.5 1142.2,309.6 1142.5,309.4 1142.8,309.3 1143.1,309.5 1143.4,309.6 1143.7,309.6 1144.0,309.4 1144.3,309.3 1144.6,309.2 1144.9,309.3 1145.2,308.9 1145.5,309.0 1145.8,308.6 1146.1,308.6 1146.4,308.5 1146.7,308.6 1147.0,308.9 1147.3,308.9 1147.6,308.7 1147.9,308.9 1148.2,309.1 1148.5,308.8 1148.8,309.2 1149.1,308.8 1149.4,308.8 1149.7,308.8 1150.0,308.6 1150.3,308.7 1150.6,308.5 1150.9,308.3 1151.2,308.6 1151.5,308.8 1151.8,309.0 1152.1,309.3 1152.4,309.2 1152.7,309.1 1153.0,308.9 1153.3,308.6 1153.6,308.5 1153.9,308.3 1154.1,308.3 1154.4,308.0 1154.7,308.2 1155.0,308.3 1155.3,308.5 1155.6,308.3 1155.9,308.5 1156.2,308.3 1156.5,308.2 1156.8,308.1 1157.1,308.2 1157.4,308.4 1157.7,308.5 1158.0,308.6 1158.3,308.6 1158.6,308.5 1158.9,308.0 1159.2,308.1 1159.5,308.3 1159.8,308.3 1160.1,308.5 1160.4,308.7 1160.7,308.5 1161.0,308.3 1161.3,308.5 1161.6,308.1 1161.9,308.5 1162.2,308.4 1162.5,308.9 1162.8,309.0 1163.1,308.8 1163.4,308.7 1163.7,308.7 1164.0,308.8 1164.3,308.4 1164.6,308.3 1164.9,308.0 1165.2,307.6 1165.5,307.7 1165.8,308.3 1166.1,308.6 1166.4,308.5 1166.7,308.6 1167.0,308.2 1167.3,308.4 1167.6,308.1 1167.9,307.8 1168.2,308.0 1168.5,307.7 1168.8,307.7 1169.1,307.9 1169.4,307.9 1169.7,308.5 1170.0,308.3 1170.3,308.2 1170.6,307.6 1170.9,307.3 1171.2,307.0 1171.5,307.3 1171.8,307.1 1172.1,307.4 1172.4,307.4 1172.7,307.5 1173.0,307.6 1173.3,307.8 1173.6,307.7 1173.9,307.4 1174.2,307.3 1174.5,306.9 1174.8,307.0 1175.1,307.0 1175.4,307.1 1175.7,307.5 1176.0,307.1 1176.2,307.5 1176.5,307.4 1176.8,307.7 1177.1,307.8 1177.4,307.6 1177.7,307.4 1178.0,307.1 1178.3,306.8 1178.6,306.8 1178.9,307.0 1179.2,307.2 1179.5,307.5 1179.8,307.1 1180.1,306.7 1180.4,306.8 1180.7,306.7 1181.0,306.5 1181.3,306.8 1181.6,307.5 1181.9,307.5 1182.2,307.5 1182.5,307.2 1182.8,307.4 1183.1,307.5 1183.4,307.1 1183.7,306.8 1184.0,306.1 1184.3,305.9 1184.6,306.4 1184.9,306.7 1185.2,306.7 1185.5,307.1 1185.8,306.6 1186.1,306.5 1186.4,306.5 1186.7,306.0 1187.0,306.1 1187.3,305.9 1187.6,305.6 1187.9,305.6 1188.2,305.8 1188.5,305.7 1188.8,306.0 1189.1,305.7 1189.4,305.8 1189.7,306.2 1190.0,306.2 1190.3,306.4 1190.6,306.3 1190.9,306.2 1191.2,305.9 1191.5,306.1" fill="none" stroke="#bec0cd" stroke-width="2.8" stroke-linejoin="round" stroke-linecap="round"/>
<polyline points="752.4,172.9 752.7,172.9 753.0,172.9 753.3,173.0 753.6,172.9 753.8,172.6 754.1,172.2 754.4,171.6 754.7,171.3 755.0,171.5 755.3,172.3 755.6,172.8 755.8,173.8 756.1,174.7 756.4,175.9 756.7,176.8 757.0,178.0 757.2,178.4 757.5,178.8 757.8,179.5 758.1,178.8 758.4,178.6 758.7,178.5 759.0,178.2 759.3,178.2 759.5,177.9 759.8,178.0 760.1,178.1 760.4,178.2 760.7,177.8 761.0,177.0 761.3,175.9 761.6,175.2 761.9,174.9 762.2,174.6 762.5,174.5 762.8,174.1 763.0,173.6 763.3,172.9 763.6,172.5 763.9,171.6 764.2,171.0 764.5,170.6 764.8,170.8 765.1,171.2 765.4,171.7 765.6,172.2 765.9,172.7 766.2,173.1 766.5,173.8 766.8,174.8 767.0,175.3 767.3,176.3 767.5,176.7 767.8,177.4 768.1,177.9 768.3,178.5 768.6,178.9 768.9,178.3 769.2,177.9 769.5,177.9 769.7,178.1 770.0,178.4 770.3,178.8 770.6,179.1 770.9,179.0 771.2,179.4 771.5,179.5 771.7,179.4 772.0,179.7 772.3,179.5 772.6,179.5 772.9,180.7 773.2,181.5 773.5,182.3 773.8,183.0 774.1,183.8 774.4,184.7 774.7,185.3 775.0,186.2 775.3,187.0 775.6,186.7 775.9,186.4 776.2,186.4 776.5,186.0 776.8,185.5 777.0,185.1 777.3,184.8 777.6,184.2 777.9,183.5 778.2,182.7 778.5,181.8 778.8,182.6 779.1,183.4 779.4,184.4 779.7,185.5 780.0,186.3 780.2,187.4 780.5,188.5 780.8,190.0 781.1,191.1 781.4,191.7 781.7,192.6 782.0,193.6 782.3,194.1 782.6,194.2 782.9,194.7 783.1,195.0 783.4,195.4 783.7,195.4 784.0,195.5 784.3,195.3 784.6,195.8 784.9,196.1 785.1,197.2 785.4,198.0 785.7,198.5 786.0,199.1 786.3,198.5 786.6,198.5 786.8,197.7 787.1,197.4 787.4,196.8 787.7,196.4 787.9,196.0 788.2,195.1 788.5,194.8 788.8,193.7 789.0,193.2 789.3,192.2 789.5,191.4 789.8,190.1 790.1,189.3 790.3,188.9 790.6,188.7 790.9,190.3 791.1,191.4 791.4,192.0 791.7,192.4 791.9,192.6 792.2,193.2 792.4,194.3 792.7,195.5 793.0,195.4 793.3,195.6 793.6,195.5 793.9,195.7 794.1,195.9 794.4,196.1 794.7,195.9 795.0,195.5 795.3,195.3 795.6,195.3 795.9,194.9 796.1,194.5 796.4,194.2 796.7,193.8 797.0,194.0 797.3,193.7 797.6,192.4 797.8,191.0 798.1,189.7 798.4,189.0 798.6,187.7 798.9,186.3 799.2,185.0 799.5,183.0 799.7,180.8 800.0,179.4 800.3,176.1 800.6,172.8 800.9,169.8 801.2,166.4 801.5,163.2 801.8,159.5 802.1,157.7 802.3,155.9 802.6,154.4 802.9,152.4 803.2,150.3 803.5,148.7 803.7,147.3 804.0,145.8 804.3,144.2 804.6,142.1 804.9,140.0 805.1,137.9 805.4,135.3 805.7,133.2 806.0,131.3 806.3,129.1 806.5,123.1 806.8,117.5 807.0,111.2 807.3,105.7 807.5,99.7 807.8,91.7 808.0,83.9 808.3,75.4 808.5,67.2 808.8,59.2 808.8,45.9 809.1,45.8 809.3,45.1 809.6,44.9 809.9,44.6 810.2,44.6 810.4,44.5 810.7,44.2 811.0,44.9 811.3,45.4 811.6,45.8 811.9,46.5 812.2,47.1 812.5,47.4 812.8,48.1 813.1,48.9 813.4,49.3 813.6,49.7 813.9,49.7 814.2,50.3 814.5,50.7 814.8,50.8 815.1,51.4 815.4,51.5 815.7,51.7 816.0,51.9 816.3,52.2 816.5,52.6 816.8,53.3 817.1,53.9 817.4,54.5 817.7,55.3 817.9,56.0 818.2,56.2 818.5,56.8 818.8,57.3 819.0,57.8 819.3,58.5 819.6,59.6 819.9,60.2 820.1,60.3 820.4,60.7 820.7,61.5 821.0,63.1 821.2,64.4 821.5,65.5 821.7,68.8 822.0,72.2 822.2,76.0 822.5,81.7 822.7,87.9 823.0,93.9 823.2,99.6 823.5,104.7 823.8,111.7 824.1,118.5 824.4,125.4 824.7,132.9 825.0,140.3 825.3,143.7 825.6,147.2 825.9,150.7 826.1,154.3 826.4,157.8 826.7,161.6 827.0,165.2 827.3,169.1 827.6,172.6 827.9,175.8 828.1,179.1 828.4,182.5 828.7,185.7 829.0,189.2 829.3,193.7 829.6,198.3 829.9,203.2 830.2,207.6 830.5,212.1 830.8,216.1 831.0,220.1 831.3,224.8 831.6,229.0 831.9,229.8 832.1,230.5 832.4,230.9 832.7,231.1 833.0,231.7 833.2,232.2 833.5,232.6 833.8,233.7 834.0,234.6 834.3,234.9 834.6,235.5 834.9,236.0 835.2,236.2 835.4,237.1 835.7,237.3 836.0,238.6 836.3,239.7 836.6,241.2 836.9,242.5 837.2,244.0 837.5,245.5 837.8,246.3 838.1,247.0 838.4,248.1 838.7,248.9 839.0,249.4 839.2,250.5 839.5,251.3 839.8,252.4 840.1,253.1 840.4,253.7 840.7,254.3 841.0,254.4 841.3,255.0 841.6,255.4 841.9,256.3 842.2,257.1 842.5,257.9 842.8,258.2 843.1,258.7 843.4,259.2 843.7,259.6 844.0,260.0 844.3,258.0 844.6,256.0 844.8,254.2 845.1,252.4 845.4,251.2 845.7,249.7 845.9,248.3 846.2,246.3 846.5,244.2 846.8,242.2 847.0,240.3 847.3,238.4 847.6,236.8 847.9,237.2 848.1,237.7 848.4,238.3 848.7,238.9 848.9,239.7 849.2,240.3 849.5,235.7 849.8,230.9 850.1,226.7 850.4,221.9 850.7,217.9 851.0,213.9 851.3,209.8 851.6,205.7 851.9,199.8 852.1,193.6 852.4,187.7 852.7,181.7 852.9,175.7 853.2,169.6 853.5,163.9 853.8,157.5 854.1,151.9 854.4,146.1 854.7,140.5 855.0,136.5 855.3,132.4 855.6,127.9 855.9,123.4 856.2,119.3 856.3,114.5 856.6,115.9 856.8,116.5 857.1,117.3 857.4,117.7 857.7,117.8 858.0,118.1 858.2,118.6 858.5,119.4 858.8,120.0 859.0,120.5 859.3,121.1 859.6,122.0 859.9,123.2 860.1,124.3 860.4,125.2 860.7,125.7 860.9,126.0 861.2,126.6 861.5,127.0 861.8,127.5 862.0,128.1 862.3,128.3 862.6,129.1 862.9,129.5 863.2,130.3 863.4,130.9 863.7,131.5 864.0,132.4 864.3,133.7 864.6,134.9 864.8,135.7 865.1,135.8 865.4,136.2 865.7,136.8 865.9,137.3 866.2,138.0 866.5,138.5 866.8,139.6 867.1,140.9 867.3,141.5 867.6,142.1 867.9,142.8 868.2,148.2 868.4,153.7 868.7,159.3 868.9,165.1 869.2,170.6 869.5,176.4 869.7,182.2 870.0,188.0 870.2,193.8 870.5,199.7 870.8,206.5 871.1,213.4 871.4,220.4 871.7,227.4 872.0,234.8 872.3,238.8 872.6,243.4 872.9,247.6 873.1,252.2 873.4,256.4 873.7,260.9 874.0,265.1 874.3,267.6 874.6,270.4 874.9,273.4 875.1,276.1 875.4,279.2 875.7,281.9 876.0,284.8 876.3,286.9 876.6,288.9 876.9,290.9 877.2,293.2 877.5,295.4 877.8,292.9 878.1,289.8 878.4,287.2 878.7,283.6 879.0,280.3 879.3,272.6 879.6,265.0 879.9,257.9 880.1,250.7 880.4,241.5 880.7,236.0 881.0,226.1 881.3,221.4 881.5,219.4 881.8,225.1 882.0,221.7 882.3,227.6 882.5,223.6 882.8,229.5 883.0,227.5 883.2,233.2 883.5,230.3 883.8,231.9 884.1,226.0 884.4,227.3 884.7,221.7 885.0,224.0 885.3,217.8 885.6,220.4 885.9,213.9 886.1,215.4 886.4,210.1 886.7,211.5 887.0,205.9 887.3,209.5 887.6,203.1 887.9,205.3 888.2,200.7 888.5,203.3 888.8,198.4 889.1,202.0 889.4,194.3 889.7,200.8 889.9,196.5 890.2,200.2 890.5,196.2 890.7,200.9 891.0,196.7 891.2,202.9 891.5,197.4 891.8,203.1 892.0,198.0 892.3,204.2 892.6,200.9 892.9,204.9 893.1,201.3 893.4,206.4 893.7,203.4 893.9,208.4 894.2,205.3 894.5,211.0 894.7,209.4 895.0,215.1 895.2,211.6 895.5,216.8 895.8,214.1 896.0,218.6 896.3,214.8 896.6,217.7 896.9,212.6 897.2,216.0 897.5,211.6 897.8,214.2 898.1,210.0 898.4,212.4 898.7,207.7 899.0,210.7 899.3,205.6 899.6,208.5 899.8,203.4 900.1,206.8 900.4,201.0 900.7,203.7 900.9,197.2 901.2,203.2 901.5,196.7 901.8,201.0 902.1,195.1 902.4,200.1 902.7,194.0 903.0,197.6 903.2,192.3 903.5,195.8 903.8,190.6 904.1,195.2 904.4,188.9 904.7,193.1 905.0,189.6 905.3,195.9 905.6,191.4 905.9,197.5 906.2,192.9 906.5,199.3 906.8,194.9 907.1,200.1 907.4,197.6 907.7,202.9 908.0,198.6 908.3,204.8 908.6,199.4 908.9,204.0 909.1,199.1 909.4,205.1 909.7,200.2 910.0,205.6 910.3,200.7 910.6,205.6 910.9,200.5 911.1,204.8 911.4,200.7 911.7,206.3 912.0,201.4 912.3,205.4 912.6,199.3 912.9,204.2 913.1,198.0 913.4,203.4 913.7,196.4 914.0,199.1 914.3,193.8 914.6,198.4 914.9,193.9 915.1,197.7 915.4,192.3 915.7,196.0 916.0,192.0 916.3,195.8 916.6,191.8 916.9,197.3 917.1,193.8 917.4,198.7 917.7,194.5 918.0,199.2 918.3,196.2 918.6,201.2 918.9,195.6 919.1,203.4 919.4,195.9 919.7,203.4 920.0,197.5 920.3,201.8 920.6,197.7 920.9,203.2 921.1,196.5 921.4,201.8 921.7,197.3 922.0,201.8 922.3,196.1 922.6,201.2 922.9,197.1 923.1,200.6 923.4,195.5 923.7,201.1 924.0,195.8 924.3,200.2 924.6,195.9 924.9,201.1 925.2,194.3 925.5,198.2 925.8,193.5 926.0,197.6 926.3,192.7 926.6,196.8 926.9,188.8 927.2,196.6 927.5,190.7 927.8,195.5 928.1,191.1 928.4,196.2 928.6,193.5 928.9,200.4 929.2,195.3 929.5,201.7 929.8,197.9 930.1,206.8 930.4,201.0 930.7,210.5 930.9,204.9 931.2,212.5 931.5,209.3 931.7,218.6 932.0,213.8 932.2,220.3 932.5,217.5 932.8,224.0 933.1,219.8 933.4,229.0 933.7,223.7 934.0,230.3 934.3,223.6 934.6,229.6 934.9,223.7 935.1,230.8 935.4,221.2 935.7,227.7 936.0,220.7 936.3,226.4 936.5,218.7 936.8,225.7 937.1,219.9 937.4,225.1 937.6,218.7 937.9,225.2 938.2,216.7 938.4,224.7 938.7,216.6 939.0,225.9 939.2,220.7 939.5,230.6 939.7,223.4 940.0,233.8 940.3,226.6 940.5,235.2 940.8,229.1 941.0,239.2 941.3,232.7 941.6,240.7 941.9,236.2 942.1,243.7 942.4,240.4 942.7,248.5 943.0,243.9 943.3,251.8 943.5,246.3 943.8,253.1 944.1,249.9 944.3,255.1 944.6,251.2 944.9,256.8 945.2,252.7 945.4,256.6 945.7,253.0 946.0,256.6 946.3,254.0 946.6,257.5 946.9,254.6 947.1,257.5 947.4,255.5 947.7,258.6 948.0,255.5 948.3,258.2 948.6,256.3 948.9,258.9 949.2,256.7 949.5,259.3 949.8,256.0 950.1,259.4 950.4,256.6 950.6,259.1 950.9,256.8 951.2,259.7 951.5,257.0 951.8,259.8 952.1,257.2 952.4,259.6 952.7,257.7 953.0,260.5 953.3,257.5 953.6,260.5 953.9,257.9 954.2,261.8 954.5,257.9 954.8,261.0 955.1,258.5 955.4,261.5 955.6,258.7 955.9,261.8 956.2,259.5 956.5,261.8 956.8,259.8 957.1,263.2 957.4,259.3 957.7,262.7 958.0,259.2 958.3,263.9 958.6,260.1 958.9,264.2 959.2,260.7 959.5,264.6 959.7,261.2 960.0,264.5 960.3,260.9 960.6,265.1 960.9,262.9 961.2,266.1 961.5,262.7 961.8,266.8 962.1,263.2 962.3,267.3 962.6,264.3 962.9,268.7 963.2,264.2 963.5,268.2 963.8,265.3 964.1,269.1 964.4,266.5 964.6,270.8 964.9,268.0 965.2,272.2 965.5,269.4 965.7,272.9 966.0,270.1 966.3,274.5 966.6,272.1 966.8,275.7 967.1,273.6 967.4,276.9 967.7,273.5 968.0,277.5 968.3,270.2 968.6,276.6 968.8,269.1 969.1,274.9 969.4,268.1 969.7,275.3 970.0,266.0" fill="none" stroke="#0b6fbc" stroke-width="3" stroke-linejoin="round" stroke-linecap="round"/><polygon points="970.0,262.6 970.8,259.7 971.7,256.2 972.5,253.4 973.4,249.5 974.4,249.3 975.3,245.3 976.1,249.6 976.9,248.1 977.7,248.2 978.5,250.4 979.3,250.3 980.1,251.1 980.9,254.2 981.7,253.7 982.6,258.2 983.5,257.5 984.4,256.4 985.3,256.6 986.1,257.4 987.0,252.5 988.0,256.0 989.0,254.9 990.0,256.8 991.0,258.1 992.0,254.3 993.0,258.2 994.0,258.4 995.0,255.6 996.0,254.1 997.0,257.1 998.0,256.1 999.0,255.5 1000.0,254.8 1000.5,252.8 1001.0,255.7 1002.0,257.8 1003.0,259.3 1003.9,259.5 1004.9,261.9 1005.8,263.9 1006.7,266.6 1007.7,266.8 1008.6,268.9 1009.5,267.6 1010.4,267.2 1011.3,268.5 1012.3,265.5 1013.2,267.7 1014.1,265.6 1015.0,263.5 1016.0,265.1 1017.0,265.1 1018.0,266.6 1019.0,263.5 1020.0,265.2 1021.0,263.7 1022.0,266.9 1022.9,262.6 1023.8,262.7 1024.7,265.9 1025.6,262.8 1026.5,268.3 1027.4,261.6 1028.4,262.2 1029.3,261.5 1030.3,263.6 1031.3,262.7 1032.2,261.0 1033.2,266.6 1034.1,259.8 1035.1,264.9 1036.1,266.7 1037.0,264.0 1038.0,266.9 1039.0,265.7 1039.9,265.9 1040.8,261.9 1041.8,263.0 1042.8,259.3 1043.7,262.5 1044.7,264.5 1045.6,259.3 1046.5,261.3 1047.5,264.3 1048.4,263.9 1049.3,260.2 1050.2,260.4 1051.2,264.6 1052.1,264.5 1053.0,264.3 1053.9,265.6 1054.9,262.4 1055.8,258.3 1056.8,263.0 1057.7,261.6 1058.7,264.9 1059.6,265.0 1060.6,260.2 1061.7,264.2 1062.7,257.8 1063.7,259.9 1064.7,262.4 1065.8,263.4 1066.8,259.8 1067.7,260.9 1068.5,263.2 1069.4,262.8 1070.3,260.4 1071.1,260.0 1072.0,255.4 1072.8,257.6 1073.7,263.4 1074.5,259.8 1075.2,247.3 1076.0,257.3 1077.0,261.2 1078.0,257.0 1079.0,261.1 1080.0,261.9 1081.0,258.0 1081.9,262.1 1082.8,258.7 1083.7,264.8 1084.6,259.1 1085.5,264.4 1086.4,265.6 1087.3,264.8 1088.2,261.9 1089.1,263.4 1090.0,261.9 1090.9,264.0 1091.8,262.4 1092.6,262.2 1093.5,262.5 1094.3,261.4 1095.0,242.5 1095.8,258.7 1096.6,257.2 1097.5,258.0 1098.3,257.5 1099.2,260.2 1100.0,260.7 1100.9,261.7 1101.8,264.8 1102.6,260.3 1103.5,261.5 1104.4,265.7 1105.3,262.0 1106.3,267.3 1106.4,234.1 1106.4,240.9 1106.3,299.5 1105.3,297.9 1104.4,303.3 1103.5,297.9 1102.6,301.1 1101.8,296.0 1100.9,299.4 1100.0,296.3 1099.2,299.9 1098.3,295.1 1097.5,297.9 1096.6,299.9 1095.8,302.9 1095.0,299.7 1094.3,296.7 1093.5,298.9 1092.6,297.0 1091.8,297.6 1090.9,299.9 1090.0,299.6 1089.1,298.1 1088.2,305.1 1087.3,302.0 1086.4,303.6 1085.5,297.0 1084.6,306.3 1083.7,301.3 1082.8,302.7 1081.9,298.2 1081.0,302.5 1080.0,304.5 1079.0,301.4 1078.0,302.2 1077.0,300.5 1076.0,300.6 1075.2,300.3 1074.5,297.3 1073.7,299.3 1072.8,299.2 1072.0,300.7 1071.1,300.7 1070.3,305.1 1069.4,303.1 1068.5,300.3 1067.7,303.0 1066.8,303.4 1065.8,302.5 1064.7,304.8 1063.7,306.8 1062.7,303.7 1061.7,307.1 1060.6,307.2 1059.6,307.2 1058.7,307.2 1057.7,308.9 1056.8,309.7 1055.8,303.9 1054.9,309.4 1053.9,307.3 1053.0,307.8 1052.1,305.0 1051.2,305.5 1050.2,310.7 1049.3,308.8 1048.4,307.3 1047.5,309.3 1046.5,308.8 1045.6,308.1 1044.7,311.6 1043.7,309.3 1042.8,307.7 1041.8,307.0 1040.8,307.5 1039.9,308.8 1039.0,308.8 1038.0,306.5 1037.0,301.2 1036.1,302.9 1035.1,299.3 1034.1,300.2 1033.2,300.4 1032.2,299.6 1031.3,307.8 1030.3,301.4 1029.3,297.1 1028.4,298.5 1027.4,299.0 1026.5,298.5 1025.6,293.6 1024.7,288.2 1023.8,288.9 1022.9,287.3 1022.0,281.7 1021.0,283.7 1020.0,282.2 1019.0,282.0 1018.0,285.6 1017.0,281.8 1016.0,283.6 1015.0,280.0 1014.1,280.7 1013.2,279.0 1012.3,281.7 1011.3,281.1 1010.4,278.6 1009.5,277.5 1008.6,279.1 1007.7,277.0 1006.7,276.0 1005.8,277.6 1004.9,278.1 1003.9,275.1 1003.0,273.7 1002.0,275.2 1001.0,272.0 1000.5,275.4 1000.0,271.0 999.0,271.5 998.0,275.7 997.0,277.0 996.0,273.1 995.0,276.7 994.0,276.1 993.0,278.3 992.0,276.4 991.0,276.5 990.0,278.9 989.0,276.2 988.0,278.6 987.0,276.0 986.1,279.7 985.3,279.5 984.4,275.4 983.5,277.1 982.6,275.0 981.7,277.2 980.9,276.0 980.1,274.3 979.3,270.0 978.5,269.3 977.7,268.0 976.9,271.1 976.1,269.4 975.3,266.5 974.4,265.4 973.4,268.9 972.5,268.5 971.7,271.3 970.8,273.9 970.0,275.2" fill="#0b6fbc" stroke="#0b6fbc" stroke-width="2" stroke-linejoin="round"/><polyline points="1106.4,238.8 1106.5,232.4 1106.8,240.4 1107.1,232.8 1107.4,241.0 1107.7,233.7 1108.0,239.6 1108.3,234.1 1108.6,241.4 1108.9,230.7 1109.2,240.4 1109.5,234.4 1109.8,241.3 1110.1,234.4 1110.4,241.2 1110.7,234.4 1111.0,241.6 1111.3,234.4 1111.6,241.3 1111.9,232.6 1112.2,241.4 1112.5,232.5 1112.8,241.2 1113.1,233.4 1113.4,241.8 1113.6,233.1 1113.9,241.5 1114.2,234.1 1114.5,239.4 1114.8,232.8 1115.1,240.8 1115.4,231.7 1115.7,241.7 1116.0,233.4 1116.3,241.7 1116.6,232.1 1116.9,239.9 1117.2,231.2 1117.5,241.4 1117.8,233.1 1118.1,240.2 1118.4,233.2 1118.7,240.8 1119.0,234.2 1119.3,239.1 1119.6,231.9 1119.9,240.9 1120.2,232.0 1120.5,240.6" fill="none" stroke="#0b6fbc" stroke-width="3" stroke-linejoin="round" stroke-linecap="round"/><polygon points="1120.5,231.4 1121.5,230.9 1122.6,232.1 1123.6,228.2 1124.7,230.2 1125.7,231.3 1126.7,230.7 1127.8,226.4 1128.8,226.4 1129.8,227.0 1130.9,226.8 1131.9,229.3 1133.0,228.3 1134.0,228.1 1135.0,226.2 1135.9,226.1 1136.9,227.0 1137.9,227.1 1138.8,225.5 1139.8,225.6 1140.6,213.8 1141.4,224.0 1142.4,224.9 1143.4,222.2 1144.3,224.4 1145.3,222.9 1146.3,222.5 1147.3,224.3 1147.3,232.1 1146.3,232.2 1145.3,233.9 1144.3,232.2 1143.4,232.7 1142.4,235.0 1141.4,236.7 1140.6,238.2 1139.8,239.4 1138.8,238.6 1137.9,239.0 1136.9,237.7 1135.9,237.9 1135.0,239.2 1134.0,239.9 1133.0,237.7 1131.9,239.8 1130.9,242.7 1129.8,241.0 1128.8,241.6 1127.8,241.5 1126.7,240.8 1125.7,240.8 1124.7,242.2 1123.6,242.4 1122.6,240.3 1121.5,241.4 1120.5,242.1" fill="#0b6fbc" stroke="#0b6fbc" stroke-width="2" stroke-linejoin="round"/><polyline points="1147.3,231.7 1147.6,223.9 1147.9,231.3 1148.2,222.7 1148.5,230.3 1148.8,223.7 1149.1,228.9 1149.4,223.4 1149.7,228.2 1150.0,221.8 1150.3,227.7 1150.6,221.0 1150.9,228.0 1151.2,221.5 1151.5,226.7 1151.8,220.8 1152.1,226.8 1152.4,220.9 1152.7,226.3 1152.9,219.3 1153.2,226.6 1153.5,219.4 1153.8,225.1 1154.1,218.7 1154.4,225.5 1154.7,216.5 1155.0,224.6 1155.3,218.5 1155.6,225.0 1155.9,217.6 1156.2,225.0 1156.5,216.5 1156.8,222.7 1157.1,217.8 1157.4,222.5 1157.7,215.9 1158.0,223.5 1158.3,215.5 1158.6,222.8 1158.9,213.2 1159.2,220.6 1159.5,213.9 1159.7,218.4 1160.0,213.0 1160.3,218.2 1160.6,211.0 1160.9,216.6 1161.2,210.3 1161.5,217.7 1161.8,208.1 1162.1,214.7 1162.4,209.2 1162.7,215.5 1163.0,207.4 1163.2,212.9 1163.5,205.7 1163.8,213.8 1164.1,203.3 1164.4,211.5 1164.7,204.7 1165.0,211.3 1165.3,202.6 1165.6,209.2 1165.9,202.1 1166.2,206.2 1166.5,199.3 1166.8,204.6 1167.0,198.2 1167.3,205.2 1167.6,197.2 1167.9,202.1 1168.2,195.0 1168.5,201.3 1168.8,192.7 1169.1,200.8 1169.4,193.9 1169.6,200.1 1169.9,192.3 1170.2,197.7 1170.5,191.3 1170.8,198.7 1171.0,190.3 1171.3,196.4 1171.6,189.8 1171.9,195.9 1172.2,188.8 1172.4,194.4 1172.7,186.4 1173.0,194.4 1173.3,186.1 1173.6,191.6 1173.9,186.3 1174.1,192.9 1174.4,185.0 1174.7,191.2 1175.0,181.5 1175.3,188.6 1175.6,181.5 1175.9,188.0 1176.2,180.7 1176.4,187.5 1176.7,181.6 1177.0,185.8 1177.3,179.5 1177.6,186.7 1177.9,180.0 1178.2,187.4 1178.5,182.2 1178.8,189.1 1179.1,183.5 1179.4,191.0 1179.7,184.2 1179.9,191.8 1180.2,184.8 1180.5,191.5 1180.8,187.8 1181.1,194.1 1181.4,188.6 1181.7,194.2 1182.0,190.3 1182.3,197.3 1182.6,190.4 1182.9,198.3 1183.1,192.2 1183.4,200.3 1183.7,195.8 1184.0,202.5 1184.3,195.9 1184.6,204.1 1184.9,199.5 1185.1,205.9 1185.4,199.8 1185.7,206.6 1186.0,203.5 1186.3,208.9 1186.6,204.4 1186.9,211.7 1187.1,206.7 1187.4,212.2 1187.7,207.4 1188.0,214.0 1188.3,209.5 1188.6,217.3 1188.9,211.2 1189.1,219.9 1189.4,214.4 1189.7,219.6 1190.0,215.3 1190.3,222.6 1190.6,216.4 1190.8,224.3 1191.1,219.2 1191.4,225.4 1191.7,220.1 1192.0,225.9 1192.3,221.8 1192.6,228.3 1192.8,222.0 1193.1,230.1 1193.4,222.4" fill="none" stroke="#0b6fbc" stroke-width="3" stroke-linejoin="round" stroke-linecap="round"/>
<polyline points="752.4,186.7 752.7,187.0 752.9,188.0 753.2,188.5 753.5,188.9 753.7,189.3 754.0,190.0 754.2,190.4 754.5,190.6 754.8,191.1 755.1,191.5 755.4,191.6 755.6,192.3 755.9,193.0 756.2,193.7 756.5,194.5 756.8,194.2 757.1,194.0 757.4,193.4 757.7,192.9 758.0,192.7 758.2,192.4 758.5,192.1 758.8,191.9 759.1,191.9 759.4,191.5 759.7,191.2 760.0,190.9 760.3,190.5 760.6,189.9 760.9,189.2 761.1,189.1 761.4,188.5 761.7,187.8 762.0,187.3 762.3,186.7 762.6,186.4 762.9,185.4 763.1,184.5 763.4,183.4 763.7,182.4 764.0,181.7 764.3,182.3 764.6,182.6 764.9,182.8 765.2,183.4 765.5,184.4 765.7,184.9 766.0,185.5 766.3,186.1 766.6,186.4 766.9,186.6 767.2,186.9 767.5,187.3 767.8,188.0 768.1,188.4 768.4,188.6 768.7,189.1 769.0,190.0 769.3,190.9 769.6,191.6 769.9,192.0 770.2,192.1 770.5,192.3 770.8,192.4 771.1,193.1 771.4,193.8 771.7,194.8 772.0,195.3 772.3,195.7 772.6,196.0 772.9,196.7 773.2,198.0 773.5,199.4 773.8,201.1 774.1,202.7 774.3,203.8 774.6,205.2 774.9,206.2 775.2,207.3 775.5,208.8 775.8,209.4 776.1,207.5 776.3,205.8 776.6,203.8 776.9,202.4 777.1,201.3 777.4,199.9 777.7,198.4 778.0,197.0 778.2,196.1 778.5,195.1 778.8,196.1 779.1,196.5 779.4,197.3 779.7,197.7 780.0,198.4 780.2,199.4 780.5,200.1 780.8,200.4 781.1,201.2 781.4,202.4 781.7,203.1 782.0,204.4 782.3,204.8 782.6,205.3 782.9,205.9 783.1,206.4 783.4,206.8 783.7,207.1 784.0,207.6 784.3,207.9 784.6,207.9 784.9,208.7 785.1,209.1 785.4,209.6 785.7,210.1 786.0,210.4 786.3,209.6 786.6,208.9 786.9,208.2 787.1,207.7 787.4,207.8 787.7,207.3 788.0,206.7 788.3,206.5 788.6,205.9 788.9,205.0 789.1,204.5 789.4,204.4 789.7,204.3 790.0,203.7 790.3,204.8 790.5,205.2 790.8,206.0 791.1,206.5 791.4,207.1 791.6,207.8 791.9,208.1 792.2,208.7 792.4,209.1 792.7,210.0 793.0,210.1 793.3,209.9 793.6,210.0 793.9,209.3 794.2,208.7 794.5,207.9 794.8,207.7 795.1,207.4 795.4,207.1 795.6,206.7 795.9,206.6 796.2,206.2 796.5,206.2 796.8,206.3 797.1,206.2 797.4,205.7 797.7,205.5 798.0,205.0 798.3,201.4 798.6,198.2 798.9,195.0 799.2,191.8 799.5,188.6 799.8,185.7 800.0,182.6 800.3,179.2 800.5,176.3 800.8,173.1 801.1,171.8 801.4,170.8 801.6,169.5 801.9,168.0 802.2,166.0 802.5,164.3 802.8,161.3 803.1,158.4 803.4,155.8 803.7,153.2 804.0,150.5 804.3,148.4 804.5,146.0 804.8,143.4 805.0,141.1 805.3,139.2 805.5,131.6 805.8,124.0 806.0,116.3 806.3,108.3 806.5,100.6 806.8,94.0 807.0,87.6 807.2,81.1 807.5,74.4 807.8,71.6 808.0,68.9 808.3,66.3 808.5,63.6 808.8,60.7 809.1,59.7 809.4,58.4 809.6,57.1 809.9,56.0 810.2,54.7 810.5,55.6 810.8,56.2 811.1,56.7 811.4,57.4 811.7,58.1 812.0,58.4 812.3,59.1 812.5,59.3 812.8,59.5 813.1,59.8 813.4,59.8 813.7,60.1 813.9,60.8 814.2,61.8 814.5,62.8 814.8,63.3 815.1,64.0 815.3,64.1 815.6,64.5 815.9,65.0 816.2,65.6 816.5,65.9 816.8,65.8 817.1,66.1 817.3,66.7 817.6,67.5 817.9,68.2 818.2,68.9 818.5,68.9 818.8,69.1 819.1,69.0 819.3,69.4 819.6,69.5 819.9,69.6 820.2,69.8 820.5,73.0 820.8,77.0 821.1,80.7 821.4,84.5 821.7,91.2 822.0,97.5 822.2,103.5 822.5,109.2 822.8,116.7 823.0,124.5 823.3,132.2 823.6,140.2 823.9,145.5 824.2,150.7 824.4,155.7 824.7,161.0 825.0,166.0 825.3,169.5 825.5,172.8 825.8,175.9 826.0,179.4 826.3,183.4 826.6,188.3 826.9,193.3 827.2,198.0 827.5,202.0 827.8,205.9 828.0,208.8 828.3,213.3 828.5,212.8 828.8,220.0 829.0,216.7" fill="none" stroke="#b21e48" stroke-width="3" stroke-linejoin="round" stroke-linecap="round"/><polygon points="829.0,215.7 829.9,221.9 830.7,224.5 831.6,228.9 832.4,233.2 833.2,235.9 834.0,238.9 835.0,238.0 836.0,243.1 837.0,243.9 838.0,247.2 839.0,248.4 840.0,250.7 841.0,253.7 841.9,253.4 842.8,254.9 843.6,257.6 844.5,257.2 845.5,256.9 846.5,252.9 847.5,246.1 848.5,239.1 848.5,246.2 847.5,253.6 846.5,262.2 845.5,265.4 844.5,270.3 843.6,268.8 842.8,268.5 841.9,264.2 841.0,263.8 840.0,264.2 839.0,260.4 838.0,258.7 837.0,258.8 836.0,256.9 835.0,254.3 834.0,252.5 833.2,251.5 832.4,246.8 831.6,247.0 830.7,238.9 829.9,232.3 829.0,229.6" fill="#b21e48" stroke="#b21e48" stroke-width="2" stroke-linejoin="round"/><polyline points="848.5,248.0 848.8,235.6 849.0,236.9 849.3,229.0 849.6,227.4 849.9,222.4 850.1,218.8 850.4,215.1 850.7,208.2 851.0,201.2 851.2,194.3 851.5,187.7 851.8,180.6 852.0,175.8 852.3,171.5 852.5,166.8 852.8,162.2 853.0,157.4 853.2,154.3 853.5,150.7 853.7,147.5 854.0,144.1 854.2,140.9 854.5,138.2 854.8,136.0 855.0,133.2 855.3,130.6 855.5,129.8 855.8,129.0 856.0,128.1 856.3,127.3 856.6,127.7 856.8,128.0 857.1,128.6 857.4,128.9 857.7,129.1 858.0,129.5 858.2,129.8 858.5,130.6 858.8,131.2 859.0,131.8 859.3,132.7 859.6,133.0 859.9,133.7 860.1,134.3 860.4,134.8 860.7,135.3 860.9,135.5 861.2,136.0 861.5,136.6 861.8,137.1 862.0,137.2 862.3,138.1 862.6,138.8 862.9,139.6 863.2,140.1 863.4,141.1 863.7,141.5 864.0,142.5 864.3,143.1 864.6,144.0 864.8,144.8 865.1,145.6 865.4,146.7 865.7,147.4 865.9,148.1 866.2,148.8 866.5,149.1 866.8,151.8 867.0,154.8 867.3,157.5 867.6,160.3 867.9,164.4 868.1,168.9 868.4,173.5 868.7,179.2 869.0,184.7 869.2,190.4 869.5,196.0 869.8,201.7 870.0,207.5 870.3,213.2 870.6,218.4 870.9,224.5 871.2,232.1 871.4,235.7 871.7,247.0 872.0,246.7 872.3,258.5 872.5,255.4 872.8,267.9 873.0,261.6 873.3,282.0" fill="none" stroke="#b21e48" stroke-width="3" stroke-linejoin="round" stroke-linecap="round"/><polygon points="873.3,260.4 874.2,272.0 875.1,279.4 876.0,287.3 876.9,291.4 877.8,299.5 878.4,292.3 879.0,285.5 880.0,271.5 881.0,258.9 882.0,241.7 883.0,238.6 884.0,227.8 885.0,223.5 886.0,223.9 887.0,223.3 887.9,219.7 888.9,219.3 889.8,219.5 890.7,219.1 891.5,218.6 892.2,219.8 893.0,218.0 894.0,230.6 895.0,236.7 895.8,249.6 896.5,264.9 896.5,274.0 895.8,261.2 895.0,252.4 894.0,242.5 893.0,236.2 892.2,233.5 891.5,230.6 890.7,230.6 889.8,235.8 888.9,233.4 887.9,234.9 887.0,239.2 886.0,238.6 885.0,241.6 884.0,242.7 883.0,251.4 882.0,262.4 881.0,275.9 880.0,296.9 879.0,301.6 878.4,304.9 877.8,310.6 876.9,307.3 876.0,302.0 875.1,295.5 874.2,288.3 873.3,285.3" fill="#b21e48" stroke="#b21e48" stroke-width="2" stroke-linejoin="round"/><polyline points="896.5,271.4 896.8,267.7 897.1,277.7 897.4,273.9 897.7,282.5 898.0,277.3 898.3,280.4 898.5,268.0 898.8,270.8 899.0,244.6 899.3,236.7" fill="none" stroke="#b21e48" stroke-width="3" stroke-linejoin="round" stroke-linecap="round"/><polygon points="899.3,219.9 899.9,216.2 900.5,208.6 901.3,204.3 902.0,198.9 902.8,199.8 903.7,199.8 904.6,199.6 905.5,198.3 906.5,198.5 907.5,204.6 908.5,206.6 909.5,209.5 910.2,216.4 911.0,222.6 911.9,226.9 912.7,232.8 912.7,243.5 911.9,238.2 911.0,235.3 910.2,230.6 909.5,226.3 908.5,220.9 907.5,216.6 906.5,217.6 905.5,213.6 904.6,215.5 903.7,214.8 902.8,217.6 902.0,216.4 901.3,220.2 900.5,226.8 899.9,232.1 899.3,239.5" fill="#b21e48" stroke="#b21e48" stroke-width="2" stroke-linejoin="round"/><polyline points="912.7,240.3 913.0,230.9 913.2,237.6 913.5,221.6 913.7,231.4 914.0,220.3" fill="none" stroke="#b21e48" stroke-width="3" stroke-linejoin="round" stroke-linecap="round"/><polygon points="914.0,217.1 914.8,212.7 915.5,206.3 916.2,205.8 916.9,200.1 917.6,197.7 918.4,202.1 919.2,202.4 920.0,202.4 921.0,206.7 922.0,206.7 923.0,210.5 924.0,208.2 925.0,208.0 926.0,207.2 927.0,207.1 927.6,211.1 928.3,215.1 929.0,219.5 929.6,226.1 930.5,231.3 931.5,232.7 932.2,236.9 933.0,236.1 933.7,239.2 934.5,245.5 935.2,248.8 936.0,255.5 937.0,256.0 938.0,253.0 939.0,250.8 940.0,253.7 940.9,256.0 941.8,257.4 942.8,254.9 943.7,259.1 944.6,255.7 945.5,258.4 946.3,251.7 947.2,258.8 948.0,256.6 949.0,256.6 950.0,255.7 951.0,257.2 952.0,258.2 953.0,259.2 954.0,260.3 955.1,261.3 956.1,261.9 957.2,264.0 958.2,260.1 959.3,264.9 960.3,263.0 961.2,269.6 962.1,272.2 963.0,269.9 963.8,277.5 964.7,277.9 965.6,280.5 966.6,280.4 967.6,280.0 968.6,284.9 969.7,282.8 970.7,284.5 971.7,285.3 972.7,282.5 973.7,286.7 974.6,286.5 975.5,285.2 976.4,285.5 977.4,287.5 978.5,282.9 979.5,282.9 980.6,284.6 981.6,281.7 982.7,285.3 983.7,284.4 984.8,283.1 985.8,284.8 986.6,285.1 987.5,277.3 988.3,276.6 989.2,279.1 990.0,278.9 991.0,280.8 992.1,281.4 993.1,277.6 994.2,282.1 995.2,277.8 996.3,280.3 997.4,275.9 998.4,277.6 999.5,279.3 1000.5,276.7 1001.2,284.4 1001.9,281.7 1002.7,283.8 1003.5,282.7 1004.5,283.4 1005.5,289.2 1006.6,288.2 1007.6,285.2 1008.6,287.1 1009.5,285.3 1010.4,293.5 1011.3,289.7 1012.3,293.1 1013.3,288.6 1014.3,286.5 1015.3,287.6 1016.3,287.8 1017.3,285.6 1018.3,291.0 1019.3,289.6 1020.0,290.7 1020.7,286.1 1021.7,290.6 1022.6,288.9 1023.6,292.6 1024.5,300.9 1025.5,299.2 1026.4,302.3 1027.4,303.7 1028.3,308.4 1029.2,307.9 1030.1,308.9 1031.0,313.1 1031.9,310.1 1032.8,309.9 1033.8,316.1 1034.9,314.2 1035.9,311.8 1037.0,319.2 1038.0,317.1 1039.0,315.7 1040.0,317.4 1041.0,314.1 1042.0,313.0 1043.0,318.5 1044.0,323.1 1045.0,320.7 1046.0,322.4 1047.0,321.5 1047.9,323.9 1048.9,322.3 1049.8,324.4 1050.7,326.0 1051.6,329.5 1052.5,328.2 1053.4,328.0 1054.4,331.2 1055.5,332.8 1056.5,332.3 1057.5,329.0 1058.6,330.0 1059.6,327.2 1060.5,326.4 1061.4,327.4 1062.3,323.3 1063.2,324.1 1064.1,319.6 1065.0,321.6 1065.9,321.7 1066.8,316.5 1067.7,314.7 1068.5,315.7 1069.4,319.4 1070.3,317.8 1071.1,315.5 1072.0,316.6 1072.8,309.7 1073.7,306.2 1074.5,310.1 1075.0,301.7 1075.7,311.0 1076.6,308.0 1077.5,310.3 1078.3,308.1 1079.2,310.8 1080.1,309.9 1081.0,310.7 1081.9,314.5 1082.8,310.5 1083.7,312.0 1084.6,310.7 1085.5,314.9 1086.4,311.4 1087.3,314.6 1088.3,312.0 1089.2,314.3 1090.2,307.8 1091.1,308.1 1092.1,307.4 1093.0,312.5 1093.8,299.0 1094.5,294.4 1095.2,303.2 1096.0,307.6 1096.9,311.6 1097.9,311.0 1098.8,307.2 1099.8,314.3 1100.7,311.8 1101.7,311.4 1102.6,315.9 1103.4,315.5 1104.2,314.9 1105.0,312.9 1105.8,314.8 1106.6,316.4 1106.7,281.4 1106.7,290.1 1106.6,338.9 1105.8,337.5 1105.0,339.3 1104.2,337.4 1103.4,336.8 1102.6,335.2 1101.7,341.1 1100.7,338.2 1099.8,340.0 1098.8,337.1 1097.9,337.4 1096.9,345.3 1096.0,339.5 1095.2,343.0 1094.5,343.7 1093.8,340.1 1093.0,338.3 1092.1,342.2 1091.1,342.5 1090.2,337.9 1089.2,341.1 1088.3,339.2 1087.3,335.2 1086.4,341.4 1085.5,335.0 1084.6,336.1 1083.7,340.9 1082.8,344.0 1081.9,340.7 1081.0,338.0 1080.1,336.3 1079.2,335.8 1078.3,338.0 1077.5,339.3 1076.6,338.7 1075.7,345.1 1075.0,342.4 1074.5,339.9 1073.7,339.1 1072.8,338.4 1072.0,338.0 1071.1,338.6 1070.3,339.9 1069.4,344.4 1068.5,344.2 1067.7,340.5 1066.8,342.6 1065.9,344.1 1065.0,347.9 1064.1,347.1 1063.2,345.6 1062.3,343.4 1061.4,346.1 1060.5,345.7 1059.6,346.2 1058.6,345.0 1057.5,350.0 1056.5,346.0 1055.5,349.3 1054.4,349.4 1053.4,348.9 1052.5,349.5 1051.6,346.9 1050.7,349.1 1049.8,346.8 1048.9,345.9 1047.9,346.7 1047.0,346.4 1046.0,345.1 1045.0,345.0 1044.0,345.5 1043.0,345.7 1042.0,346.0 1041.0,346.1 1040.0,345.2 1039.0,342.8 1038.0,344.4 1037.0,342.1 1035.9,340.0 1034.9,342.0 1033.8,342.8 1032.8,338.6 1031.9,337.4 1031.0,343.0 1030.1,342.8 1029.2,336.6 1028.3,342.6 1027.4,341.6 1026.4,341.0 1025.5,341.9 1024.5,340.5 1023.6,334.2 1022.6,336.3 1021.7,337.7 1020.7,335.3 1020.0,340.1 1019.3,338.5 1018.3,335.5 1017.3,331.6 1016.3,329.0 1015.3,326.8 1014.3,329.9 1013.3,328.8 1012.3,327.5 1011.3,320.9 1010.4,322.5 1009.5,317.0 1008.6,315.1 1007.6,317.8 1006.6,315.8 1005.5,317.2 1004.5,315.4 1003.5,316.5 1002.7,327.2 1001.9,339.2 1001.2,325.6 1000.5,316.3 999.5,316.5 998.4,312.8 997.4,314.3 996.3,314.6 995.2,310.6 994.2,313.5 993.1,310.0 992.1,311.5 991.0,311.3 990.0,306.7 989.2,309.4 988.3,315.7 987.5,318.4 986.6,316.2 985.8,318.6 984.8,321.5 983.7,318.2 982.7,317.8 981.6,315.0 980.6,315.4 979.5,316.4 978.5,317.6 977.4,312.8 976.4,317.1 975.5,310.8 974.6,310.4 973.7,308.5 972.7,311.5 971.7,307.3 970.7,305.8 969.7,307.3 968.6,305.7 967.6,307.7 966.6,310.2 965.6,305.8 964.7,304.9 963.8,296.4 963.0,296.8 962.1,290.7 961.2,292.6 960.3,288.3 959.3,286.2 958.2,282.3 957.2,280.7 956.1,280.0 955.1,277.6 954.0,274.5 953.0,272.3 952.0,270.6 951.0,271.2 950.0,271.1 949.0,271.2 948.0,272.7 947.2,277.0 946.3,280.2 945.5,285.9 944.6,289.1 943.7,284.4 942.8,281.9 941.8,279.8 940.9,277.4 940.0,275.7 939.0,277.9 938.0,271.6 937.0,269.7 936.0,266.8 935.2,266.5 934.5,259.7 933.7,252.7 933.0,251.2 932.2,252.0 931.5,248.2 930.5,242.8 929.6,237.0 929.0,232.5 928.3,228.0 927.6,223.1 927.0,220.3 926.0,223.5 925.0,222.9 924.0,223.4 923.0,225.4 922.0,222.5 921.0,219.4 920.0,219.6 919.2,220.4 918.4,217.3 917.6,220.0 916.9,218.0 916.2,223.5 915.5,224.9 914.8,227.5 914.0,230.6" fill="#b21e48" stroke="#b21e48" stroke-width="2" stroke-linejoin="round"/><polyline points="1106.7,287.4 1106.8,278.9 1107.1,284.4 1107.4,279.9 1107.7,285.4 1108.0,279.0 1108.3,285.8 1108.6,279.2 1108.9,284.6 1109.2,279.9 1109.5,284.9 1109.8,279.4 1110.1,284.9 1110.4,279.8 1110.7,284.5 1111.0,279.2 1111.3,284.6 1111.6,280.2 1111.9,285.9 1112.2,279.2 1112.5,285.6 1112.8,279.2 1113.1,285.3 1113.4,279.0 1113.7,284.8 1113.9,279.7 1114.2,286.8 1114.5,280.7 1114.8,286.2 1115.1,279.2 1115.4,286.0 1115.7,280.2 1116.0,284.6 1116.3,280.1 1116.6,285.7 1116.9,280.2 1117.2,285.2 1117.5,279.7 1117.8,285.8 1118.1,280.3 1118.4,285.0 1118.7,281.2 1119.0,285.1 1119.3,281.0 1119.6,286.2 1119.9,280.6 1120.2,284.4 1120.5,280.8 1120.8,284.7 1121.1,279.4 1121.4,284.3 1121.7,277.5 1122.0,284.4 1122.3,278.2 1122.6,283.5 1122.9,279.3 1123.2,282.3 1123.5,278.3 1123.8,281.7 1124.1,277.3 1124.4,281.6 1124.7,277.6 1125.0,282.4 1125.3,275.8 1125.6,280.7 1125.9,275.9 1126.2,281.3 1126.5,275.0 1126.8,280.2 1127.1,274.7 1127.4,279.3 1127.7,275.5 1128.0,278.2 1128.3,274.9 1128.6,278.2 1128.9,272.9 1129.2,277.4 1129.5,272.9 1129.8,277.4 1130.1,272.8 1130.4,277.0 1130.7,271.6 1131.0,277.2 1131.3,271.9 1131.6,276.6 1131.9,270.9 1132.2,275.1 1132.5,271.4 1132.8,276.1 1133.1,271.0 1133.4,275.8 1133.7,268.5 1134.0,274.3 1134.3,269.0 1134.6,274.0 1134.9,269.1 1135.2,274.4 1135.5,270.0 1135.7,275.2 1136.0,267.0 1136.3,274.0 1136.6,269.4 1136.9,274.0 1137.2,266.8 1137.5,274.6 1137.8,266.8 1138.1,274.3 1138.4,268.0 1138.7,272.2 1139.0,267.4 1139.3,273.5 1139.6,267.2 1139.9,271.6 1140.1,263.8 1140.4,274.1 1140.6,257.0" fill="none" stroke="#b21e48" stroke-width="3" stroke-linejoin="round" stroke-linecap="round"/><polygon points="1140.6,258.4 1141.3,264.6 1141.3,275.8 1140.6,277.4" fill="#b21e48" stroke="#b21e48" stroke-width="2" stroke-linejoin="round"/><polyline points="1141.3,275.0 1141.6,266.4 1141.9,271.1 1142.2,265.8 1142.5,271.3 1142.8,266.9 1143.1,272.4 1143.4,264.6 1143.7,272.8 1144.0,264.4 1144.3,270.8 1144.6,264.3 1144.9,269.9 1145.2,265.6 1145.5,269.9 1145.8,265.3 1146.1,269.7 1146.4,263.8 1146.7,270.1 1147.0,263.9 1147.3,269.4 1147.6,263.8 1147.9,269.0 1148.2,262.7 1148.5,267.5 1148.8,263.0 1149.1,266.2 1149.4,261.5 1149.7,266.7 1150.0,260.7 1150.3,264.6 1150.6,260.6 1150.9,264.5 1151.2,260.0 1151.5,264.6 1151.8,259.0 1152.1,262.7 1152.4,257.8 1152.7,262.3 1152.9,256.3 1153.2,262.0 1153.5,257.3 1153.8,261.5 1154.1,254.9 1154.4,259.9 1154.7,255.4 1155.0,260.2 1155.3,253.5 1155.6,258.5 1155.9,251.9 1156.2,258.6 1156.5,252.2 1156.8,257.0 1157.1,251.7 1157.4,257.1 1157.7,251.4 1158.0,256.0 1158.3,251.3 1158.6,256.9 1158.9,250.2 1159.2,254.5 1159.5,248.3 1159.8,252.8 1160.1,248.8 1160.4,253.3 1160.7,247.4 1161.0,252.2 1161.3,245.6 1161.6,251.8 1161.9,245.5 1162.1,250.0 1162.4,244.9 1162.7,250.2 1163.0,243.8 1163.3,248.5 1163.6,243.8 1163.9,247.9 1164.2,242.4 1164.5,247.4 1164.8,241.8 1165.1,246.8 1165.4,241.1 1165.7,246.6 1166.0,241.1 1166.3,245.3 1166.6,236.6 1166.8,242.8 1167.1,235.5 1167.4,240.3 1167.7,234.2 1168.0,239.3 1168.2,231.6 1168.5,236.8 1168.8,231.8 1169.1,235.1 1169.4,229.9 1169.6,234.4 1169.9,230.1 1170.2,234.7 1170.5,228.2 1170.8,233.9 1171.0,227.1 1171.3,233.6 1171.6,224.6 1171.9,232.5 1172.2,224.9 1172.4,230.4 1172.7,224.7 1173.0,229.2 1173.3,223.9 1173.6,229.2 1173.9,224.3 1174.1,227.9 1174.4,223.4 1174.7,226.5 1175.0,223.0 1175.3,226.5 1175.6,221.9 1175.9,225.5 1176.2,221.8 1176.4,226.0 1176.7,219.9 1177.0,224.6 1177.3,219.1 1177.6,225.0 1177.9,220.4 1178.2,227.3 1178.5,222.6 1178.8,227.0 1179.1,224.1 1179.4,228.1 1179.7,224.5 1179.9,229.9 1180.2,226.3 1180.5,230.8 1180.8,228.6 1181.1,232.4 1181.4,229.9 1181.7,234.3 1182.0,230.5 1182.3,236.3 1182.6,233.5 1182.8,237.8 1183.1,234.8 1183.4,240.8 1183.7,236.7 1184.0,242.4 1184.2,240.0 1184.5,244.5 1184.8,242.4 1185.1,246.6 1185.3,241.5 1185.6,247.3 1185.9,244.6 1186.2,248.1 1186.4,245.5 1186.7,250.7 1187.0,246.7 1187.2,251.6 1187.5,246.2 1187.8,251.9 1188.1,248.6 1188.4,253.0 1188.7,248.8 1188.9,255.1 1189.2,250.1 1189.5,257.0 1189.8,251.5 1190.1,257.9 1190.4,253.6 1190.7,258.9 1191.0,254.5 1191.3,259.9 1191.6,256.8 1191.8,260.7 1192.1,257.9 1192.4,263.3 1192.7,259.1 1193.0,263.8" fill="none" stroke="#b21e48" stroke-width="3" stroke-linejoin="round" stroke-linecap="round"/>
<clipPath id="cr"><rect x="950" y="0" width="155.5" height="447"/></clipPath>
<g clip-path="url(#cr)"><polyline points="752.4,172.9 752.7,172.9 753.0,172.9 753.3,173.0 753.6,172.9 753.8,172.6 754.1,172.2 754.4,171.6 754.7,171.3 755.0,171.5 755.3,172.3 755.6,172.8 755.8,173.8 756.1,174.7 756.4,175.9 756.7,176.8 757.0,178.0 757.2,178.4 757.5,178.8 757.8,179.5 758.1,178.8 758.4,178.6 758.7,178.5 759.0,178.2 759.3,178.2 759.5,177.9 759.8,178.0 760.1,178.1 760.4,178.2 760.7,177.8 761.0,177.0 761.3,175.9 761.6,175.2 761.9,174.9 762.2,174.6 762.5,174.5 762.8,174.1 763.0,173.6 763.3,172.9 763.6,172.5 763.9,171.6 764.2,171.0 764.5,170.6 764.8,170.8 765.1,171.2 765.4,171.7 765.6,172.2 765.9,172.7 766.2,173.1 766.5,173.8 766.8,174.8 767.0,175.3 767.3,176.3 767.5,176.7 767.8,177.4 768.1,177.9 768.3,178.5 768.6,178.9 768.9,178.3 769.2,177.9 769.5,177.9 769.7,178.1 770.0,178.4 770.3,178.8 770.6,179.1 770.9,179.0 771.2,179.4 771.5,179.5 771.7,179.4 772.0,179.7 772.3,179.5 772.6,179.5 772.9,180.7 773.2,181.5 773.5,182.3 773.8,183.0 774.1,183.8 774.4,184.7 774.7,185.3 775.0,186.2 775.3,187.0 775.6,186.7 775.9,186.4 776.2,186.4 776.5,186.0 776.8,185.5 777.0,185.1 777.3,184.8 777.6,184.2 777.9,183.5 778.2,182.7 778.5,181.8 778.8,182.6 779.1,183.4 779.4,184.4 779.7,185.5 780.0,186.3 780.2,187.4 780.5,188.5 780.8,190.0 781.1,191.1 781.4,191.7 781.7,192.6 782.0,193.6 782.3,194.1 782.6,194.2 782.9,194.7 783.1,195.0 783.4,195.4 783.7,195.4 784.0,195.5 784.3,195.3 784.6,195.8 784.9,196.1 785.1,197.2 785.4,198.0 785.7,198.5 786.0,199.1 786.3,198.5 786.6,198.5 786.8,197.7 787.1,197.4 787.4,196.8 787.7,196.4 787.9,196.0 788.2,195.1 788.5,194.8 788.8,193.7 789.0,193.2 789.3,192.2 789.5,191.4 789.8,190.1 790.1,189.3 790.3,188.9 790.6,188.7 790.9,190.3 791.1,191.4 791.4,192.0 791.7,192.4 791.9,192.6 792.2,193.2 792.4,194.3 792.7,195.5 793.0,195.4 793.3,195.6 793.6,195.5 793.9,195.7 794.1,195.9 794.4,196.1 794.7,195.9 795.0,195.5 795.3,195.3 795.6,195.3 795.9,194.9 796.1,194.5 796.4,194.2 796.7,193.8 797.0,194.0 797.3,193.7 797.6,192.4 797.8,191.0 798.1,189.7 798.4,189.0 798.6,187.7 798.9,186.3 799.2,185.0 799.5,183.0 799.7,180.8 800.0,179.4 800.3,176.1 800.6,172.8 800.9,169.8 801.2,166.4 801.5,163.2 801.8,159.5 802.1,157.7 802.3,155.9 802.6,154.4 802.9,152.4 803.2,150.3 803.5,148.7 803.7,147.3 804.0,145.8 804.3,144.2 804.6,142.1 804.9,140.0 805.1,137.9 805.4,135.3 805.7,133.2 806.0,131.3 806.3,129.1 806.5,123.1 806.8,117.5 807.0,111.2 807.3,105.7 807.5,99.7 807.8,91.7 808.0,83.9 808.3,75.4 808.5,67.2 808.8,59.2 808.8,45.9 809.1,45.8 809.3,45.1 809.6,44.9 809.9,44.6 810.2,44.6 810.4,44.5 810.7,44.2 811.0,44.9 811.3,45.4 811.6,45.8 811.9,46.5 812.2,47.1 812.5,47.4 812.8,48.1 813.1,48.9 813.4,49.3 813.6,49.7 813.9,49.7 814.2,50.3 814.5,50.7 814.8,50.8 815.1,51.4 815.4,51.5 815.7,51.7 816.0,51.9 816.3,52.2 816.5,52.6 816.8,53.3 817.1,53.9 817.4,54.5 817.7,55.3 817.9,56.0 818.2,56.2 818.5,56.8 818.8,57.3 819.0,57.8 819.3,58.5 819.6,59.6 819.9,60.2 820.1,60.3 820.4,60.7 820.7,61.5 821.0,63.1 821.2,64.4 821.5,65.5 821.7,68.8 822.0,72.2 822.2,76.0 822.5,81.7 822.7,87.9 823.0,93.9 823.2,99.6 823.5,104.7 823.8,111.7 824.1,118.5 824.4,125.4 824.7,132.9 825.0,140.3 825.3,143.7 825.6,147.2 825.9,150.7 826.1,154.3 826.4,157.8 826.7,161.6 827.0,165.2 827.3,169.1 827.6,172.6 827.9,175.8 828.1,179.1 828.4,182.5 828.7,185.7 829.0,189.2 829.3,193.7 829.6,198.3 829.9,203.2 830.2,207.6 830.5,212.1 830.8,216.1 831.0,220.1 831.3,224.8 831.6,229.0 831.9,229.8 832.1,230.5 832.4,230.9 832.7,231.1 833.0,231.7 833.2,232.2 833.5,232.6 833.8,233.7 834.0,234.6 834.3,234.9 834.6,235.5 834.9,236.0 835.2,236.2 835.4,237.1 835.7,237.3 836.0,238.6 836.3,239.7 836.6,241.2 836.9,242.5 837.2,244.0 837.5,245.5 837.8,246.3 838.1,247.0 838.4,248.1 838.7,248.9 839.0,249.4 839.2,250.5 839.5,251.3 839.8,252.4 840.1,253.1 840.4,253.7 840.7,254.3 841.0,254.4 841.3,255.0 841.6,255.4 841.9,256.3 842.2,257.1 842.5,257.9 842.8,258.2 843.1,258.7 843.4,259.2 843.7,259.6 844.0,260.0 844.3,258.0 844.6,256.0 844.8,254.2 845.1,252.4 845.4,251.2 845.7,249.7 845.9,248.3 846.2,246.3 846.5,244.2 846.8,242.2 847.0,240.3 847.3,238.4 847.6,236.8 847.9,237.2 848.1,237.7 848.4,238.3 848.7,238.9 848.9,239.7 849.2,240.3 849.5,235.7 849.8,230.9 850.1,226.7 850.4,221.9 850.7,217.9 851.0,213.9 851.3,209.8 851.6,205.7 851.9,199.8 852.1,193.6 852.4,187.7 852.7,181.7 852.9,175.7 853.2,169.6 853.5,163.9 853.8,157.5 854.1,151.9 854.4,146.1 854.7,140.5 855.0,136.5 855.3,132.4 855.6,127.9 855.9,123.4 856.2,119.3 856.3,114.5 856.6,115.9 856.8,116.5 857.1,117.3 857.4,117.7 857.7,117.8 858.0,118.1 858.2,118.6 858.5,119.4 858.8,120.0 859.0,120.5 859.3,121.1 859.6,122.0 859.9,123.2 860.1,124.3 860.4,125.2 860.7,125.7 860.9,126.0 861.2,126.6 861.5,127.0 861.8,127.5 862.0,128.1 862.3,128.3 862.6,129.1 862.9,129.5 863.2,130.3 863.4,130.9 863.7,131.5 864.0,132.4 864.3,133.7 864.6,134.9 864.8,135.7 865.1,135.8 865.4,136.2 865.7,136.8 865.9,137.3 866.2,138.0 866.5,138.5 866.8,139.6 867.1,140.9 867.3,141.5 867.6,142.1 867.9,142.8 868.2,148.2 868.4,153.7 868.7,159.3 868.9,165.1 869.2,170.6 869.5,176.4 869.7,182.2 870.0,188.0 870.2,193.8 870.5,199.7 870.8,206.5 871.1,213.4 871.4,220.4 871.7,227.4 872.0,234.8 872.3,238.8 872.6,243.4 872.9,247.6 873.1,252.2 873.4,256.4 873.7,260.9 874.0,265.1 874.3,267.6 874.6,270.4 874.9,273.4 875.1,276.1 875.4,279.2 875.7,281.9 876.0,284.8 876.3,286.9 876.6,288.9 876.9,290.9 877.2,293.2 877.5,295.4 877.8,292.9 878.1,289.8 878.4,287.2 878.7,283.6 879.0,280.3 879.3,272.6 879.6,265.0 879.9,257.9 880.1,250.7 880.4,241.5 880.7,236.0 881.0,226.1 881.3,221.4 881.5,219.4 881.8,225.1 882.0,221.7 882.3,227.6 882.5,223.6 882.8,229.5 883.0,227.5 883.2,233.2 883.5,230.3 883.8,231.9 884.1,226.0 884.4,227.3 884.7,221.7 885.0,224.0 885.3,217.8 885.6,220.4 885.9,213.9 886.1,215.4 886.4,210.1 886.7,211.5 887.0,205.9 887.3,209.5 887.6,203.1 887.9,205.3 888.2,200.7 888.5,203.3 888.8,198.4 889.1,202.0 889.4,194.3 889.7,200.8 889.9,196.5 890.2,200.2 890.5,196.2 890.7,200.9 891.0,196.7 891.2,202.9 891.5,197.4 891.8,203.1 892.0,198.0 892.3,204.2 892.6,200.9 892.9,204.9 893.1,201.3 893.4,206.4 893.7,203.4 893.9,208.4 894.2,205.3 894.5,211.0 894.7,209.4 895.0,215.1 895.2,211.6 895.5,216.8 895.8,214.1 896.0,218.6 896.3,214.8 896.6,217.7 896.9,212.6 897.2,216.0 897.5,211.6 897.8,214.2 898.1,210.0 898.4,212.4 898.7,207.7 899.0,210.7 899.3,205.6 899.6,208.5 899.8,203.4 900.1,206.8 900.4,201.0 900.7,203.7 900.9,197.2 901.2,203.2 901.5,196.7 901.8,201.0 902.1,195.1 902.4,200.1 902.7,194.0 903.0,197.6 903.2,192.3 903.5,195.8 903.8,190.6 904.1,195.2 904.4,188.9 904.7,193.1 905.0,189.6 905.3,195.9 905.6,191.4 905.9,197.5 906.2,192.9 906.5,199.3 906.8,194.9 907.1,200.1 907.4,197.6 907.7,202.9 908.0,198.6 908.3,204.8 908.6,199.4 908.9,204.0 909.1,199.1 909.4,205.1 909.7,200.2 910.0,205.6 910.3,200.7 910.6,205.6 910.9,200.5 911.1,204.8 911.4,200.7 911.7,206.3 912.0,201.4 912.3,205.4 912.6,199.3 912.9,204.2 913.1,198.0 913.4,203.4 913.7,196.4 914.0,199.1 914.3,193.8 914.6,198.4 914.9,193.9 915.1,197.7 915.4,192.3 915.7,196.0 916.0,192.0 916.3,195.8 916.6,191.8 916.9,197.3 917.1,193.8 917.4,198.7 917.7,194.5 918.0,199.2 918.3,196.2 918.6,201.2 918.9,195.6 919.1,203.4 919.4,195.9 919.7,203.4 920.0,197.5 920.3,201.8 920.6,197.7 920.9,203.2 921.1,196.5 921.4,201.8 921.7,197.3 922.0,201.8 922.3,196.1 922.6,201.2 922.9,197.1 923.1,200.6 923.4,195.5 923.7,201.1 924.0,195.8 924.3,200.2 924.6,195.9 924.9,201.1 925.2,194.3 925.5,198.2 925.8,193.5 926.0,197.6 926.3,192.7 926.6,196.8 926.9,188.8 927.2,196.6 927.5,190.7 927.8,195.5 928.1,191.1 928.4,196.2 928.6,193.5 928.9,200.4 929.2,195.3 929.5,201.7 929.8,197.9 930.1,206.8 930.4,201.0 930.7,210.5 930.9,204.9 931.2,212.5 931.5,209.3 931.7,218.6 932.0,213.8 932.2,220.3 932.5,217.5 932.8,224.0 933.1,219.8 933.4,229.0 933.7,223.7 934.0,230.3 934.3,223.6 934.6,229.6 934.9,223.7 935.1,230.8 935.4,221.2 935.7,227.7 936.0,220.7 936.3,226.4 936.5,218.7 936.8,225.7 937.1,219.9 937.4,225.1 937.6,218.7 937.9,225.2 938.2,216.7 938.4,224.7 938.7,216.6 939.0,225.9 939.2,220.7 939.5,230.6 939.7,223.4 940.0,233.8 940.3,226.6 940.5,235.2 940.8,229.1 941.0,239.2 941.3,232.7 941.6,240.7 941.9,236.2 942.1,243.7 942.4,240.4 942.7,248.5 943.0,243.9 943.3,251.8 943.5,246.3 943.8,253.1 944.1,249.9 944.3,255.1 944.6,251.2 944.9,256.8 945.2,252.7 945.4,256.6 945.7,253.0 946.0,256.6 946.3,254.0 946.6,257.5 946.9,254.6 947.1,257.5 947.4,255.5 947.7,258.6 948.0,255.5 948.3,258.2 948.6,256.3 948.9,258.9 949.2,256.7 949.5,259.3 949.8,256.0 950.1,259.4 950.4,256.6 950.6,259.1 950.9,256.8 951.2,259.7 951.5,257.0 951.8,259.8 952.1,257.2 952.4,259.6 952.7,257.7 953.0,260.5 953.3,257.5 953.6,260.5 953.9,257.9 954.2,261.8 954.5,257.9 954.8,261.0 955.1,258.5 955.4,261.5 955.6,258.7 955.9,261.8 956.2,259.5 956.5,261.8 956.8,259.8 957.1,263.2 957.4,259.3 957.7,262.7 958.0,259.2 958.3,263.9 958.6,260.1 958.9,264.2 959.2,260.7 959.5,264.6 959.7,261.2 960.0,264.5 960.3,260.9 960.6,265.1 960.9,262.9 961.2,266.1 961.5,262.7 961.8,266.8 962.1,263.2 962.3,267.3 962.6,264.3 962.9,268.7 963.2,264.2 963.5,268.2 963.8,265.3 964.1,269.1 964.4,266.5 964.6,270.8 964.9,268.0 965.2,272.2 965.5,269.4 965.7,272.9 966.0,270.1 966.3,274.5 966.6,272.1 966.8,275.7 967.1,273.6 967.4,276.9 967.7,273.5 968.0,277.5 968.3,270.2 968.6,276.6 968.8,269.1 969.1,274.9 969.4,268.1 969.7,275.3 970.0,266.0" fill="none" stroke="#0b6fbc" stroke-width="3" stroke-linejoin="round" stroke-linecap="round"/><polygon points="970.0,262.6 970.8,259.7 971.7,256.2 972.5,253.4 973.4,249.5 974.4,249.3 975.3,245.3 976.1,249.6 976.9,248.1 977.7,248.2 978.5,250.4 979.3,250.3 980.1,251.1 980.9,254.2 981.7,253.7 982.6,258.2 983.5,257.5 984.4,256.4 985.3,256.6 986.1,257.4 987.0,252.5 988.0,256.0 989.0,254.9 990.0,256.8 991.0,258.1 992.0,254.3 993.0,258.2 994.0,258.4 995.0,255.6 996.0,254.1 997.0,257.1 998.0,256.1 999.0,255.5 1000.0,254.8 1000.5,252.8 1001.0,255.7 1002.0,257.8 1003.0,259.3 1003.9,259.5 1004.9,261.9 1005.8,263.9 1006.7,266.6 1007.7,266.8 1008.6,268.9 1009.5,267.6 1010.4,267.2 1011.3,268.5 1012.3,265.5 1013.2,267.7 1014.1,265.6 1015.0,263.5 1016.0,265.1 1017.0,265.1 1018.0,266.6 1019.0,263.5 1020.0,265.2 1021.0,263.7 1022.0,266.9 1022.9,262.6 1023.8,262.7 1024.7,265.9 1025.6,262.8 1026.5,268.3 1027.4,261.6 1028.4,262.2 1029.3,261.5 1030.3,263.6 1031.3,262.7 1032.2,261.0 1033.2,266.6 1034.1,259.8 1035.1,264.9 1036.1,266.7 1037.0,264.0 1038.0,266.9 1039.0,265.7 1039.9,265.9 1040.8,261.9 1041.8,263.0 1042.8,259.3 1043.7,262.5 1044.7,264.5 1045.6,259.3 1046.5,261.3 1047.5,264.3 1048.4,263.9 1049.3,260.2 1050.2,260.4 1051.2,264.6 1052.1,264.5 1053.0,264.3 1053.9,265.6 1054.9,262.4 1055.8,258.3 1056.8,263.0 1057.7,261.6 1058.7,264.9 1059.6,265.0 1060.6,260.2 1061.7,264.2 1062.7,257.8 1063.7,259.9 1064.7,262.4 1065.8,263.4 1066.8,259.8 1067.7,260.9 1068.5,263.2 1069.4,262.8 1070.3,260.4 1071.1,260.0 1072.0,255.4 1072.8,257.6 1073.7,263.4 1074.5,259.8 1075.2,247.3 1076.0,257.3 1077.0,261.2 1078.0,257.0 1079.0,261.1 1080.0,261.9 1081.0,258.0 1081.9,262.1 1082.8,258.7 1083.7,264.8 1084.6,259.1 1085.5,264.4 1086.4,265.6 1087.3,264.8 1088.2,261.9 1089.1,263.4 1090.0,261.9 1090.9,264.0 1091.8,262.4 1092.6,262.2 1093.5,262.5 1094.3,261.4 1095.0,242.5 1095.8,258.7 1096.6,257.2 1097.5,258.0 1098.3,257.5 1099.2,260.2 1100.0,260.7 1100.9,261.7 1101.8,264.8 1102.6,260.3 1103.5,261.5 1104.4,265.7 1105.3,262.0 1106.3,267.3 1106.4,234.1 1106.4,240.9 1106.3,299.5 1105.3,297.9 1104.4,303.3 1103.5,297.9 1102.6,301.1 1101.8,296.0 1100.9,299.4 1100.0,296.3 1099.2,299.9 1098.3,295.1 1097.5,297.9 1096.6,299.9 1095.8,302.9 1095.0,299.7 1094.3,296.7 1093.5,298.9 1092.6,297.0 1091.8,297.6 1090.9,299.9 1090.0,299.6 1089.1,298.1 1088.2,305.1 1087.3,302.0 1086.4,303.6 1085.5,297.0 1084.6,306.3 1083.7,301.3 1082.8,302.7 1081.9,298.2 1081.0,302.5 1080.0,304.5 1079.0,301.4 1078.0,302.2 1077.0,300.5 1076.0,300.6 1075.2,300.3 1074.5,297.3 1073.7,299.3 1072.8,299.2 1072.0,300.7 1071.1,300.7 1070.3,305.1 1069.4,303.1 1068.5,300.3 1067.7,303.0 1066.8,303.4 1065.8,302.5 1064.7,304.8 1063.7,306.8 1062.7,303.7 1061.7,307.1 1060.6,307.2 1059.6,307.2 1058.7,307.2 1057.7,308.9 1056.8,309.7 1055.8,303.9 1054.9,309.4 1053.9,307.3 1053.0,307.8 1052.1,305.0 1051.2,305.5 1050.2,310.7 1049.3,308.8 1048.4,307.3 1047.5,309.3 1046.5,308.8 1045.6,308.1 1044.7,311.6 1043.7,309.3 1042.8,307.7 1041.8,307.0 1040.8,307.5 1039.9,308.8 1039.0,308.8 1038.0,306.5 1037.0,301.2 1036.1,302.9 1035.1,299.3 1034.1,300.2 1033.2,300.4 1032.2,299.6 1031.3,307.8 1030.3,301.4 1029.3,297.1 1028.4,298.5 1027.4,299.0 1026.5,298.5 1025.6,293.6 1024.7,288.2 1023.8,288.9 1022.9,287.3 1022.0,281.7 1021.0,283.7 1020.0,282.2 1019.0,282.0 1018.0,285.6 1017.0,281.8 1016.0,283.6 1015.0,280.0 1014.1,280.7 1013.2,279.0 1012.3,281.7 1011.3,281.1 1010.4,278.6 1009.5,277.5 1008.6,279.1 1007.7,277.0 1006.7,276.0 1005.8,277.6 1004.9,278.1 1003.9,275.1 1003.0,273.7 1002.0,275.2 1001.0,272.0 1000.5,275.4 1000.0,271.0 999.0,271.5 998.0,275.7 997.0,277.0 996.0,273.1 995.0,276.7 994.0,276.1 993.0,278.3 992.0,276.4 991.0,276.5 990.0,278.9 989.0,276.2 988.0,278.6 987.0,276.0 986.1,279.7 985.3,279.5 984.4,275.4 983.5,277.1 982.6,275.0 981.7,277.2 980.9,276.0 980.1,274.3 979.3,270.0 978.5,269.3 977.7,268.0 976.9,271.1 976.1,269.4 975.3,266.5 974.4,265.4 973.4,268.9 972.5,268.5 971.7,271.3 970.8,273.9 970.0,275.2" fill="#0b6fbc" stroke="#0b6fbc" stroke-width="2" stroke-linejoin="round"/><polyline points="1106.4,238.8 1106.5,232.4 1106.8,240.4 1107.1,232.8 1107.4,241.0 1107.7,233.7 1108.0,239.6 1108.3,234.1 1108.6,241.4 1108.9,230.7 1109.2,240.4 1109.5,234.4 1109.8,241.3 1110.1,234.4 1110.4,241.2 1110.7,234.4 1111.0,241.6 1111.3,234.4 1111.6,241.3 1111.9,232.6 1112.2,241.4 1112.5,232.5 1112.8,241.2 1113.1,233.4 1113.4,241.8 1113.6,233.1 1113.9,241.5 1114.2,234.1 1114.5,239.4 1114.8,232.8 1115.1,240.8 1115.4,231.7 1115.7,241.7 1116.0,233.4 1116.3,241.7 1116.6,232.1 1116.9,239.9 1117.2,231.2 1117.5,241.4 1117.8,233.1 1118.1,240.2 1118.4,233.2 1118.7,240.8 1119.0,234.2 1119.3,239.1 1119.6,231.9 1119.9,240.9 1120.2,232.0 1120.5,240.6" fill="none" stroke="#0b6fbc" stroke-width="3" stroke-linejoin="round" stroke-linecap="round"/><polygon points="1120.5,231.4 1121.5,230.9 1122.6,232.1 1123.6,228.2 1124.7,230.2 1125.7,231.3 1126.7,230.7 1127.8,226.4 1128.8,226.4 1129.8,227.0 1130.9,226.8 1131.9,229.3 1133.0,228.3 1134.0,228.1 1135.0,226.2 1135.9,226.1 1136.9,227.0 1137.9,227.1 1138.8,225.5 1139.8,225.6 1140.6,213.8 1141.4,224.0 1142.4,224.9 1143.4,222.2 1144.3,224.4 1145.3,222.9 1146.3,222.5 1147.3,224.3 1147.3,232.1 1146.3,232.2 1145.3,233.9 1144.3,232.2 1143.4,232.7 1142.4,235.0 1141.4,236.7 1140.6,238.2 1139.8,239.4 1138.8,238.6 1137.9,239.0 1136.9,237.7 1135.9,237.9 1135.0,239.2 1134.0,239.9 1133.0,237.7 1131.9,239.8 1130.9,242.7 1129.8,241.0 1128.8,241.6 1127.8,241.5 1126.7,240.8 1125.7,240.8 1124.7,242.2 1123.6,242.4 1122.6,240.3 1121.5,241.4 1120.5,242.1" fill="#0b6fbc" stroke="#0b6fbc" stroke-width="2" stroke-linejoin="round"/><polyline points="1147.3,231.7 1147.6,223.9 1147.9,231.3 1148.2,222.7 1148.5,230.3 1148.8,223.7 1149.1,228.9 1149.4,223.4 1149.7,228.2 1150.0,221.8 1150.3,227.7 1150.6,221.0 1150.9,228.0 1151.2,221.5 1151.5,226.7 1151.8,220.8 1152.1,226.8 1152.4,220.9 1152.7,226.3 1152.9,219.3 1153.2,226.6 1153.5,219.4 1153.8,225.1 1154.1,218.7 1154.4,225.5 1154.7,216.5 1155.0,224.6 1155.3,218.5 1155.6,225.0 1155.9,217.6 1156.2,225.0 1156.5,216.5 1156.8,222.7 1157.1,217.8 1157.4,222.5 1157.7,215.9 1158.0,223.5 1158.3,215.5 1158.6,222.8 1158.9,213.2 1159.2,220.6 1159.5,213.9 1159.7,218.4 1160.0,213.0 1160.3,218.2 1160.6,211.0 1160.9,216.6 1161.2,210.3 1161.5,217.7 1161.8,208.1 1162.1,214.7 1162.4,209.2 1162.7,215.5 1163.0,207.4 1163.2,212.9 1163.5,205.7 1163.8,213.8 1164.1,203.3 1164.4,211.5 1164.7,204.7 1165.0,211.3 1165.3,202.6 1165.6,209.2 1165.9,202.1 1166.2,206.2 1166.5,199.3 1166.8,204.6 1167.0,198.2 1167.3,205.2 1167.6,197.2 1167.9,202.1 1168.2,195.0 1168.5,201.3 1168.8,192.7 1169.1,200.8 1169.4,193.9 1169.6,200.1 1169.9,192.3 1170.2,197.7 1170.5,191.3 1170.8,198.7 1171.0,190.3 1171.3,196.4 1171.6,189.8 1171.9,195.9 1172.2,188.8 1172.4,194.4 1172.7,186.4 1173.0,194.4 1173.3,186.1 1173.6,191.6 1173.9,186.3 1174.1,192.9 1174.4,185.0 1174.7,191.2 1175.0,181.5 1175.3,188.6 1175.6,181.5 1175.9,188.0 1176.2,180.7 1176.4,187.5 1176.7,181.6 1177.0,185.8 1177.3,179.5 1177.6,186.7 1177.9,180.0 1178.2,187.4 1178.5,182.2 1178.8,189.1 1179.1,183.5 1179.4,191.0 1179.7,184.2 1179.9,191.8 1180.2,184.8 1180.5,191.5 1180.8,187.8 1181.1,194.1 1181.4,188.6 1181.7,194.2 1182.0,190.3 1182.3,197.3 1182.6,190.4 1182.9,198.3 1183.1,192.2 1183.4,200.3 1183.7,195.8 1184.0,202.5 1184.3,195.9 1184.6,204.1 1184.9,199.5 1185.1,205.9 1185.4,199.8 1185.7,206.6 1186.0,203.5 1186.3,208.9 1186.6,204.4 1186.9,211.7 1187.1,206.7 1187.4,212.2 1187.7,207.4 1188.0,214.0 1188.3,209.5 1188.6,217.3 1188.9,211.2 1189.1,219.9 1189.4,214.4 1189.7,219.6 1190.0,215.3 1190.3,222.6 1190.6,216.4 1190.8,224.3 1191.1,219.2 1191.4,225.4 1191.7,220.1 1192.0,225.9 1192.3,221.8 1192.6,228.3 1192.8,222.0 1193.1,230.1 1193.4,222.4" fill="none" stroke="#0b6fbc" stroke-width="3" stroke-linejoin="round" stroke-linecap="round"/></g>
<path d="M753.1 92.5H798.5" stroke="#32364a" stroke-width="2.9" stroke-linecap="round" fill="none"/>
<path d="M838.0 159.0H917.4" stroke="#32364a" stroke-width="2.9" stroke-linecap="round" fill="none"/>
<path d="M998.5 162.9H1001.1" stroke="#32364a" stroke-width="2.9" stroke-linecap="round" fill="none"/>
<path d="M1097.8 200.4H1101.5" stroke="#32364a" stroke-width="2.9" stroke-linecap="round" fill="none"/>
<path d="M1107.2 200.4H1178.0" stroke="#32364a" stroke-width="2.9" stroke-linecap="round" fill="none"/>
<path d="M1162.2 225.3H1194.0" stroke="#32364a" stroke-width="2.9" stroke-linecap="round" fill="none"/>
<rect x="725.4" y="9.2" width="469.5" height="374.2" fill="none" stroke="#2f3248" stroke-width="1.7"/>
<path d="M1045.8 26.9H1070.4" stroke="#b21e48" stroke-width="3.2"/>
<path d="M1045.8 45.9H1070.4" stroke="#0b6fbc" stroke-width="3.2"/>
<text x="1088.9" y="32.2" text-anchor="start" font-size="14" textLength="86.5" lengthAdjust="spacingAndGlyphs">Orientation 1</text>
<text x="1088.9" y="50.9" text-anchor="start" font-size="14" textLength="88.8" lengthAdjust="spacingAndGlyphs">Orientation 2</text>
<text x="719.2" y="14.8" text-anchor="end" font-size="14" textLength="16.2" lengthAdjust="spacingAndGlyphs">70</text>
<text x="719.2" y="57.1" text-anchor="end" font-size="14" textLength="16.2" lengthAdjust="spacingAndGlyphs">60</text>
<text x="719.2" y="97.8" text-anchor="end" font-size="14" textLength="16.2" lengthAdjust="spacingAndGlyphs">50</text>
<text x="719.2" y="139.4" text-anchor="end" font-size="14" textLength="16.2" lengthAdjust="spacingAndGlyphs">40</text>
<text x="719.2" y="180.3" text-anchor="end" font-size="14" textLength="16.2" lengthAdjust="spacingAndGlyphs">30</text>
<text x="719.2" y="222.5" text-anchor="end" font-size="14" textLength="16.2" lengthAdjust="spacingAndGlyphs">20</text>
<text x="719.2" y="263.9" text-anchor="end" font-size="14" textLength="12.9" lengthAdjust="spacingAndGlyphs">10</text>
<text x="719.2" y="304.7" text-anchor="end" font-size="14" textLength="8.4" lengthAdjust="spacingAndGlyphs">0</text>
<text x="719.2" y="348.1" text-anchor="end" font-size="14" textLength="21.3" lengthAdjust="spacingAndGlyphs">–10</text>
<text x="719.2" y="389.1" text-anchor="end" font-size="14" textLength="24.4" lengthAdjust="spacingAndGlyphs">–20</text>
<text x="726.6" y="406.9" text-anchor="middle" font-size="14" textLength="19.2" lengthAdjust="spacingAndGlyphs">0.1</text>
<text x="878.7" y="406.9" text-anchor="middle" font-size="14">1</text>
<text x="1034.4" y="406.9" text-anchor="middle" font-size="14" textLength="12.8" lengthAdjust="spacingAndGlyphs">10</text>
<text x="1193.0" y="406.9" text-anchor="middle" font-size="14" textLength="22.8" lengthAdjust="spacingAndGlyphs">100</text>
<text x="960.5" y="437.1" text-anchor="middle" font-size="14" textLength="115.8" lengthAdjust="spacingAndGlyphs">Frequency (MHz)</text>
<text transform="translate(672 195.5) rotate(-90)" text-anchor="middle" font-size="14" textLength="215" lengthAdjust="spacingAndGlyphs">Average Conducted EMI (dBµV)</text>
</svg></body></html>
